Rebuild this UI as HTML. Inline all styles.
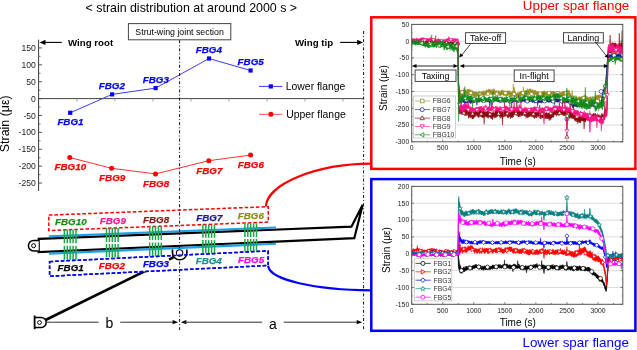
<!DOCTYPE html>
<html><head><meta charset="utf-8"><style>
html,body{margin:0;padding:0;background:#fff;width:637px;height:350px;overflow:hidden}
svg{display:block;will-change:transform}
text{font-family:"Liberation Sans", sans-serif}
</style></head><body>
<svg width="637" height="350" viewBox="0 0 637 350">
<defs>
<clipPath id="clipU"><rect x="411.7" y="24.4" width="211.1" height="117.4"/></clipPath>
<clipPath id="clipL"><rect x="411.7" y="186.4" width="211.1" height="117.9"/></clipPath>
</defs>
<rect width="637" height="350" fill="#fff"/>
<text x="191.3" y="12.4" font-size="12.4" text-anchor="middle" font-weight="normal" font-style="normal" fill="#000" >&lt; strain distribution at around 2000 s &gt;</text>
<line x1="38.6" y1="39.6" x2="38.6" y2="191" stroke="#3a3a3a" stroke-width="1" />
<line x1="38.6" y1="183.05" x2="42.1" y2="183.05" stroke="#444" stroke-width="0.9" />
<text x="35.8" y="186.15" font-size="8.6" text-anchor="end" font-weight="normal" font-style="normal" fill="#222" >-250</text>
<line x1="38.6" y1="174.6" x2="40.6" y2="174.6" stroke="#555" stroke-width="0.8" />
<line x1="38.6" y1="166.16" x2="42.1" y2="166.16" stroke="#444" stroke-width="0.9" />
<text x="35.8" y="169.26" font-size="8.6" text-anchor="end" font-weight="normal" font-style="normal" fill="#222" >-200</text>
<line x1="38.6" y1="157.71" x2="40.6" y2="157.71" stroke="#555" stroke-width="0.8" />
<line x1="38.6" y1="149.27" x2="42.1" y2="149.27" stroke="#444" stroke-width="0.9" />
<text x="35.8" y="152.37" font-size="8.6" text-anchor="end" font-weight="normal" font-style="normal" fill="#222" >-150</text>
<line x1="38.6" y1="140.82" x2="40.6" y2="140.82" stroke="#555" stroke-width="0.8" />
<line x1="38.6" y1="132.38" x2="42.1" y2="132.38" stroke="#444" stroke-width="0.9" />
<text x="35.8" y="135.48" font-size="8.6" text-anchor="end" font-weight="normal" font-style="normal" fill="#222" >-100</text>
<line x1="38.6" y1="123.94" x2="40.6" y2="123.94" stroke="#555" stroke-width="0.8" />
<line x1="38.6" y1="115.49" x2="42.1" y2="115.49" stroke="#444" stroke-width="0.9" />
<text x="35.8" y="118.59" font-size="8.6" text-anchor="end" font-weight="normal" font-style="normal" fill="#222" >-50</text>
<line x1="38.6" y1="107.04" x2="40.6" y2="107.04" stroke="#555" stroke-width="0.8" />
<line x1="38.6" y1="98.6" x2="42.1" y2="98.6" stroke="#444" stroke-width="0.9" />
<text x="35.8" y="101.7" font-size="8.6" text-anchor="end" font-weight="normal" font-style="normal" fill="#222" >0</text>
<line x1="38.6" y1="90.16" x2="40.6" y2="90.16" stroke="#555" stroke-width="0.8" />
<line x1="38.6" y1="81.71" x2="42.1" y2="81.71" stroke="#444" stroke-width="0.9" />
<text x="35.8" y="84.81" font-size="8.6" text-anchor="end" font-weight="normal" font-style="normal" fill="#222" >50</text>
<line x1="38.6" y1="73.26" x2="40.6" y2="73.26" stroke="#555" stroke-width="0.8" />
<line x1="38.6" y1="64.82" x2="42.1" y2="64.82" stroke="#444" stroke-width="0.9" />
<text x="35.8" y="67.92" font-size="8.6" text-anchor="end" font-weight="normal" font-style="normal" fill="#222" >100</text>
<line x1="38.6" y1="56.37" x2="40.6" y2="56.37" stroke="#555" stroke-width="0.8" />
<line x1="38.6" y1="47.93" x2="42.1" y2="47.93" stroke="#444" stroke-width="0.9" />
<text x="35.8" y="51.03" font-size="8.6" text-anchor="end" font-weight="normal" font-style="normal" fill="#222" >150</text>
<line x1="38.6" y1="98.6" x2="363.6" y2="98.6" stroke="#444" stroke-width="1" />
<line x1="76.9" y1="98.6" x2="76.9" y2="101.6" stroke="#999" stroke-width="0.9" />
<line x1="114.9" y1="98.6" x2="114.9" y2="101.6" stroke="#999" stroke-width="0.9" />
<line x1="152.9" y1="98.6" x2="152.9" y2="101.6" stroke="#999" stroke-width="0.9" />
<line x1="190.9" y1="98.6" x2="190.9" y2="101.6" stroke="#999" stroke-width="0.9" />
<line x1="228.9" y1="98.6" x2="228.9" y2="101.6" stroke="#999" stroke-width="0.9" />
<line x1="266.9" y1="98.6" x2="266.9" y2="101.6" stroke="#999" stroke-width="0.9" />
<line x1="304.9" y1="98.6" x2="304.9" y2="101.6" stroke="#999" stroke-width="0.9" />
<line x1="342.9" y1="98.6" x2="342.9" y2="101.6" stroke="#999" stroke-width="0.9" />
<text transform="translate(8.9,123.8) rotate(-90)" font-size="12.4" text-anchor="middle" fill="#000">Strain (&#956;&#949;)</text>
<line x1="42" y1="42.4" x2="61.8" y2="42.4" stroke="#000" stroke-width="1.1" />
<polygon points="39.6,42.4 45.5,39.8 45.5,45" fill="#000"/>
<text x="68" y="46.3" font-size="9.7" text-anchor="start" font-weight="bold" font-style="normal" fill="#000" >Wing root</text>
<text x="295" y="46.3" font-size="9.7" text-anchor="start" font-weight="bold" font-style="normal" fill="#000" >Wing tip</text>
<line x1="340.2" y1="42.4" x2="360" y2="42.4" stroke="#000" stroke-width="1.1" />
<polygon points="363,42.4 357.2,39.8 357.2,45" fill="#000"/>
<rect x="128.4" y="23.6" width="102.4" height="16.2" fill="#fff" stroke="#444" stroke-width="1"/>
<text x="179.6" y="35.2" font-size="8.8" text-anchor="middle" font-weight="normal" font-style="normal" fill="#000" >Strut-wing joint section</text>
<polyline points="70.2,112.8 112.1,94.4 155.6,88.1 209,58.5 250.6,70.5" fill="none" stroke="#3a3aff" stroke-width="1"/>
<rect x="68.1" y="110.7" width="4.2" height="4.2" fill="#0000ff"/>
<rect x="110" y="92.3" width="4.2" height="4.2" fill="#0000ff"/>
<rect x="153.5" y="86" width="4.2" height="4.2" fill="#0000ff"/>
<rect x="206.9" y="56.4" width="4.2" height="4.2" fill="#0000ff"/>
<rect x="248.5" y="68.4" width="4.2" height="4.2" fill="#0000ff"/>
<polyline points="69.8,157.5 111.6,168.3 155.5,173.9 208.8,160.7 250.6,155.1" fill="none" stroke="#ff3030" stroke-width="1"/>
<circle cx="69.8" cy="157.5" r="2.5" fill="#ff0000"/>
<circle cx="111.6" cy="168.3" r="2.5" fill="#ff0000"/>
<circle cx="155.5" cy="173.9" r="2.5" fill="#ff0000"/>
<circle cx="208.8" cy="160.7" r="2.5" fill="#ff0000"/>
<circle cx="250.6" cy="155.1" r="2.5" fill="#ff0000"/>
<text x="57.4" y="125" font-size="9.8" text-anchor="start" font-weight="normal" font-style="normal" fill="#0000ff" style="font-weight:bold;font-style:italic" stroke="#0000ff" stroke-width="0.25">FBG1</text>
<text x="98.8" y="88.8" font-size="9.8" text-anchor="start" font-weight="normal" font-style="normal" fill="#0000ff" style="font-weight:bold;font-style:italic" stroke="#0000ff" stroke-width="0.25">FBG2</text>
<text x="142.8" y="82.5" font-size="9.8" text-anchor="start" font-weight="normal" font-style="normal" fill="#0000ff" style="font-weight:bold;font-style:italic" stroke="#0000ff" stroke-width="0.25">FBG3</text>
<text x="195.8" y="53.3" font-size="9.8" text-anchor="start" font-weight="normal" font-style="normal" fill="#0000ff" style="font-weight:bold;font-style:italic" stroke="#0000ff" stroke-width="0.25">FBG4</text>
<text x="237.6" y="65.2" font-size="9.8" text-anchor="start" font-weight="normal" font-style="normal" fill="#0000ff" style="font-weight:bold;font-style:italic" stroke="#0000ff" stroke-width="0.25">FBG5</text>
<text x="54.5" y="170.2" font-size="9.8" text-anchor="start" font-weight="normal" font-style="normal" fill="#ff0000" style="font-weight:bold;font-style:italic" stroke="#ff0000" stroke-width="0.25">FBG10</text>
<text x="99.1" y="180.6" font-size="9.8" text-anchor="start" font-weight="normal" font-style="normal" fill="#ff0000" style="font-weight:bold;font-style:italic" stroke="#ff0000" stroke-width="0.25">FBG9</text>
<text x="143" y="186.8" font-size="9.8" text-anchor="start" font-weight="normal" font-style="normal" fill="#ff0000" style="font-weight:bold;font-style:italic" stroke="#ff0000" stroke-width="0.25">FBG8</text>
<text x="196.3" y="174" font-size="9.8" text-anchor="start" font-weight="normal" font-style="normal" fill="#ff0000" style="font-weight:bold;font-style:italic" stroke="#ff0000" stroke-width="0.25">FBG7</text>
<text x="237.8" y="168" font-size="9.8" text-anchor="start" font-weight="normal" font-style="normal" fill="#ff0000" style="font-weight:bold;font-style:italic" stroke="#ff0000" stroke-width="0.25">FBG6</text>
<line x1="259" y1="86.4" x2="282.4" y2="86.4" stroke="#3a3aff" stroke-width="1" />
<rect x="268.7" y="84.3" width="4.2" height="4.2" fill="#0000ff"/>
<text x="285.8" y="89.9" font-size="10.4" text-anchor="start" font-weight="normal" font-style="normal" fill="#000" >Lower flange</text>
<line x1="259" y1="114.3" x2="282.4" y2="114.3" stroke="#ff5050" stroke-width="1" />
<circle cx="270.9" cy="114.3" r="2.5" fill="#ff0000"/>
<text x="286.2" y="117.8" font-size="10.4" text-anchor="start" font-weight="normal" font-style="normal" fill="#000" >Upper flange</text>
<polygon points="38.7,238.9 351.4,226.7 362.7,204.7 354.3,238.2 38.7,252" fill="#fff" stroke="#000" stroke-width="2.2" stroke-linejoin="miter"/>
<line x1="49" y1="236.4" x2="276" y2="227.54" stroke="#1ea0e6" stroke-width="2.1" />
<line x1="49" y1="253.65" x2="276" y2="243.72" stroke="#1ea0e6" stroke-width="2.1" />
<path d="M38.7,240.5 L33.6,240.5 A5.2,5.2 0 0 0 33.6,250.9 L38.7,250.9" fill="#fff" stroke="#000" stroke-width="1.5"/>
<circle cx="33.6" cy="245.7" r="2" fill="none" stroke="#000" stroke-width="1"/>
<line x1="45.5" y1="320" x2="173" y2="257.3" stroke="#000" stroke-width="2.6" />
<polygon points="48.8,215.1 268.3,206.69 268.3,222.09 48.8,230.5" fill="#fff" stroke="#ff0000" stroke-width="1.5" stroke-dasharray="3.6,2"/>
<polygon points="49.6,261.6 268.1,250.89 268.1,265.49 49.6,276.2" fill="#fff" stroke="#0000ff" stroke-width="1.5" stroke-dasharray="3.6,2"/>
<line x1="64.4" y1="229.7" x2="64.4" y2="243.3" stroke="#18a84a" stroke-width="1.5" />
<line x1="67.3" y1="229.7" x2="67.3" y2="243.3" stroke="#18a84a" stroke-width="1.5" />
<line x1="70.2" y1="229.7" x2="70.2" y2="243.3" stroke="#18a84a" stroke-width="1.5" />
<line x1="73.1" y1="229.7" x2="73.1" y2="243.3" stroke="#18a84a" stroke-width="1.5" />
<line x1="76" y1="229.7" x2="76" y2="243.3" stroke="#18a84a" stroke-width="1.5" />
<line x1="64.4" y1="245.7" x2="64.4" y2="259.8" stroke="#18a84a" stroke-width="1.5" />
<line x1="67.3" y1="245.7" x2="67.3" y2="259.8" stroke="#18a84a" stroke-width="1.5" />
<line x1="70.2" y1="245.7" x2="70.2" y2="259.8" stroke="#18a84a" stroke-width="1.5" />
<line x1="73.1" y1="245.7" x2="73.1" y2="259.8" stroke="#18a84a" stroke-width="1.5" />
<line x1="76" y1="245.7" x2="76" y2="259.8" stroke="#18a84a" stroke-width="1.5" />
<line x1="106.5" y1="227.9" x2="106.5" y2="242" stroke="#18a84a" stroke-width="1.5" />
<line x1="109.4" y1="227.9" x2="109.4" y2="242" stroke="#18a84a" stroke-width="1.5" />
<line x1="112.3" y1="227.9" x2="112.3" y2="242" stroke="#18a84a" stroke-width="1.5" />
<line x1="115.2" y1="227.9" x2="115.2" y2="242" stroke="#18a84a" stroke-width="1.5" />
<line x1="118.1" y1="227.9" x2="118.1" y2="242" stroke="#18a84a" stroke-width="1.5" />
<line x1="106.5" y1="243.9" x2="106.5" y2="257.4" stroke="#18a84a" stroke-width="1.5" />
<line x1="109.4" y1="243.9" x2="109.4" y2="257.4" stroke="#18a84a" stroke-width="1.5" />
<line x1="112.3" y1="243.9" x2="112.3" y2="257.4" stroke="#18a84a" stroke-width="1.5" />
<line x1="115.2" y1="243.9" x2="115.2" y2="257.4" stroke="#18a84a" stroke-width="1.5" />
<line x1="118.1" y1="243.9" x2="118.1" y2="257.4" stroke="#18a84a" stroke-width="1.5" />
<line x1="149.7" y1="226.2" x2="149.7" y2="239.9" stroke="#18a84a" stroke-width="1.5" />
<line x1="152.6" y1="226.2" x2="152.6" y2="239.9" stroke="#18a84a" stroke-width="1.5" />
<line x1="155.5" y1="226.2" x2="155.5" y2="239.9" stroke="#18a84a" stroke-width="1.5" />
<line x1="158.4" y1="226.2" x2="158.4" y2="239.9" stroke="#18a84a" stroke-width="1.5" />
<line x1="161.3" y1="226.2" x2="161.3" y2="239.9" stroke="#18a84a" stroke-width="1.5" />
<line x1="149.7" y1="242.5" x2="149.7" y2="256.5" stroke="#18a84a" stroke-width="1.5" />
<line x1="152.6" y1="242.5" x2="152.6" y2="256.5" stroke="#18a84a" stroke-width="1.5" />
<line x1="155.5" y1="242.5" x2="155.5" y2="256.5" stroke="#18a84a" stroke-width="1.5" />
<line x1="158.4" y1="242.5" x2="158.4" y2="256.5" stroke="#18a84a" stroke-width="1.5" />
<line x1="161.3" y1="242.5" x2="161.3" y2="256.5" stroke="#18a84a" stroke-width="1.5" />
<line x1="202.9" y1="224.6" x2="202.9" y2="237.8" stroke="#18a84a" stroke-width="1.5" />
<line x1="205.8" y1="224.6" x2="205.8" y2="237.8" stroke="#18a84a" stroke-width="1.5" />
<line x1="208.7" y1="224.6" x2="208.7" y2="237.8" stroke="#18a84a" stroke-width="1.5" />
<line x1="211.6" y1="224.6" x2="211.6" y2="237.8" stroke="#18a84a" stroke-width="1.5" />
<line x1="214.5" y1="224.6" x2="214.5" y2="237.8" stroke="#18a84a" stroke-width="1.5" />
<line x1="202.9" y1="240.1" x2="202.9" y2="253.3" stroke="#18a84a" stroke-width="1.5" />
<line x1="205.8" y1="240.1" x2="205.8" y2="253.3" stroke="#18a84a" stroke-width="1.5" />
<line x1="208.7" y1="240.1" x2="208.7" y2="253.3" stroke="#18a84a" stroke-width="1.5" />
<line x1="211.6" y1="240.1" x2="211.6" y2="253.3" stroke="#18a84a" stroke-width="1.5" />
<line x1="214.5" y1="240.1" x2="214.5" y2="253.3" stroke="#18a84a" stroke-width="1.5" />
<line x1="244.9" y1="223.4" x2="244.9" y2="237" stroke="#18a84a" stroke-width="1.5" />
<line x1="247.8" y1="223.4" x2="247.8" y2="237" stroke="#18a84a" stroke-width="1.5" />
<line x1="250.7" y1="223.4" x2="250.7" y2="237" stroke="#18a84a" stroke-width="1.5" />
<line x1="253.6" y1="223.4" x2="253.6" y2="237" stroke="#18a84a" stroke-width="1.5" />
<line x1="256.5" y1="223.4" x2="256.5" y2="237" stroke="#18a84a" stroke-width="1.5" />
<line x1="244.9" y1="238.9" x2="244.9" y2="251.5" stroke="#18a84a" stroke-width="1.5" />
<line x1="247.8" y1="238.9" x2="247.8" y2="251.5" stroke="#18a84a" stroke-width="1.5" />
<line x1="250.7" y1="238.9" x2="250.7" y2="251.5" stroke="#18a84a" stroke-width="1.5" />
<line x1="253.6" y1="238.9" x2="253.6" y2="251.5" stroke="#18a84a" stroke-width="1.5" />
<line x1="256.5" y1="238.9" x2="256.5" y2="251.5" stroke="#18a84a" stroke-width="1.5" />
<text x="55" y="225.2" font-size="9.8" text-anchor="start" font-weight="normal" font-style="normal" fill="#1a8a1a" style="font-weight:bold;font-style:italic" stroke="#1a8a1a" stroke-width="0.25">FBG10</text>
<text x="99.8" y="223.9" font-size="9.8" text-anchor="start" font-weight="normal" font-style="normal" fill="#ff1493" style="font-weight:bold;font-style:italic" stroke="#ff1493" stroke-width="0.25">FBG9</text>
<text x="143" y="222.5" font-size="9.8" text-anchor="start" font-weight="normal" font-style="normal" fill="#8b1a1a" style="font-weight:bold;font-style:italic" stroke="#8b1a1a" stroke-width="0.25">FBG8</text>
<text x="196.3" y="220.6" font-size="9.8" text-anchor="start" font-weight="normal" font-style="normal" fill="#1a1a8c" style="font-weight:bold;font-style:italic" stroke="#1a1a8c" stroke-width="0.25">FBG7</text>
<text x="237.8" y="219.4" font-size="9.8" text-anchor="start" font-weight="normal" font-style="normal" fill="#8c8c1a" style="font-weight:bold;font-style:italic" stroke="#8c8c1a" stroke-width="0.25">FBG6</text>
<text x="57.6" y="270.8" font-size="9.8" text-anchor="start" font-weight="normal" font-style="normal" fill="#000" style="font-weight:bold;font-style:italic" stroke="#000" stroke-width="0.25">FBG1</text>
<text x="98.8" y="268.7" font-size="9.8" text-anchor="start" font-weight="normal" font-style="normal" fill="#ff0000" style="font-weight:bold;font-style:italic" stroke="#ff0000" stroke-width="0.25">FBG2</text>
<text x="142.9" y="266.7" font-size="9.8" text-anchor="start" font-weight="normal" font-style="normal" fill="#0000ff" style="font-weight:bold;font-style:italic" stroke="#0000ff" stroke-width="0.25">FBG3</text>
<text x="195.7" y="263.7" font-size="9.8" text-anchor="start" font-weight="normal" font-style="normal" fill="#1a8c8c" style="font-weight:bold;font-style:italic" stroke="#1a8c8c" stroke-width="0.25">FBG4</text>
<text x="238" y="262.8" font-size="9.8" text-anchor="start" font-weight="normal" font-style="normal" fill="#ff00ff" style="font-weight:bold;font-style:italic" stroke="#ff00ff" stroke-width="0.25">FBG5</text>
<path d="M34.6,317.6 L41.3,317.6 A4.9,4.9 0 0 1 41.3,327.4 L34.6,327.4" fill="#fff" stroke="#000" stroke-width="1.5"/>
<line x1="34.6" y1="315.5" x2="34.6" y2="329.2" stroke="#000" stroke-width="1.8" />
<circle cx="39.5" cy="322.5" r="1.9" fill="none" stroke="#000" stroke-width="1"/>
<line x1="46.5" y1="322.2" x2="98.6" y2="322.2" stroke="#333" stroke-width="1" />
<line x1="120.2" y1="322.2" x2="175" y2="322.2" stroke="#333" stroke-width="1" />
<polygon points="178.1,322.2 172.6,320.1 172.6,324.3" fill="#000"/>
<polygon points="180.9,322.2 186.4,320.1 186.4,324.3" fill="#000"/>
<line x1="184" y1="322.2" x2="262.2" y2="322.2" stroke="#333" stroke-width="1" />
<line x1="283.7" y1="322.2" x2="359" y2="322.2" stroke="#333" stroke-width="1" />
<polygon points="362.2,322.2 356.7,320.1 356.7,324.3" fill="#000"/>
<text x="109.3" y="328.4" font-size="14" text-anchor="middle" font-weight="normal" font-style="normal" fill="#000" >b</text>
<text x="273" y="328.6" font-size="14" text-anchor="middle" font-weight="normal" font-style="normal" fill="#000" >a</text>
<line x1="179.6" y1="40.2" x2="179.6" y2="330" stroke="#111" stroke-width="1" stroke-dasharray="3,2.1,1,2.1"/>
<line x1="363.6" y1="31" x2="363.6" y2="330" stroke="#111" stroke-width="1" stroke-dasharray="3,2.1,1,2.1"/>
<path d="M172.5,249.5 L172.5,252.6 A7.2,7.2 0 0 0 186.9,252.6 L186.9,249.5" fill="#fff" stroke="#000" stroke-width="1.6"/>
<circle cx="179.6" cy="252.9" r="3.2" fill="none" stroke="#000" stroke-width="1.1"/>
<line x1="169" y1="259.6" x2="173.5" y2="257.2" stroke="#000" stroke-width="2.6" />
<polygon points="49.6,261.6 268.1,250.89 268.1,265.49 49.6,276.2" fill="none" stroke="#0000ff" stroke-width="1.5" stroke-dasharray="3.6,2"/>
<path d="M265.9,206.5 C267,184 316,163.8 371,163.6" fill="none" stroke="#ff0000" stroke-width="2.2"/>
<path d="M268.1,266 C270,280 315,289.8 371,290.3" fill="none" stroke="#0000ff" stroke-width="2.2"/>
<rect x="371.3" y="17.3" width="264.1" height="151.6" fill="none" stroke="#ff0000" stroke-width="2.5"/>
<rect x="371.3" y="179.1" width="264.1" height="151.7" fill="none" stroke="#0000ff" stroke-width="2.5"/>
<text x="629.3" y="9.9" font-size="13.4" text-anchor="end" font-weight="normal" font-style="normal" fill="#ff0000" >Upper spar flange</text>
<text x="628.9" y="346.9" font-size="13.4" text-anchor="end" font-weight="normal" font-style="normal" fill="#0000ff" >Lower spar flange</text>
<line x1="411.7" y1="125.03" x2="622.8" y2="125.03" stroke="#d4d4d4" stroke-width="0.8" />
<line x1="411.7" y1="108.26" x2="622.8" y2="108.26" stroke="#d4d4d4" stroke-width="0.8" />
<line x1="411.7" y1="91.49" x2="622.8" y2="91.49" stroke="#d4d4d4" stroke-width="0.8" />
<line x1="411.7" y1="74.71" x2="622.8" y2="74.71" stroke="#d4d4d4" stroke-width="0.8" />
<line x1="411.7" y1="57.94" x2="622.8" y2="57.94" stroke="#d4d4d4" stroke-width="0.8" />
<line x1="411.7" y1="41.17" x2="622.8" y2="41.17" stroke="#d4d4d4" stroke-width="0.8" />
<line x1="411.7" y1="287.46" x2="622.8" y2="287.46" stroke="#d4d4d4" stroke-width="0.8" />
<line x1="411.7" y1="270.61" x2="622.8" y2="270.61" stroke="#d4d4d4" stroke-width="0.8" />
<line x1="411.7" y1="253.77" x2="622.8" y2="253.77" stroke="#d4d4d4" stroke-width="0.8" />
<line x1="411.7" y1="236.93" x2="622.8" y2="236.93" stroke="#d4d4d4" stroke-width="0.8" />
<line x1="411.7" y1="220.09" x2="622.8" y2="220.09" stroke="#d4d4d4" stroke-width="0.8" />
<line x1="411.7" y1="203.24" x2="622.8" y2="203.24" stroke="#d4d4d4" stroke-width="0.8" />
<g clip-path="url(#clipU)">
<path d="M411.70,41.3 412.10,41.2 412.50,41.4 412.90,41.7 413.30,41.7 413.70,41.5 414.10,41.1 414.50,41.3 414.90,41.3 415.30,41.6 415.70,41.6 416.10,41.7 416.50,41.6 416.90,41.5 417.30,41.8 417.70,41.6 418.10,42.1 418.50,41.9 418.90,42.3 419.30,41.9 419.70,42.4 420.10,42.0 420.50,41.9 420.90,42.2 421.30,42.4 421.70,42.1 422.10,42.3 422.50,42.2 422.90,42.5 423.30,42.4 423.70,41.9 424.10,42.3 424.50,42.2 424.90,42.2 425.30,41.9 425.70,41.8 426.10,41.6 426.50,41.9 426.90,41.9 427.30,41.5 427.70,41.7 428.10,41.8 428.50,41.8 428.90,42.1 429.30,42.2 429.70,41.9 430.10,41.5 430.50,42.0 430.90,41.5 431.30,41.6 431.70,41.5 432.10,41.7 432.50,41.7 432.90,41.9 433.30,41.7 433.70,41.8 434.10,41.8 434.50,41.9 434.90,41.5 435.30,42.1 435.70,41.7 436.10,41.9 436.50,42.0 436.90,42.0 437.30,41.9 437.70,42.3 438.10,42.5 438.50,41.9 438.90,42.0 439.30,42.0 439.70,42.0 440.10,42.0 440.50,41.9 440.90,41.8 441.30,42.1 441.70,42.3 442.10,42.4 442.50,41.9 442.90,42.1 443.30,41.8 443.70,42.2 444.10,41.7 444.50,42.1 444.90,42.2 445.30,42.4 445.70,42.1 446.10,42.1 446.50,42.4 446.90,42.5 447.30,42.3 447.70,42.3 448.10,42.6 448.50,42.5 448.90,42.6 449.30,42.6 449.70,43.0 450.10,43.2 450.50,42.9 450.90,43.0 451.30,42.7 451.70,42.8 452.10,42.8 452.50,42.9 452.90,42.8 453.30,42.6 453.70,42.4 454.10,42.7 454.50,42.5 454.90,42.4 455.30,42.3 455.70,42.6 456.10,42.5 456.50,42.8 456.90,42.9 457.30,42.7 457.70,43.1 458.10,43.0 458.50,79.1 458.90,85.1 459.30,85.5 459.70,92.8 460.10,90.2 460.50,92.6 460.90,90.4 461.30,91.7 461.70,91.6 462.10,90.3 462.50,91.3 462.90,89.9 463.30,89.5 463.70,91.4 464.10,89.0 464.50,89.7 464.90,90.0 465.30,90.1 465.70,90.3 466.10,90.9 466.50,91.3 466.90,89.3 467.30,89.4 467.70,89.2 468.10,89.5 468.50,89.4 468.90,90.6 469.30,88.8 469.70,90.2 470.10,90.5 470.50,90.0 470.90,90.3 471.30,90.9 471.70,91.1 472.10,90.3 472.50,91.3 472.90,91.7 473.30,92.3 473.70,91.0 474.10,92.2 474.50,92.1 474.90,91.9 475.30,92.1 475.70,92.4 476.10,91.5 476.50,92.0 476.90,92.1 477.30,92.3 477.70,93.3 478.10,93.7 478.50,93.5 478.90,92.2 479.30,91.5 479.70,92.6 480.10,91.6 480.50,92.3 480.90,92.2 481.30,92.0 481.70,92.6 482.10,92.6 482.50,92.0 482.90,90.6 483.30,91.5 483.70,90.9 484.10,92.4 484.50,91.8 484.90,91.2 485.30,90.7 485.70,91.5 486.10,90.9 486.50,89.8 486.90,90.0 487.30,89.9 487.70,90.7 488.10,90.5 488.50,88.9 488.90,89.8 489.30,90.6 489.70,89.8 490.10,89.9 490.50,90.3 490.90,90.1 491.30,90.2 491.70,89.8 492.10,90.2 492.50,91.2 492.90,90.8 493.30,89.9 493.70,91.1 494.10,89.9 494.50,90.2 494.90,90.2 495.30,90.8 495.70,91.8 496.10,90.7 496.50,91.5 496.90,90.6 497.30,90.7 497.70,92.1 498.10,91.4 498.50,90.7 498.90,90.4 499.30,90.9 499.70,91.9 500.10,92.4 500.50,92.4 500.90,91.2 501.30,91.0 501.70,90.1 502.10,91.0 502.50,90.4 502.90,90.6 503.30,91.8 503.70,92.1 504.10,92.3 504.50,91.6 504.90,90.4 505.30,92.5 505.70,91.6 506.10,91.1 506.50,92.0 506.90,91.9 507.30,91.3 507.70,92.5 508.10,90.9 508.50,91.0 508.90,90.7 509.30,90.3 509.70,91.4 510.10,92.8 510.50,91.7 510.90,91.4 511.30,91.6 511.70,92.7 512.10,92.0 512.50,92.0 512.90,91.1 513.30,84.1 513.70,91.3 514.10,92.4 514.50,87.3 514.90,91.6 515.30,92.9 515.70,93.1 516.10,93.2 516.50,93.4 516.90,93.8 517.30,92.8 517.70,92.7 518.10,92.6 518.50,93.4 518.90,92.6 519.30,92.2 519.70,91.8 520.10,92.3 520.50,91.3 520.90,90.9 521.30,91.0 521.70,91.5 522.10,91.3 522.50,92.3 522.90,91.7 523.30,87.0 523.70,91.2 524.10,91.5 524.50,90.6 524.90,91.7 525.30,91.3 525.70,90.5 526.10,90.8 526.50,91.4 526.90,90.0 527.30,90.0 527.70,89.4 528.10,90.2 528.50,90.6 528.90,90.1 529.30,90.7 529.70,88.9 530.10,88.7 530.50,89.3 530.90,90.4 531.30,89.2 531.70,91.3 532.10,91.1 532.50,89.8 532.90,89.5 533.30,91.1 533.70,90.8 534.10,90.2 534.50,90.3 534.90,90.9 535.30,90.2 535.70,91.2 536.10,92.2 536.50,91.3 536.90,91.2 537.30,91.3 537.70,91.6 538.10,91.7 538.50,92.0 538.90,93.3 539.30,92.3 539.70,93.0 540.10,93.2 540.50,93.7 540.90,92.3 541.30,92.6 541.70,92.1 542.10,90.9 542.50,92.3 542.90,92.3 543.30,92.1 543.70,90.7 544.10,92.2 544.50,90.7 544.90,92.5 545.30,91.8 545.70,92.6 546.10,91.9 546.50,92.7 546.90,91.8 547.30,92.4 547.70,91.7 548.10,92.6 548.50,92.3 548.90,92.5 549.30,91.8 549.70,92.2 550.10,91.5 550.50,92.4 550.90,92.5 551.30,92.3 551.70,91.3 552.10,91.7 552.50,91.2 552.90,91.4 553.30,91.9 553.70,91.8 554.10,91.3 554.50,91.1 554.90,91.9 555.30,93.3 555.70,93.4 556.10,92.5 556.50,92.8 556.90,93.6 557.30,93.5 557.70,92.4 558.10,92.5 558.50,92.2 558.90,93.1 559.30,93.6 559.70,91.5 560.10,92.0 560.50,92.8 560.90,92.5 561.30,92.6 561.70,92.3 562.10,91.5 562.50,91.7 562.90,91.7 563.30,90.7 563.70,92.1 564.10,91.3 564.50,92.0 564.90,92.7 565.30,91.1 565.70,92.1 566.10,92.6 566.50,90.2 566.90,90.1 567.30,90.6 567.70,91.8 568.10,90.7 568.50,90.1 568.90,92.5 569.30,90.6 569.70,92.7 570.10,93.5 570.50,93.5 570.90,95.5 571.30,95.2 571.70,95.8 572.10,90.3 572.50,96.3 572.90,97.3 573.30,98.2 573.70,97.3 574.10,98.3 574.50,98.6 574.90,96.9 575.30,97.9 575.70,97.4 576.10,96.8 576.50,98.0 576.90,97.4 577.30,98.4 577.70,98.1 578.10,98.4 578.50,98.1 578.90,96.5 579.30,96.5 579.70,97.1 580.10,97.1 580.50,97.1 580.90,96.9 581.30,96.3 581.70,97.6 582.10,97.4 582.50,97.4 582.90,96.0 583.30,97.3 583.70,95.4 584.10,96.5 584.50,94.9 584.90,95.7 585.30,95.7 585.70,96.3 586.10,96.1 586.50,96.6 586.90,97.9 587.30,97.6 587.70,96.4 588.10,98.0 588.50,98.4 588.90,97.1 589.30,97.6 589.70,98.0 590.10,96.3 590.50,97.4 590.90,97.1 591.30,97.8 591.70,97.2 592.10,97.6 592.50,96.8 592.90,98.6 593.30,97.7 593.70,98.9 594.10,98.7 594.50,97.5 594.90,96.1 595.30,95.8 595.70,97.0 596.10,96.1 596.50,96.6 596.90,95.8 597.30,95.1 597.70,96.4 598.10,94.9 598.50,96.2 598.90,95.3 599.30,95.2 599.70,94.8 600.10,95.4 600.50,95.0 600.90,96.1 601.30,97.1 601.70,97.4 602.10,97.8 602.50,96.7 602.90,96.9 603.30,96.5 603.70,95.9 604.10,95.3 604.50,92.4 604.90,91.5 605.30,89.9 605.70,86.3 606.10,80.4 606.50,74.2 606.90,67.9 607.30,60.7 607.70,55.8 608.10,53.3 608.50,52.8 608.90,52.5 609.30,52.1 609.70,52.0 610.10,52.4 610.50,53.2 610.90,52.4 611.30,52.5 611.70,52.5 612.10,53.2 612.50,52.9 612.90,53.1 613.30,52.2 613.70,52.8 614.10,52.1 614.50,52.5 614.90,51.9 615.30,52.6 615.70,51.9 616.10,51.6 616.50,51.3 616.90,52.3 617.30,52.1 617.70,51.6 618.10,52.4 618.50,51.9 618.90,52.3 619.30,52.1 619.70,52.3 620.10,52.0 620.50,52.1 620.90,48.8 621.30,52.3 621.70,51.3 622.10,51.7 622.50,51.7 622.90,50.8 622.90,53.2 622.50,53.5 622.10,53.9 621.70,57.2 621.30,54.4 620.90,54.2 620.50,53.6 620.10,53.8 619.70,54.2 619.30,54.5 618.90,54.2 618.50,54.3 618.10,53.7 617.70,54.6 617.30,53.9 616.90,57.8 616.50,53.9 616.10,54.8 615.70,54.4 615.30,54.3 614.90,54.2 614.50,54.2 614.10,54.6 613.70,54.1 613.30,54.9 612.90,59.0 612.50,54.7 612.10,55.7 611.70,54.7 611.30,54.8 610.90,54.2 610.50,55.6 610.10,55.3 609.70,54.4 609.30,55.4 608.90,54.4 608.50,55.1 608.10,55.3 607.70,58.3 607.30,63.6 606.90,70.3 606.50,77.2 606.10,82.0 605.70,89.6 605.30,93.4 604.90,95.5 604.50,95.7 604.10,98.6 603.70,99.7 603.30,99.3 602.90,101.7 602.50,100.8 602.10,100.6 601.70,101.0 601.30,100.3 600.90,98.7 600.50,100.0 600.10,99.8 599.70,99.4 599.30,99.1 598.90,98.8 598.50,99.2 598.10,100.4 597.70,98.2 597.30,100.1 596.90,99.5 596.50,99.2 596.10,100.1 595.70,100.4 595.30,99.7 594.90,99.8 594.50,102.1 594.10,102.2 593.70,102.2 593.30,101.1 592.90,100.8 592.50,102.0 592.10,101.1 591.70,100.6 591.30,101.8 590.90,101.3 590.50,100.4 590.10,100.9 589.70,101.7 589.30,100.5 588.90,101.9 588.50,101.9 588.10,99.9 587.70,101.1 587.30,100.4 586.90,101.0 586.50,100.8 586.10,99.8 585.70,100.0 585.30,100.7 584.90,99.9 584.50,99.7 584.10,100.5 583.70,98.9 583.30,101.0 582.90,101.0 582.50,99.6 582.10,100.3 581.70,100.6 581.30,99.9 580.90,99.6 580.50,101.4 580.10,101.6 579.70,100.3 579.30,100.1 578.90,100.2 578.50,100.6 578.10,101.2 577.70,101.1 577.30,101.0 576.90,101.6 576.50,100.8 576.10,101.5 575.70,101.6 575.30,100.6 574.90,101.9 574.50,102.9 574.10,101.7 573.70,101.4 573.30,100.2 572.90,100.1 572.50,100.6 572.10,100.7 571.70,100.7 571.30,98.7 570.90,98.9 570.50,97.4 570.10,97.2 569.70,96.0 569.30,95.4 568.90,95.9 568.50,95.5 568.10,95.6 567.70,95.4 567.30,94.3 566.90,94.2 566.50,93.9 566.10,95.6 565.70,94.6 565.30,94.7 564.90,94.7 564.50,96.0 564.10,95.5 563.70,96.3 563.30,95.4 562.90,95.7 562.50,96.1 562.10,96.9 561.70,96.6 561.30,96.7 560.90,95.8 560.50,97.0 560.10,95.6 559.70,95.5 559.30,95.7 558.90,95.8 558.50,96.3 558.10,95.6 557.70,95.2 557.30,102.5 556.90,96.3 556.50,97.2 556.10,101.7 555.70,95.6 555.30,97.2 554.90,95.9 554.50,95.9 554.10,94.5 553.70,95.5 553.30,94.6 552.90,95.1 552.50,93.8 552.10,94.8 551.70,93.8 551.30,95.2 550.90,95.6 550.50,96.3 550.10,96.4 549.70,96.6 549.30,96.7 548.90,96.8 548.50,95.7 548.10,96.2 547.70,95.8 547.30,95.9 546.90,95.3 546.50,101.7 546.10,96.2 545.70,94.9 545.30,95.5 544.90,94.5 544.50,94.7 544.10,95.5 543.70,95.3 543.30,95.5 542.90,96.6 542.50,95.1 542.10,94.7 541.70,95.5 541.30,96.4 540.90,97.0 540.50,95.9 540.10,97.4 539.70,95.5 539.30,95.3 538.90,96.2 538.50,95.9 538.10,95.4 537.70,95.5 537.30,95.5 536.90,95.6 536.50,95.9 536.10,94.4 535.70,93.9 535.30,94.5 534.90,94.4 534.50,95.3 534.10,93.6 533.70,93.3 533.30,94.7 532.90,94.1 532.50,94.4 532.10,93.8 531.70,95.0 531.30,93.2 530.90,94.3 530.50,93.8 530.10,93.8 529.70,94.2 529.30,94.5 528.90,94.0 528.50,93.8 528.10,93.6 527.70,93.9 527.30,95.1 526.90,94.6 526.50,93.7 526.10,93.5 525.70,93.8 525.30,94.3 524.90,95.2 524.50,95.1 524.10,94.8 523.70,94.5 523.30,94.1 522.90,93.6 522.50,94.7 522.10,96.0 521.70,93.8 521.30,94.6 520.90,95.0 520.50,96.3 520.10,96.5 519.70,95.4 519.30,96.0 518.90,96.7 518.50,97.3 518.10,97.0 517.70,96.0 517.30,96.6 516.90,98.2 516.50,96.9 516.10,96.8 515.70,96.7 515.30,96.9 514.90,96.0 514.50,96.7 514.10,96.2 513.70,94.7 513.30,94.7 512.90,95.4 512.50,95.1 512.10,96.8 511.70,96.5 511.30,96.8 510.90,96.8 510.50,95.4 510.10,96.7 509.70,95.3 509.30,94.9 508.90,94.5 508.50,94.3 508.10,95.1 507.70,96.0 507.30,95.4 506.90,96.5 506.50,96.6 506.10,94.9 505.70,96.3 505.30,94.8 504.90,95.8 504.50,94.7 504.10,95.5 503.70,95.8 503.30,94.3 502.90,95.0 502.50,93.8 502.10,93.3 501.70,95.0 501.30,94.5 500.90,95.2 500.50,96.5 500.10,95.4 499.70,95.9 499.30,93.9 498.90,94.3 498.50,94.3 498.10,94.5 497.70,95.3 497.30,94.5 496.90,94.7 496.50,94.4 496.10,95.6 495.70,95.4 495.30,94.6 494.90,94.3 494.50,93.8 494.10,95.0 493.70,94.5 493.30,94.3 492.90,93.4 492.50,93.5 492.10,94.9 491.70,94.5 491.30,94.5 490.90,94.2 490.50,94.2 490.10,92.8 489.70,93.2 489.30,94.3 488.90,93.3 488.50,93.8 488.10,93.5 487.70,93.9 487.30,93.7 486.90,93.6 486.50,94.4 486.10,94.2 485.70,95.4 485.30,94.0 484.90,95.1 484.50,95.3 484.10,94.9 483.70,95.6 483.30,95.4 482.90,95.2 482.50,95.6 482.10,94.7 481.70,94.5 481.30,94.7 480.90,95.7 480.50,94.1 480.10,95.7 479.70,95.1 479.30,96.1 478.90,96.3 478.50,96.4 478.10,96.5 477.70,95.7 477.30,96.1 476.90,97.0 476.50,95.9 476.10,97.0 475.70,96.7 475.30,95.7 474.90,96.8 474.50,96.0 474.10,96.5 473.70,95.8 473.30,94.7 472.90,96.4 472.50,95.3 472.10,95.0 471.70,99.9 471.30,94.4 470.90,95.4 470.50,95.3 470.10,94.7 469.70,95.0 469.30,93.9 468.90,94.7 468.50,92.7 468.10,94.7 467.70,94.5 467.30,95.2 466.90,94.7 466.50,95.3 466.10,93.8 465.70,93.6 465.30,92.8 464.90,95.0 464.50,95.4 464.10,95.2 463.70,95.9 463.30,94.5 462.90,94.3 462.50,95.5 462.10,95.8 461.70,95.6 461.30,95.6 460.90,97.8 460.50,97.2 460.10,100.0 459.70,99.3 459.30,94.4 458.90,96.5 458.50,92.1 458.10,43.9 457.70,43.8 457.30,43.8 456.90,43.6 456.50,43.3 456.10,43.5 455.70,43.7 455.30,43.6 454.90,43.8 454.50,43.7 454.10,43.6 453.70,44.0 453.30,44.0 452.90,43.6 452.50,44.1 452.10,44.1 451.70,43.8 451.30,44.1 450.90,44.3 450.50,44.0 450.10,44.2 449.70,43.7 449.30,43.9 448.90,45.8 448.50,43.8 448.10,43.7 447.70,43.9 447.30,43.7 446.90,43.9 446.50,43.4 446.10,43.7 445.70,43.7 445.30,43.3 444.90,43.2 444.50,43.1 444.10,43.2 443.70,43.3 443.30,43.0 442.90,43.2 442.50,43.3 442.10,43.1 441.70,43.3 441.30,43.0 440.90,43.1 440.50,43.1 440.10,43.0 439.70,43.4 439.30,43.0 438.90,43.4 438.50,43.4 438.10,43.1 437.70,43.2 437.30,43.3 436.90,45.0 436.50,42.8 436.10,42.8 435.70,42.9 435.30,43.2 434.90,43.0 434.50,43.1 434.10,42.7 433.70,43.0 433.30,43.1 432.90,42.8 432.50,42.9 432.10,42.7 431.70,42.8 431.30,42.7 430.90,42.9 430.50,43.2 430.10,42.8 429.70,42.7 429.30,43.3 428.90,43.3 428.50,42.8 428.10,43.3 427.70,42.7 427.30,43.1 426.90,42.8 426.50,42.9 426.10,42.8 425.70,43.1 425.30,43.3 424.90,42.9 424.50,43.2 424.10,43.1 423.70,43.6 423.30,43.5 422.90,43.7 422.50,43.2 422.10,43.4 421.70,43.5 421.30,43.0 420.90,42.9 420.50,45.0 420.10,43.2 419.70,42.9 419.30,43.4 418.90,43.0 418.50,43.0 418.10,43.2 417.70,43.1 417.30,42.9 416.90,42.9 416.50,42.5 416.10,42.8 415.70,42.6 415.30,42.7 414.90,42.9 414.50,42.9 414.10,42.7 413.70,44.4 413.30,42.4 412.90,42.2 412.50,42.6 412.10,42.2 411.70,42.5Z" fill="#9a8f24" stroke="#9a8f24" stroke-width="0.5" stroke-linejoin="round"/>
<path d="M411.70,42.1 412.10,42.1 412.50,41.7 412.90,41.3 413.30,42.0 413.70,42.2 414.10,42.6 414.50,41.7 414.90,42.0 415.30,42.5 415.70,41.7 416.10,43.4 416.50,41.5 416.90,42.5 417.30,42.3 417.70,41.6 418.10,42.7 418.50,42.6 418.90,42.9 419.30,42.6 419.70,42.7 420.10,43.7 420.50,42.9 420.90,42.0 421.30,42.9 421.70,43.1 422.10,42.8 422.50,42.5 422.90,42.7 423.30,42.9 423.70,42.5 424.10,42.6 424.50,42.4 424.90,42.1 425.30,42.2 425.70,42.2 426.10,42.0 426.50,42.2 426.90,43.3 427.30,42.1 427.70,43.1 428.10,42.8 428.50,42.4 428.90,43.1 429.30,42.0 429.70,42.9 430.10,42.3 430.50,41.2 430.90,41.9 431.30,43.1 431.70,41.7 432.10,41.2 432.50,43.2 432.90,43.3 433.30,42.7 433.70,42.2 434.10,41.9 434.50,43.1 434.90,42.4 435.30,42.6 435.70,41.9 436.10,42.8 436.50,43.3 436.90,42.7 437.30,42.9 437.70,42.1 438.10,42.3 438.50,42.6 438.90,41.8 439.30,43.3 439.70,42.8 440.10,41.7 440.50,42.0 440.90,41.4 441.30,42.5 441.70,43.3 442.10,43.4 442.50,43.2 442.90,41.8 443.30,41.7 443.70,42.7 444.10,42.4 444.50,43.2 444.90,42.5 445.30,43.8 445.70,42.3 446.10,43.5 446.50,43.7 446.90,42.3 447.30,42.7 447.70,42.3 448.10,43.3 448.50,43.9 448.90,43.3 449.30,44.1 449.70,43.0 450.10,42.9 450.50,43.9 450.90,42.8 451.30,43.8 451.70,42.9 452.10,43.8 452.50,43.4 452.90,43.4 453.30,44.2 453.70,43.2 454.10,43.2 454.50,42.9 454.90,42.9 455.30,43.2 455.70,43.4 456.10,43.8 456.50,43.2 456.90,43.7 457.30,42.6 457.70,42.9 458.10,43.9 458.50,82.3 458.90,88.0 459.30,92.9 459.70,99.0 460.10,98.5 460.50,94.0 460.90,93.1 461.30,89.7 461.70,90.7 462.10,92.0 462.50,96.0 462.90,94.2 463.30,93.9 463.70,90.6 464.10,88.2 464.50,89.7 464.90,91.6 465.30,90.3 465.70,92.8 466.10,91.4 466.50,93.3 466.90,91.3 467.30,91.8 467.70,90.5 468.10,92.1 468.50,90.2 468.90,96.2 469.30,91.3 469.70,90.7 470.10,90.2 470.50,90.9 470.90,89.5 471.30,91.8 471.70,93.9 472.10,91.7 472.50,92.4 472.90,94.4 473.30,91.5 473.70,94.6 474.10,93.4 474.50,96.4 474.90,95.4 475.30,92.5 475.70,95.2 476.10,95.1 476.50,96.4 476.90,93.3 477.30,94.9 477.70,93.8 478.10,95.0 478.50,95.6 478.90,97.0 479.30,92.8 479.70,95.3 480.10,95.9 480.50,93.6 480.90,92.1 481.30,93.4 481.70,94.2 482.10,92.1 482.50,94.3 482.90,91.2 483.30,92.6 483.70,95.2 484.10,93.7 484.50,95.8 484.90,90.8 485.30,92.6 485.70,92.1 486.10,93.7 486.50,93.6 486.90,90.2 487.30,90.5 487.70,95.6 488.10,93.2 488.50,91.1 488.90,92.0 489.30,89.0 489.70,91.1 490.10,89.5 490.50,92.2 490.90,92.2 491.30,89.9 491.70,93.7 492.10,92.3 492.50,90.4 492.90,89.0 493.30,90.1 493.70,88.3 494.10,91.7 494.50,89.1 494.90,92.2 495.30,92.1 495.70,94.4 496.10,92.7 496.50,94.1 496.90,94.2 497.30,95.5 497.70,96.5 498.10,92.0 498.50,93.4 498.90,91.6 499.30,94.4 499.70,93.7 500.10,94.2 500.50,94.4 500.90,90.5 501.30,94.3 501.70,91.9 502.10,95.2 502.50,92.5 502.90,89.4 503.30,93.4 503.70,91.4 504.10,95.5 504.50,94.0 504.90,93.7 505.30,92.9 505.70,92.5 506.10,91.7 506.50,94.3 506.90,93.4 507.30,90.5 507.70,94.6 508.10,92.6 508.50,95.6 508.90,95.7 509.30,96.5 509.70,91.7 510.10,96.7 510.50,96.1 510.90,94.4 511.30,96.0 511.70,94.5 512.10,92.6 512.50,96.2 512.90,91.0 513.30,94.6 513.70,94.8 514.10,96.6 514.50,94.4 514.90,94.1 515.30,91.5 515.70,93.9 516.10,92.9 516.50,95.8 516.90,96.9 517.30,94.6 517.70,93.0 518.10,94.3 518.50,95.4 518.90,94.4 519.30,95.4 519.70,93.8 520.10,95.9 520.50,94.9 520.90,95.3 521.30,93.0 521.70,95.4 522.10,92.6 522.50,93.5 522.90,93.6 523.30,93.8 523.70,95.5 524.10,93.8 524.50,95.2 524.90,92.6 525.30,92.6 525.70,92.9 526.10,93.4 526.50,94.3 526.90,92.9 527.30,90.4 527.70,88.5 528.10,92.9 528.50,89.4 528.90,95.1 529.30,93.0 529.70,89.3 530.10,93.3 530.50,88.6 530.90,94.4 531.30,91.5 531.70,93.5 532.10,92.1 532.50,90.6 532.90,92.2 533.30,95.1 533.70,92.5 534.10,92.7 534.50,95.3 534.90,95.8 535.30,90.0 535.70,94.1 536.10,94.6 536.50,93.5 536.90,94.6 537.30,94.7 537.70,92.4 538.10,93.1 538.50,91.3 538.90,93.0 539.30,92.1 539.70,94.0 540.10,92.7 540.50,94.9 540.90,93.7 541.30,94.1 541.70,94.9 542.10,96.8 542.50,91.8 542.90,95.0 543.30,95.3 543.70,92.3 544.10,93.6 544.50,92.2 544.90,91.9 545.30,91.1 545.70,91.3 546.10,96.9 546.50,95.5 546.90,94.1 547.30,93.8 547.70,93.5 548.10,94.7 548.50,91.5 548.90,95.3 549.30,96.2 549.70,96.3 550.10,96.9 550.50,95.1 550.90,90.7 551.30,92.7 551.70,92.1 552.10,95.9 552.50,94.6 552.90,93.2 553.30,92.5 553.70,91.0 554.10,93.5 554.50,95.6 554.90,94.5 555.30,95.8 555.70,94.2 556.10,91.9 556.50,92.2 556.90,93.7 557.30,96.6 557.70,94.8 558.10,93.7 558.50,93.0 558.90,92.9 559.30,94.6 559.70,94.5 560.10,95.4 560.50,93.0 560.90,94.9 561.30,92.8 561.70,94.1 562.10,93.9 562.50,96.6 562.90,91.6 563.30,91.8 563.70,92.4 564.10,92.1 564.50,94.5 564.90,94.3 565.30,93.5 565.70,94.2 566.10,94.5 566.50,93.5 566.90,91.5 567.30,91.7 567.70,91.1 568.10,93.8 568.50,90.9 568.90,92.1 569.30,93.4 569.70,95.9 570.10,94.5 570.50,98.6 570.90,96.5 571.30,95.5 571.70,97.1 572.10,96.7 572.50,101.2 572.90,96.6 573.30,101.9 573.70,96.3 574.10,97.1 574.50,99.4 574.90,102.0 575.30,100.5 575.70,102.0 576.10,101.2 576.50,102.6 576.90,99.8 577.30,97.6 577.70,103.6 578.10,101.3 578.50,97.1 578.90,100.5 579.30,102.7 579.70,102.0 580.10,98.8 580.50,101.9 580.90,97.2 581.30,99.6 581.70,102.3 582.10,99.6 582.50,100.5 582.90,100.0 583.30,96.9 583.70,98.7 584.10,96.3 584.50,97.8 584.90,98.4 585.30,96.4 585.70,95.8 586.10,99.2 586.50,97.5 586.90,99.4 587.30,97.1 587.70,98.1 588.10,101.7 588.50,98.5 588.90,101.5 589.30,101.2 589.70,98.6 590.10,98.3 590.50,98.8 590.90,98.7 591.30,98.9 591.70,99.6 592.10,101.2 592.50,102.6 592.90,101.5 593.30,102.1 593.70,100.1 594.10,100.6 594.50,101.0 594.90,96.5 595.30,96.2 595.70,95.7 596.10,99.4 596.50,97.4 596.90,94.6 597.30,97.3 597.70,97.3 598.10,99.2 598.50,97.7 598.90,94.8 599.30,96.0 599.70,97.6 600.10,96.9 600.50,96.2 600.90,94.7 601.30,97.1 601.70,98.1 602.10,95.3 602.50,97.9 602.90,99.6 603.30,100.9 603.70,95.9 604.10,99.7 604.50,91.8 604.90,94.3 605.30,90.9 605.70,85.1 606.10,81.5 606.50,73.0 606.90,68.0 607.30,63.1 607.70,56.5 608.10,53.9 608.50,56.0 608.90,53.5 609.30,54.1 609.70,54.4 610.10,55.2 610.50,54.8 610.90,53.8 611.30,54.0 611.70,51.7 612.10,54.3 612.50,54.1 612.90,54.8 613.30,53.0 613.70,52.3 614.10,51.1 614.50,54.3 614.90,54.6 615.30,52.2 615.70,54.6 616.10,54.1 616.50,53.4 616.90,53.4 617.30,54.6 617.70,52.1 618.10,52.2 618.50,52.4 618.90,54.4 619.30,53.1 619.70,53.1 620.10,53.7 620.50,54.4 620.90,54.4 621.30,52.1 621.70,54.1 622.10,52.7 622.50,51.4 622.90,53.5" fill="none" stroke="#9a8f24" stroke-width="0.45" stroke-linejoin="bevel"/>
<rect x="417.03" y="40.66" width="3" height="3" fill="#fff" stroke="#9a8f24" stroke-width="0.7"/>
<rect x="425.72" y="41.08" width="3" height="3" fill="#fff" stroke="#9a8f24" stroke-width="0.7"/>
<rect x="434.41" y="41.02" width="3" height="3" fill="#fff" stroke="#9a8f24" stroke-width="0.7"/>
<rect x="443.11" y="41.24" width="3" height="3" fill="#fff" stroke="#9a8f24" stroke-width="0.7"/>
<rect x="451.8" y="41.88" width="3" height="3" fill="#fff" stroke="#9a8f24" stroke-width="0.7"/>
<rect x="460.49" y="90.91" width="3" height="3" fill="#fff" stroke="#9a8f24" stroke-width="0.7"/>
<rect x="469.18" y="91.43" width="3" height="3" fill="#fff" stroke="#9a8f24" stroke-width="0.7"/>
<rect x="477.88" y="92.2" width="3" height="3" fill="#fff" stroke="#9a8f24" stroke-width="0.7"/>
<rect x="486.57" y="92.15" width="3" height="3" fill="#fff" stroke="#9a8f24" stroke-width="0.7"/>
<rect x="495.26" y="92.17" width="3" height="3" fill="#fff" stroke="#9a8f24" stroke-width="0.7"/>
<rect x="503.95" y="91.56" width="3" height="3" fill="#fff" stroke="#9a8f24" stroke-width="0.7"/>
<rect x="512.65" y="92.4" width="3" height="3" fill="#fff" stroke="#9a8f24" stroke-width="0.7"/>
<rect x="521.34" y="91.39" width="3" height="3" fill="#fff" stroke="#9a8f24" stroke-width="0.7"/>
<rect x="530.03" y="92.39" width="3" height="3" fill="#fff" stroke="#9a8f24" stroke-width="0.7"/>
<rect x="538.72" y="92.12" width="3" height="3" fill="#fff" stroke="#9a8f24" stroke-width="0.7"/>
<rect x="547.41" y="91.37" width="3" height="3" fill="#fff" stroke="#9a8f24" stroke-width="0.7"/>
<rect x="556.11" y="91.49" width="3" height="3" fill="#fff" stroke="#9a8f24" stroke-width="0.7"/>
<rect x="564.8" y="91.53" width="3" height="3" fill="#fff" stroke="#9a8f24" stroke-width="0.7"/>
<rect x="573.49" y="96.02" width="3" height="3" fill="#fff" stroke="#9a8f24" stroke-width="0.7"/>
<rect x="582.18" y="96.41" width="3" height="3" fill="#fff" stroke="#9a8f24" stroke-width="0.7"/>
<rect x="590.88" y="97.16" width="3" height="3" fill="#fff" stroke="#9a8f24" stroke-width="0.7"/>
<rect x="599.57" y="97.48" width="3" height="3" fill="#fff" stroke="#9a8f24" stroke-width="0.7"/>
<rect x="608.26" y="52.83" width="3" height="3" fill="#fff" stroke="#9a8f24" stroke-width="0.7"/>
<rect x="616.95" y="51.99" width="3" height="3" fill="#fff" stroke="#9a8f24" stroke-width="0.7"/>
<path d="M411.70,42.0 412.10,41.9 412.50,41.8 412.90,42.0 413.30,42.0 413.70,42.1 414.10,41.6 414.50,41.6 414.90,42.1 415.30,41.8 415.70,42.2 416.10,42.3 416.50,42.2 416.90,42.0 417.30,42.1 417.70,42.1 418.10,42.3 418.50,41.9 418.90,41.7 419.30,42.2 419.70,42.3 420.10,42.1 420.50,42.2 420.90,42.5 421.30,42.1 421.70,42.5 422.10,42.3 422.50,42.5 422.90,42.9 423.30,42.7 423.70,42.8 424.10,42.5 424.50,42.9 424.90,42.4 425.30,40.8 425.70,40.7 426.10,42.2 426.50,42.3 426.90,42.0 427.30,42.3 427.70,42.5 428.10,42.5 428.50,42.4 428.90,42.9 429.30,42.7 429.70,42.5 430.10,42.5 430.50,42.4 430.90,42.7 431.30,42.4 431.70,42.8 432.10,42.8 432.50,42.6 432.90,42.9 433.30,42.4 433.70,42.8 434.10,42.6 434.50,42.3 434.90,42.7 435.30,42.5 435.70,42.5 436.10,42.4 436.50,42.4 436.90,42.4 437.30,42.2 437.70,42.3 438.10,42.7 438.50,42.4 438.90,42.0 439.30,42.4 439.70,42.0 440.10,42.1 440.50,42.1 440.90,42.5 441.30,42.5 441.70,42.8 442.10,42.5 442.50,42.6 442.90,42.8 443.30,42.7 443.70,42.3 444.10,42.3 444.50,42.4 444.90,42.4 445.30,42.6 445.70,42.3 446.10,42.8 446.50,42.9 446.90,42.6 447.30,42.3 447.70,42.7 448.10,42.5 448.50,42.2 448.90,42.8 449.30,42.6 449.70,42.4 450.10,42.7 450.50,42.4 450.90,42.4 451.30,42.7 451.70,43.0 452.10,42.7 452.50,42.7 452.90,42.9 453.30,42.7 453.70,43.2 454.10,43.3 454.50,43.1 454.90,43.4 455.30,43.3 455.70,43.1 456.10,43.4 456.50,43.3 456.90,43.2 457.30,43.5 457.70,43.2 458.10,43.1 458.50,84.5 458.90,86.1 459.30,91.9 459.70,94.0 460.10,97.4 460.50,99.4 460.90,98.4 461.30,97.9 461.70,98.3 462.10,99.8 462.50,98.8 462.90,99.1 463.30,99.9 463.70,100.3 464.10,99.8 464.50,99.6 464.90,100.2 465.30,100.3 465.70,100.6 466.10,99.5 466.50,100.3 466.90,100.1 467.30,100.4 467.70,100.0 468.10,99.7 468.50,99.7 468.90,99.4 469.30,99.5 469.70,100.3 470.10,99.8 470.50,99.8 470.90,101.2 471.30,100.0 471.70,99.9 472.10,100.1 472.50,99.6 472.90,99.4 473.30,100.4 473.70,99.8 474.10,99.5 474.50,100.4 474.90,99.7 475.30,99.5 475.70,99.7 476.10,99.9 476.50,100.1 476.90,99.1 477.30,99.0 477.70,99.8 478.10,99.8 478.50,99.6 478.90,99.2 479.30,99.3 479.70,99.4 480.10,98.1 480.50,98.4 480.90,98.1 481.30,98.5 481.70,98.9 482.10,99.2 482.50,99.5 482.90,99.2 483.30,98.5 483.70,99.8 484.10,98.7 484.50,98.5 484.90,98.9 485.30,99.8 485.70,99.8 486.10,99.3 486.50,99.9 486.90,99.4 487.30,99.8 487.70,99.1 488.10,98.9 488.50,100.0 488.90,100.3 489.30,99.8 489.70,100.0 490.10,100.3 490.50,99.3 490.90,98.9 491.30,98.9 491.70,99.8 492.10,99.3 492.50,98.9 492.90,99.5 493.30,98.5 493.70,99.0 494.10,99.2 494.50,98.7 494.90,99.3 495.30,98.2 495.70,98.4 496.10,98.4 496.50,99.1 496.90,99.0 497.30,98.5 497.70,99.4 498.10,98.9 498.50,99.2 498.90,99.3 499.30,99.1 499.70,98.9 500.10,99.3 500.50,99.4 500.90,99.5 501.30,99.2 501.70,98.8 502.10,98.6 502.50,98.8 502.90,98.1 503.30,98.5 503.70,99.1 504.10,98.8 504.50,99.9 504.90,99.7 505.30,99.3 505.70,99.9 506.10,99.4 506.50,99.9 506.90,99.2 507.30,99.5 507.70,99.3 508.10,99.4 508.50,99.9 508.90,99.5 509.30,99.0 509.70,99.2 510.10,99.8 510.50,98.9 510.90,98.9 511.30,99.3 511.70,100.0 512.10,100.0 512.50,100.5 512.90,100.1 513.30,99.9 513.70,99.3 514.10,96.4 514.50,99.3 514.90,99.4 515.30,98.8 515.70,99.4 516.10,98.9 516.50,99.1 516.90,99.4 517.30,98.5 517.70,98.5 518.10,99.4 518.50,95.4 518.90,99.2 519.30,98.8 519.70,99.1 520.10,99.4 520.50,99.5 520.90,99.7 521.30,99.7 521.70,99.5 522.10,99.6 522.50,99.7 522.90,99.3 523.30,99.4 523.70,99.4 524.10,98.9 524.50,95.5 524.90,98.8 525.30,99.1 525.70,99.2 526.10,99.1 526.50,99.5 526.90,100.1 527.30,99.4 527.70,100.6 528.10,100.4 528.50,100.3 528.90,99.2 529.30,98.9 529.70,99.3 530.10,99.2 530.50,98.9 530.90,99.7 531.30,99.6 531.70,99.9 532.10,100.1 532.50,99.5 532.90,99.8 533.30,100.0 533.70,99.3 534.10,100.3 534.50,100.4 534.90,100.3 535.30,100.4 535.70,101.1 536.10,100.1 536.50,100.5 536.90,100.2 537.30,99.8 537.70,100.3 538.10,99.7 538.50,100.2 538.90,100.7 539.30,100.3 539.70,100.6 540.10,100.1 540.50,100.8 540.90,100.9 541.30,100.7 541.70,100.3 542.10,99.8 542.50,99.9 542.90,99.5 543.30,98.9 543.70,99.7 544.10,98.7 544.50,99.6 544.90,98.7 545.30,98.7 545.70,99.1 546.10,99.8 546.50,98.8 546.90,99.1 547.30,100.0 547.70,99.5 548.10,99.4 548.50,99.6 548.90,99.6 549.30,98.9 549.70,99.8 550.10,99.3 550.50,99.4 550.90,98.7 551.30,99.4 551.70,100.2 552.10,99.3 552.50,100.3 552.90,99.7 553.30,99.6 553.70,99.9 554.10,99.7 554.50,99.9 554.90,98.9 555.30,99.1 555.70,98.8 556.10,99.3 556.50,98.9 556.90,99.0 557.30,99.2 557.70,98.9 558.10,99.4 558.50,99.8 558.90,99.1 559.30,98.8 559.70,99.2 560.10,99.0 560.50,99.1 560.90,99.8 561.30,100.0 561.70,100.9 562.10,100.1 562.50,100.3 562.90,99.4 563.30,99.8 563.70,100.3 564.10,99.8 564.50,100.4 564.90,99.6 565.30,100.0 565.70,100.5 566.10,100.9 566.50,100.4 566.90,99.6 567.30,100.1 567.70,97.4 568.10,100.2 568.50,100.6 568.90,100.0 569.30,100.9 569.70,100.4 570.10,100.6 570.50,101.7 570.90,102.3 571.30,103.1 571.70,102.9 572.10,103.3 572.50,104.5 572.90,104.3 573.30,104.9 573.70,104.3 574.10,104.1 574.50,103.3 574.90,103.2 575.30,104.1 575.70,103.5 576.10,103.9 576.50,103.3 576.90,104.1 577.30,103.6 577.70,104.3 578.10,103.8 578.50,103.8 578.90,103.4 579.30,103.6 579.70,103.2 580.10,104.0 580.50,104.1 580.90,103.8 581.30,103.9 581.70,104.6 582.10,104.0 582.50,103.4 582.90,104.5 583.30,104.5 583.70,103.5 584.10,103.1 584.50,103.9 584.90,103.5 585.30,103.9 585.70,102.9 586.10,102.8 586.50,103.5 586.90,104.3 587.30,103.3 587.70,102.8 588.10,103.5 588.50,103.5 588.90,104.0 589.30,103.4 589.70,104.0 590.10,102.9 590.50,103.3 590.90,103.8 591.30,103.5 591.70,104.6 592.10,103.8 592.50,103.0 592.90,104.4 593.30,103.9 593.70,104.2 594.10,104.7 594.50,104.4 594.90,104.2 595.30,103.7 595.70,103.6 596.10,103.5 596.50,104.2 596.90,103.2 597.30,104.0 597.70,103.3 598.10,103.1 598.50,103.7 598.90,103.8 599.30,103.6 599.70,104.0 600.10,104.7 600.50,104.3 600.90,104.5 601.30,103.2 601.70,98.8 602.10,96.3 602.50,92.1 602.90,90.3 603.30,90.4 603.70,89.4 604.10,88.2 604.50,86.9 604.90,87.4 605.30,85.2 605.70,82.2 606.10,77.8 606.50,72.6 606.90,67.6 607.30,63.2 607.70,58.2 608.10,55.1 608.50,55.8 608.90,55.3 609.30,54.8 609.70,54.7 610.10,54.3 610.50,54.8 610.90,55.2 611.30,55.0 611.70,54.6 612.10,54.6 612.50,54.7 612.90,54.6 613.30,54.2 613.70,54.1 614.10,55.1 614.50,55.2 614.90,55.0 615.30,54.7 615.70,55.0 616.10,54.7 616.50,55.3 616.90,54.8 617.30,54.6 617.70,53.8 618.10,54.8 618.50,54.7 618.90,53.7 619.30,53.7 619.70,54.3 620.10,54.1 620.50,54.7 620.90,54.9 621.30,54.7 621.70,54.1 622.10,54.2 622.50,54.8 622.90,54.4 622.90,56.1 622.50,56.5 622.10,56.3 621.70,57.3 621.30,57.0 620.90,56.5 620.50,57.3 620.10,57.1 619.70,56.0 619.30,56.2 618.90,56.8 618.50,60.1 618.10,57.4 617.70,56.8 617.30,56.5 616.90,57.1 616.50,56.5 616.10,57.3 615.70,57.0 615.30,56.6 614.90,56.9 614.50,57.4 614.10,57.2 613.70,56.3 613.30,56.7 612.90,61.7 612.50,57.4 612.10,57.3 611.70,56.4 611.30,56.4 610.90,56.9 610.50,57.0 610.10,56.3 609.70,57.1 609.30,57.9 608.90,57.6 608.50,57.4 608.10,57.2 607.70,60.3 607.30,65.1 606.90,70.0 606.50,74.9 606.10,79.9 605.70,84.9 605.30,88.0 604.90,88.8 604.50,89.7 604.10,91.1 603.70,92.4 603.30,92.6 602.90,93.9 602.50,95.6 602.10,98.5 601.70,101.4 601.30,105.7 600.90,106.6 600.50,106.5 600.10,106.9 599.70,106.3 599.30,106.6 598.90,105.9 598.50,105.9 598.10,105.4 597.70,105.5 597.30,105.6 596.90,106.4 596.50,105.9 596.10,106.8 595.70,105.8 595.30,106.1 594.90,106.3 594.50,105.8 594.10,106.9 593.70,107.1 593.30,106.0 592.90,106.8 592.50,105.6 592.10,105.9 591.70,106.3 591.30,106.7 590.90,106.6 590.50,107.0 590.10,106.0 589.70,105.9 589.30,106.5 588.90,105.6 588.50,106.2 588.10,105.2 587.70,105.9 587.30,106.4 586.90,106.3 586.50,105.9 586.10,106.1 585.70,105.6 585.30,106.2 584.90,105.3 584.50,106.5 584.10,105.9 583.70,105.7 583.30,106.1 582.90,106.2 582.50,105.8 582.10,106.5 581.70,107.0 581.30,106.2 580.90,106.8 580.50,106.8 580.10,105.8 579.70,105.8 579.30,106.1 578.90,105.8 578.50,106.1 578.10,106.3 577.70,107.0 577.30,107.1 576.90,106.2 576.50,107.1 576.10,107.0 575.70,106.4 575.30,106.4 574.90,105.6 574.50,106.4 574.10,106.5 573.70,106.6 573.30,107.7 572.90,106.7 572.50,107.0 572.10,106.2 571.70,105.5 571.30,105.1 570.90,105.3 570.50,104.6 570.10,103.9 569.70,102.9 569.30,103.2 568.90,103.2 568.50,102.9 568.10,102.3 567.70,103.0 567.30,102.5 566.90,102.2 566.50,102.4 566.10,103.2 565.70,103.0 565.30,102.3 564.90,102.7 564.50,102.6 564.10,103.2 563.70,103.2 563.30,102.2 562.90,101.6 562.50,102.7 562.10,102.0 561.70,102.7 561.30,101.7 560.90,102.1 560.50,101.1 560.10,101.5 559.70,100.8 559.30,100.5 558.90,101.7 558.50,101.7 558.10,101.9 557.70,101.8 557.30,102.3 556.90,102.0 556.50,101.2 556.10,101.7 555.70,102.0 555.30,100.9 554.90,101.8 554.50,105.1 554.10,101.1 553.70,101.7 553.30,102.0 552.90,103.0 552.50,101.9 552.10,102.2 551.70,102.6 551.30,102.5 550.90,101.1 550.50,102.2 550.10,102.1 549.70,102.2 549.30,101.2 548.90,102.1 548.50,102.2 548.10,102.1 547.70,101.4 547.30,102.3 546.90,101.5 546.50,101.8 546.10,101.3 545.70,101.0 545.30,101.8 544.90,100.9 544.50,102.0 544.10,101.4 543.70,101.5 543.30,101.6 542.90,102.2 542.50,102.4 542.10,102.8 541.70,102.6 541.30,103.3 540.90,102.6 540.50,102.8 540.10,102.3 539.70,102.4 539.30,102.4 538.90,102.2 538.50,103.0 538.10,102.7 537.70,105.9 537.30,102.9 536.90,102.1 536.50,102.0 536.10,102.8 535.70,102.7 535.30,102.6 534.90,102.6 534.50,103.0 534.10,102.7 533.70,102.1 533.30,101.6 532.90,102.7 532.50,101.6 532.10,102.2 531.70,101.1 531.30,101.5 530.90,101.5 530.50,101.3 530.10,101.6 529.70,101.7 529.30,101.4 528.90,101.8 528.50,101.5 528.10,102.5 527.70,102.3 527.30,101.8 526.90,102.6 526.50,102.1 526.10,102.1 525.70,101.7 525.30,101.7 524.90,102.3 524.50,101.5 524.10,101.0 523.70,101.0 523.30,101.3 522.90,101.7 522.50,100.9 522.10,101.1 521.70,102.1 521.30,102.4 520.90,102.4 520.50,101.3 520.10,102.1 519.70,101.8 519.30,101.5 518.90,101.7 518.50,101.6 518.10,101.1 517.70,100.8 517.30,101.2 516.90,101.1 516.50,102.4 516.10,101.6 515.70,102.1 515.30,101.8 514.90,101.2 514.50,102.0 514.10,101.6 513.70,101.8 513.30,101.4 512.90,102.5 512.50,103.1 512.10,102.5 511.70,102.0 511.30,101.6 510.90,102.1 510.50,101.4 510.10,101.8 509.70,102.1 509.30,101.9 508.90,102.3 508.50,101.9 508.10,102.0 507.70,101.6 507.30,101.4 506.90,101.8 506.50,101.8 506.10,102.0 505.70,101.5 505.30,101.6 504.90,101.1 504.50,101.6 504.10,102.0 503.70,101.1 503.30,101.5 502.90,101.2 502.50,101.0 502.10,101.0 501.70,100.9 501.30,101.4 500.90,101.6 500.50,101.2 500.10,100.9 499.70,101.4 499.30,101.0 498.90,102.3 498.50,101.4 498.10,101.8 497.70,100.6 497.30,101.7 496.90,101.0 496.50,100.8 496.10,100.8 495.70,100.6 495.30,101.2 494.90,101.0 494.50,101.0 494.10,100.9 493.70,100.5 493.30,101.1 492.90,101.6 492.50,100.6 492.10,105.5 491.70,101.8 491.30,105.3 490.90,101.9 490.50,101.8 490.10,102.4 489.70,106.1 489.30,101.9 488.90,102.0 488.50,102.1 488.10,101.3 487.70,101.3 487.30,101.5 486.90,101.9 486.50,101.5 486.10,101.4 485.70,101.7 485.30,101.9 484.90,101.5 484.50,101.9 484.10,101.8 483.70,100.9 483.30,101.2 482.90,100.9 482.50,100.8 482.10,101.4 481.70,100.9 481.30,101.2 480.90,100.4 480.50,100.8 480.10,101.1 479.70,101.6 479.30,102.3 478.90,101.1 478.50,101.7 478.10,101.1 477.70,101.5 477.30,102.1 476.90,105.4 476.50,101.6 476.10,101.9 475.70,101.1 475.30,100.8 474.90,102.0 474.50,102.5 474.10,101.7 473.70,102.6 473.30,101.9 472.90,102.2 472.50,102.6 472.10,102.6 471.70,102.8 471.30,103.1 470.90,102.8 470.50,102.7 470.10,102.5 469.70,102.3 469.30,102.7 468.90,102.2 468.50,102.6 468.10,102.8 467.70,102.7 467.30,103.6 466.90,102.7 466.50,102.9 466.10,103.3 465.70,103.2 465.30,102.5 464.90,107.4 464.50,102.2 464.10,101.9 463.70,102.4 463.30,101.8 462.90,102.3 462.50,101.6 462.10,101.4 461.70,101.1 461.30,106.2 460.90,102.2 460.50,102.8 460.10,102.3 459.70,100.9 459.30,96.2 458.90,93.7 458.50,90.6 458.10,44.5 457.70,44.6 457.30,44.5 456.90,44.7 456.50,44.1 456.10,44.3 455.70,44.1 455.30,44.4 454.90,44.5 454.50,44.5 454.10,44.3 453.70,44.0 453.30,44.0 452.90,44.0 452.50,43.8 452.10,43.9 451.70,44.1 451.30,43.6 450.90,43.3 450.50,43.8 450.10,43.5 449.70,43.6 449.30,43.9 448.90,43.7 448.50,43.4 448.10,43.4 447.70,43.4 447.30,43.8 446.90,43.5 446.50,44.0 446.10,43.6 445.70,43.8 445.30,43.4 444.90,43.6 444.50,43.6 444.10,43.6 443.70,43.6 443.30,43.8 442.90,43.7 442.50,43.6 442.10,43.5 441.70,43.6 441.30,43.9 440.90,43.8 440.50,43.8 440.10,43.7 439.70,43.4 439.30,43.2 438.90,43.2 438.50,43.3 438.10,43.8 437.70,43.4 437.30,43.4 436.90,43.5 436.50,43.6 436.10,43.5 435.70,43.5 435.30,43.7 434.90,43.8 434.50,43.6 434.10,45.5 433.70,43.9 433.30,43.9 432.90,44.0 432.50,43.9 432.10,43.8 431.70,43.9 431.30,43.5 430.90,43.7 430.50,43.6 430.10,43.8 429.70,43.7 429.30,43.5 428.90,43.7 428.50,43.8 428.10,43.3 427.70,43.9 427.30,43.6 426.90,43.6 426.50,43.5 426.10,43.4 425.70,43.6 425.30,43.5 424.90,43.9 424.50,43.6 424.10,43.8 423.70,43.9 423.30,43.5 422.90,43.5 422.50,43.8 422.10,44.0 421.70,43.1 421.30,43.3 420.90,43.5 420.50,43.3 420.10,43.6 419.70,43.1 419.30,43.4 418.90,42.9 418.50,42.9 418.10,43.5 417.70,43.2 417.30,43.1 416.90,43.5 416.50,43.5 416.10,43.6 415.70,43.1 415.30,43.4 414.90,43.5 414.50,43.3 414.10,43.1 413.70,43.0 413.30,43.2 412.90,42.7 412.50,43.3 412.10,43.0 411.70,42.6Z" fill="#1e1e9a" stroke="#1e1e9a" stroke-width="0.5" stroke-linejoin="round"/>
<path d="M411.70,41.5 412.10,42.1 412.50,41.8 412.90,43.1 413.30,43.6 413.70,41.6 414.10,41.6 414.50,42.6 414.90,42.2 415.30,42.6 415.70,42.8 416.10,42.4 416.50,43.5 416.90,43.0 417.30,42.9 417.70,42.4 418.10,43.6 418.50,42.6 418.90,42.7 419.30,43.5 419.70,43.3 420.10,42.0 420.50,43.4 420.90,43.0 421.30,43.3 421.70,43.7 422.10,43.5 422.50,42.5 422.90,43.8 423.30,43.9 423.70,43.1 424.10,43.1 424.50,43.1 424.90,42.9 425.30,42.4 425.70,42.4 426.10,43.0 426.50,43.9 426.90,43.3 427.30,43.3 427.70,42.1 428.10,43.2 428.50,43.7 428.90,44.3 429.30,43.2 429.70,43.5 430.10,42.9 430.50,42.1 430.90,43.0 431.30,42.1 431.70,42.7 432.10,43.1 432.50,42.5 432.90,42.7 433.30,43.2 433.70,43.5 434.10,43.1 434.50,43.0 434.90,43.2 435.30,42.2 435.70,43.6 436.10,43.2 436.50,43.0 436.90,42.3 437.30,42.4 437.70,43.3 438.10,43.3 438.50,43.2 438.90,42.3 439.30,42.7 439.70,42.5 440.10,42.6 440.50,42.0 440.90,43.4 441.30,42.9 441.70,42.7 442.10,42.8 442.50,42.9 442.90,43.7 443.30,43.5 443.70,43.2 444.10,42.6 444.50,42.8 444.90,41.8 445.30,43.0 445.70,43.1 446.10,44.0 446.50,43.6 446.90,43.7 447.30,42.8 447.70,43.9 448.10,42.3 448.50,43.1 448.90,43.5 449.30,43.7 449.70,42.7 450.10,42.8 450.50,43.7 450.90,43.9 451.30,42.1 451.70,43.4 452.10,43.2 452.50,43.2 452.90,42.9 453.30,43.7 453.70,44.0 454.10,43.6 454.50,43.7 454.90,44.3 455.30,44.0 455.70,44.0 456.10,43.0 456.50,42.5 456.90,43.5 457.30,44.1 457.70,43.9 458.10,43.7 458.50,87.0 458.90,87.1 459.30,98.1 459.70,99.1 460.10,103.0 460.50,98.7 460.90,98.3 461.30,99.5 461.70,99.8 462.10,99.0 462.50,100.6 462.90,101.3 463.30,102.7 463.70,101.2 464.10,101.1 464.50,98.6 464.90,102.6 465.30,101.6 465.70,99.2 466.10,100.9 466.50,100.6 466.90,99.4 467.30,100.6 467.70,98.8 468.10,101.0 468.50,101.4 468.90,99.7 469.30,101.1 469.70,100.7 470.10,102.3 470.50,104.0 470.90,100.8 471.30,102.3 471.70,101.0 472.10,101.1 472.50,101.7 472.90,101.8 473.30,99.5 473.70,102.7 474.10,102.0 474.50,101.2 474.90,99.6 475.30,101.2 475.70,100.3 476.10,101.5 476.50,100.2 476.90,100.3 477.30,98.8 477.70,100.3 478.10,101.5 478.50,100.6 478.90,102.5 479.30,99.5 479.70,98.8 480.10,100.1 480.50,98.4 480.90,99.4 481.30,100.7 481.70,98.5 482.10,99.7 482.50,102.3 482.90,102.1 483.30,98.5 483.70,101.7 484.10,100.2 484.50,100.5 484.90,101.3 485.30,100.3 485.70,99.9 486.10,99.6 486.50,101.6 486.90,100.5 487.30,99.6 487.70,101.6 488.10,99.9 488.50,99.6 488.90,99.6 489.30,102.2 489.70,100.9 490.10,101.2 490.50,98.8 490.90,100.0 491.30,101.3 491.70,102.1 492.10,100.8 492.50,101.3 492.90,100.7 493.30,99.8 493.70,99.7 494.10,100.3 494.50,98.2 494.90,99.2 495.30,98.9 495.70,100.4 496.10,101.3 496.50,101.3 496.90,100.3 497.30,100.1 497.70,100.8 498.10,100.1 498.50,100.2 498.90,100.7 499.30,102.7 499.70,98.1 500.10,99.8 500.50,98.4 500.90,99.7 501.30,100.3 501.70,98.9 502.10,99.9 502.50,101.5 502.90,99.6 503.30,100.1 503.70,101.2 504.10,100.3 504.50,99.5 504.90,101.9 505.30,99.3 505.70,100.0 506.10,102.1 506.50,102.3 506.90,99.6 507.30,101.2 507.70,101.4 508.10,100.1 508.50,100.9 508.90,100.3 509.30,99.6 509.70,100.4 510.10,100.1 510.50,99.8 510.90,101.2 511.30,100.5 511.70,99.6 512.10,101.6 512.50,101.8 512.90,101.0 513.30,98.8 513.70,101.0 514.10,101.1 514.50,99.1 514.90,101.5 515.30,100.9 515.70,100.3 516.10,100.3 516.50,101.6 516.90,98.9 517.30,100.2 517.70,100.1 518.10,100.3 518.50,99.7 518.90,102.0 519.30,100.8 519.70,98.9 520.10,99.4 520.50,100.1 520.90,102.8 521.30,100.5 521.70,100.6 522.10,100.0 522.50,102.0 522.90,99.2 523.30,99.9 523.70,99.6 524.10,100.8 524.50,101.8 524.90,99.8 525.30,101.9 525.70,100.7 526.10,100.1 526.50,99.9 526.90,100.0 527.30,102.9 527.70,101.9 528.10,102.5 528.50,102.8 528.90,102.2 529.30,100.3 529.70,101.5 530.10,100.7 530.50,100.1 530.90,100.1 531.30,100.9 531.70,99.9 532.10,100.4 532.50,102.4 532.90,101.3 533.30,101.1 533.70,100.9 534.10,102.2 534.50,103.2 534.90,100.9 535.30,102.4 535.70,100.9 536.10,100.3 536.50,100.3 536.90,99.8 537.30,100.4 537.70,101.2 538.10,100.9 538.50,101.1 538.90,100.1 539.30,100.9 539.70,102.9 540.10,100.7 540.50,101.6 540.90,101.6 541.30,102.0 541.70,101.1 542.10,100.7 542.50,99.6 542.90,99.3 543.30,98.5 543.70,99.8 544.10,101.6 544.50,99.4 544.90,97.9 545.30,98.5 545.70,101.2 546.10,99.7 546.50,99.2 546.90,99.7 547.30,101.7 547.70,101.3 548.10,100.8 548.50,99.3 548.90,102.3 549.30,100.6 549.70,102.1 550.10,101.7 550.50,99.4 550.90,100.8 551.30,101.1 551.70,100.6 552.10,101.3 552.50,101.5 552.90,100.3 553.30,101.8 553.70,100.9 554.10,99.8 554.50,99.9 554.90,98.1 555.30,101.0 555.70,98.5 556.10,100.2 556.50,102.0 556.90,100.0 557.30,100.3 557.70,99.8 558.10,101.8 558.50,101.2 558.90,99.3 559.30,100.2 559.70,98.5 560.10,99.4 560.50,102.0 560.90,101.6 561.30,101.8 561.70,102.5 562.10,101.0 562.50,99.9 562.90,103.0 563.30,100.5 563.70,101.6 564.10,100.6 564.50,102.8 564.90,103.1 565.30,100.2 565.70,101.4 566.10,102.2 566.50,101.2 566.90,101.3 567.30,101.5 567.70,101.0 568.10,102.5 568.50,102.4 568.90,101.2 569.30,102.2 569.70,102.7 570.10,101.7 570.50,103.8 570.90,105.5 571.30,105.1 571.70,105.4 572.10,105.2 572.50,107.8 572.90,103.8 573.30,105.9 573.70,105.8 574.10,105.0 574.50,104.2 574.90,103.2 575.30,105.3 575.70,104.6 576.10,106.8 576.50,106.2 576.90,105.0 577.30,105.5 577.70,104.9 578.10,104.9 578.50,104.4 578.90,103.7 579.30,104.2 579.70,104.2 580.10,104.7 580.50,104.4 580.90,104.2 581.30,104.0 581.70,107.1 582.10,103.1 582.50,104.4 582.90,106.1 583.30,105.8 583.70,106.9 584.10,102.9 584.50,105.3 584.90,104.6 585.30,103.8 585.70,105.6 586.10,106.0 586.50,103.5 586.90,104.2 587.30,104.1 587.70,104.0 588.10,102.6 588.50,104.5 588.90,104.2 589.30,105.0 589.70,105.7 590.10,106.7 590.50,106.1 590.90,104.5 591.30,106.1 591.70,105.5 592.10,105.4 592.50,106.1 592.90,104.7 593.30,103.3 593.70,105.6 594.10,105.2 594.50,107.2 594.90,105.1 595.30,105.0 595.70,106.5 596.10,104.2 596.50,105.1 596.90,105.7 597.30,105.8 597.70,105.4 598.10,107.2 598.50,105.6 598.90,103.6 599.30,107.7 599.70,106.4 600.10,105.5 600.50,104.0 600.90,104.8 601.30,103.7 601.70,100.4 602.10,97.5 602.50,91.2 602.90,91.6 603.30,91.4 603.70,88.8 604.10,90.8 604.50,90.6 604.90,87.7 605.30,89.0 605.70,83.4 606.10,78.7 606.50,75.0 606.90,69.6 607.30,62.0 607.70,60.5 608.10,56.1 608.50,56.3 608.90,58.3 609.30,56.3 609.70,57.1 610.10,55.2 610.50,57.8 610.90,55.8 611.30,58.1 611.70,56.6 612.10,57.3 612.50,56.4 612.90,57.0 613.30,56.0 613.70,55.0 614.10,54.5 614.50,56.1 614.90,54.3 615.30,53.9 615.70,56.3 616.10,55.5 616.50,54.3 616.90,56.8 617.30,56.2 617.70,55.8 618.10,53.3 618.50,54.4 618.90,55.6 619.30,57.1 619.70,54.8 620.10,56.2 620.50,55.7 620.90,54.9 621.30,55.8 621.70,55.5 622.10,56.1 622.50,54.8 622.90,57.0" fill="none" stroke="#1e1e9a" stroke-width="0.45" stroke-linejoin="bevel"/>
<circle cx="422.88" cy="43.2" r="2" fill="#fff" stroke="#1e1e9a" stroke-width="0.7"/>
<circle cx="431.57" cy="42.87" r="2" fill="#fff" stroke="#1e1e9a" stroke-width="0.7"/>
<circle cx="440.26" cy="42.67" r="2" fill="#fff" stroke="#1e1e9a" stroke-width="0.7"/>
<circle cx="448.95" cy="42.87" r="2" fill="#fff" stroke="#1e1e9a" stroke-width="0.7"/>
<circle cx="457.65" cy="43.86" r="2" fill="#fff" stroke="#1e1e9a" stroke-width="0.7"/>
<circle cx="466.34" cy="99.89" r="2" fill="#fff" stroke="#1e1e9a" stroke-width="0.7"/>
<circle cx="475.03" cy="100.22" r="2" fill="#fff" stroke="#1e1e9a" stroke-width="0.7"/>
<circle cx="483.72" cy="100.48" r="2" fill="#fff" stroke="#1e1e9a" stroke-width="0.7"/>
<circle cx="492.41" cy="100.73" r="2" fill="#fff" stroke="#1e1e9a" stroke-width="0.7"/>
<circle cx="501.11" cy="100.49" r="2" fill="#fff" stroke="#1e1e9a" stroke-width="0.7"/>
<circle cx="509.8" cy="101.26" r="2" fill="#fff" stroke="#1e1e9a" stroke-width="0.7"/>
<circle cx="518.49" cy="100.52" r="2" fill="#fff" stroke="#1e1e9a" stroke-width="0.7"/>
<circle cx="527.18" cy="101.09" r="2" fill="#fff" stroke="#1e1e9a" stroke-width="0.7"/>
<circle cx="535.88" cy="100.64" r="2" fill="#fff" stroke="#1e1e9a" stroke-width="0.7"/>
<circle cx="544.57" cy="100.92" r="2" fill="#fff" stroke="#1e1e9a" stroke-width="0.7"/>
<circle cx="553.26" cy="101.18" r="2" fill="#fff" stroke="#1e1e9a" stroke-width="0.7"/>
<circle cx="561.95" cy="101.25" r="2" fill="#fff" stroke="#1e1e9a" stroke-width="0.7"/>
<circle cx="570.65" cy="102.58" r="2" fill="#fff" stroke="#1e1e9a" stroke-width="0.7"/>
<circle cx="579.34" cy="103.74" r="2" fill="#fff" stroke="#1e1e9a" stroke-width="0.7"/>
<circle cx="588.03" cy="105.08" r="2" fill="#fff" stroke="#1e1e9a" stroke-width="0.7"/>
<circle cx="596.72" cy="104.56" r="2" fill="#fff" stroke="#1e1e9a" stroke-width="0.7"/>
<circle cx="605.42" cy="86.16" r="2" fill="#fff" stroke="#1e1e9a" stroke-width="0.7"/>
<circle cx="614.11" cy="55.48" r="2" fill="#fff" stroke="#1e1e9a" stroke-width="0.7"/>
<circle cx="622.8" cy="54.85" r="2" fill="#fff" stroke="#1e1e9a" stroke-width="0.7"/>
<circle cx="566.92" cy="118.99" r="2" fill="#fff" stroke="#1e1e9a" stroke-width="0.7"/>
<circle cx="601.07" cy="91.49" r="2" fill="#fff" stroke="#1e1e9a" stroke-width="0.7"/>
<path d="M411.70,38.8 412.10,41.0 412.50,40.8 412.90,41.2 413.30,40.7 413.70,40.8 414.10,40.6 414.50,40.9 414.90,40.8 415.30,41.0 415.70,41.3 416.10,41.1 416.50,41.2 416.90,41.0 417.30,41.5 417.70,41.1 418.10,41.3 418.50,41.4 418.90,39.2 419.30,41.5 419.70,41.6 420.10,41.5 420.50,41.7 420.90,41.3 421.30,41.2 421.70,41.3 422.10,41.3 422.50,41.0 422.90,41.4 423.30,41.4 423.70,40.8 424.10,41.2 424.50,41.3 424.90,41.3 425.30,41.2 425.70,41.0 426.10,41.1 426.50,40.7 426.90,40.8 427.30,40.9 427.70,40.7 428.10,41.1 428.50,41.2 428.90,41.1 429.30,40.9 429.70,41.0 430.10,41.0 430.50,40.8 430.90,41.0 431.30,41.3 431.70,41.1 432.10,41.1 432.50,41.1 432.90,41.1 433.30,41.5 433.70,41.4 434.10,41.1 434.50,41.2 434.90,40.9 435.30,41.2 435.70,41.3 436.10,41.6 436.50,41.5 436.90,41.3 437.30,41.3 437.70,41.7 438.10,41.7 438.50,41.3 438.90,41.8 439.30,41.5 439.70,41.3 440.10,41.4 440.50,41.2 440.90,41.2 441.30,41.5 441.70,41.7 442.10,41.3 442.50,41.6 442.90,41.3 443.30,41.5 443.70,41.5 444.10,41.3 444.50,41.7 444.90,41.6 445.30,42.1 445.70,41.7 446.10,42.0 446.50,42.2 446.90,42.6 447.30,42.4 447.70,42.5 448.10,42.1 448.50,42.0 448.90,42.1 449.30,42.5 449.70,42.2 450.10,42.4 450.50,42.3 450.90,42.3 451.30,42.5 451.70,42.3 452.10,42.3 452.50,42.2 452.90,42.4 453.30,42.0 453.70,41.8 454.10,42.4 454.50,42.1 454.90,41.8 455.30,42.0 455.70,41.8 456.10,42.3 456.50,42.0 456.90,42.6 457.30,42.2 457.70,41.9 458.10,41.9 458.50,75.3 458.90,98.6 459.30,101.6 459.70,101.8 460.10,101.6 460.50,105.8 460.90,107.1 461.30,109.1 461.70,107.1 462.10,108.8 462.50,106.4 462.90,105.6 463.30,106.4 463.70,108.0 464.10,109.0 464.50,108.9 464.90,107.0 465.30,108.9 465.70,108.7 466.10,109.9 466.50,110.0 466.90,110.1 467.30,109.3 467.70,111.3 468.10,108.9 468.50,110.8 468.90,109.9 469.30,111.0 469.70,110.0 470.10,109.9 470.50,110.8 470.90,112.3 471.30,112.0 471.70,111.5 472.10,113.4 472.50,113.3 472.90,113.4 473.30,112.8 473.70,112.8 474.10,112.4 474.50,111.9 474.90,109.5 475.30,109.5 475.70,112.5 476.10,111.3 476.50,111.1 476.90,110.5 477.30,110.7 477.70,112.7 478.10,113.2 478.50,112.0 478.90,112.0 479.30,110.8 479.70,112.0 480.10,109.7 480.50,109.9 480.90,111.5 481.30,112.6 481.70,110.4 482.10,111.3 482.50,111.7 482.90,111.3 483.30,110.4 483.70,111.0 484.10,111.0 484.50,111.3 484.90,111.9 485.30,112.0 485.70,111.5 486.10,113.2 486.50,111.4 486.90,110.7 487.30,111.0 487.70,110.9 488.10,113.3 488.50,111.4 488.90,112.5 489.30,113.6 489.70,113.4 490.10,111.9 490.50,112.5 490.90,112.3 491.30,113.8 491.70,112.7 492.10,113.0 492.50,113.3 492.90,113.0 493.30,111.5 493.70,112.5 494.10,113.5 494.50,112.8 494.90,112.7 495.30,110.6 495.70,110.6 496.10,111.9 496.50,110.0 496.90,110.4 497.30,112.1 497.70,109.6 498.10,110.4 498.50,110.5 498.90,110.8 499.30,111.9 499.70,111.1 500.10,111.1 500.50,111.4 500.90,113.0 501.30,110.9 501.70,112.3 502.10,112.6 502.50,112.2 502.90,111.9 503.30,112.8 503.70,111.4 504.10,111.8 504.50,101.4 504.90,110.2 505.30,112.3 505.70,109.8 506.10,110.6 506.50,112.8 506.90,111.9 507.30,111.6 507.70,111.4 508.10,113.8 508.50,112.7 508.90,112.6 509.30,113.1 509.70,112.1 510.10,113.9 510.50,113.8 510.90,111.3 511.30,110.7 511.70,102.3 512.10,112.1 512.50,110.6 512.90,112.1 513.30,110.5 513.70,111.5 514.10,111.2 514.50,109.9 514.90,110.6 515.30,110.7 515.70,110.7 516.10,109.9 516.50,110.6 516.90,100.6 517.30,110.5 517.70,109.5 518.10,110.5 518.50,112.6 518.90,109.9 519.30,104.5 519.70,109.3 520.10,109.6 520.50,109.8 520.90,109.8 521.30,111.2 521.70,109.6 522.10,109.1 522.50,110.3 522.90,110.5 523.30,110.1 523.70,109.2 524.10,111.3 524.50,111.1 524.90,109.9 525.30,109.8 525.70,110.6 526.10,111.0 526.50,112.2 526.90,110.7 527.30,112.1 527.70,113.2 528.10,111.4 528.50,112.3 528.90,110.1 529.30,110.2 529.70,110.9 530.10,110.2 530.50,111.2 530.90,111.6 531.30,111.7 531.70,112.6 532.10,112.4 532.50,110.8 532.90,111.2 533.30,111.6 533.70,111.1 534.10,111.7 534.50,113.2 534.90,113.7 535.30,111.6 535.70,112.8 536.10,112.8 536.50,112.3 536.90,111.7 537.30,112.5 537.70,112.1 538.10,111.3 538.50,110.6 538.90,111.7 539.30,110.9 539.70,105.1 540.10,111.5 540.50,112.7 540.90,114.0 541.30,111.6 541.70,110.9 542.10,113.4 542.50,111.0 542.90,113.0 543.30,111.6 543.70,111.1 544.10,113.4 544.50,112.8 544.90,113.0 545.30,113.0 545.70,113.4 546.10,112.9 546.50,112.2 546.90,112.6 547.30,113.2 547.70,113.7 548.10,112.7 548.50,112.9 548.90,113.5 549.30,112.8 549.70,114.3 550.10,114.7 550.50,113.3 550.90,115.0 551.30,112.7 551.70,112.9 552.10,113.9 552.50,113.5 552.90,110.9 553.30,112.1 553.70,111.8 554.10,111.6 554.50,110.1 554.90,110.7 555.30,110.0 555.70,110.0 556.10,108.7 556.50,110.3 556.90,110.3 557.30,108.7 557.70,109.1 558.10,110.3 558.50,109.8 558.90,108.2 559.30,101.5 559.70,108.4 560.10,108.9 560.50,108.7 560.90,109.3 561.30,109.8 561.70,107.7 562.10,109.8 562.50,100.4 562.90,109.6 563.30,109.7 563.70,109.0 564.10,110.2 564.50,110.4 564.90,109.4 565.30,111.7 565.70,109.6 566.10,111.3 566.50,110.4 566.90,111.8 567.30,110.0 567.70,111.7 568.10,110.4 568.50,110.2 568.90,111.5 569.30,111.8 569.70,112.6 570.10,103.2 570.50,112.3 570.90,112.5 571.30,113.5 571.70,112.1 572.10,114.1 572.50,111.7 572.90,113.1 573.30,104.9 573.70,114.4 574.10,115.8 574.50,114.8 574.90,114.8 575.30,115.8 575.70,115.9 576.10,116.5 576.50,116.3 576.90,116.5 577.30,115.8 577.70,116.9 578.10,118.3 578.50,117.0 578.90,117.8 579.30,117.4 579.70,115.9 580.10,117.7 580.50,116.7 580.90,117.3 581.30,116.2 581.70,115.9 582.10,115.9 582.50,117.3 582.90,114.9 583.30,116.7 583.70,117.7 584.10,117.4 584.50,115.1 584.90,115.9 585.30,116.0 585.70,117.2 586.10,116.0 586.50,116.2 586.90,115.3 587.30,115.7 587.70,117.1 588.10,115.4 588.50,115.2 588.90,116.1 589.30,115.2 589.70,114.1 590.10,115.5 590.50,113.9 590.90,113.9 591.30,115.4 591.70,114.9 592.10,114.5 592.50,114.6 592.90,114.1 593.30,113.5 593.70,113.7 594.10,114.1 594.50,115.9 594.90,116.0 595.30,113.4 595.70,114.9 596.10,115.1 596.50,114.6 596.90,116.7 597.30,115.8 597.70,114.9 598.10,115.1 598.50,115.1 598.90,115.8 599.30,115.5 599.70,115.9 600.10,116.4 600.50,116.8 600.90,115.5 601.30,115.4 601.70,113.4 602.10,115.2 602.50,115.8 602.90,114.3 603.30,116.2 603.70,115.4 604.10,112.5 604.50,113.1 604.90,101.0 605.30,110.7 605.70,109.4 606.10,111.7 606.50,109.2 606.90,110.3 607.30,89.1 607.70,65.3 608.10,47.3 608.50,48.6 608.90,48.6 609.30,47.5 609.70,45.9 610.10,35.1 610.50,47.3 610.90,44.4 611.30,43.7 611.70,44.3 612.10,43.0 612.50,44.2 612.90,43.4 613.30,44.1 613.70,42.7 614.10,43.9 614.50,43.4 614.90,42.7 615.30,43.9 615.70,42.8 616.10,44.1 616.50,44.9 616.90,45.2 617.30,44.8 617.70,46.4 618.10,45.5 618.50,45.0 618.90,45.2 619.30,33.1 619.70,45.0 620.10,44.2 620.50,44.9 620.90,43.2 621.30,43.2 621.70,42.7 622.10,30.5 622.50,44.2 622.90,43.8 622.90,50.9 622.50,50.0 622.10,48.4 621.70,47.5 621.30,47.4 620.90,48.9 620.50,51.2 620.10,51.3 619.70,49.7 619.30,50.2 618.90,51.1 618.50,50.6 618.10,50.3 617.70,51.3 617.30,52.0 616.90,51.4 616.50,50.0 616.10,49.8 615.70,47.4 615.30,49.7 614.90,49.4 614.50,48.5 614.10,50.4 613.70,51.3 613.30,48.9 612.90,50.2 612.50,51.3 612.10,49.7 611.70,50.6 611.30,52.7 610.90,50.8 610.50,51.5 610.10,53.2 609.70,52.9 609.30,51.1 608.90,52.4 608.50,51.7 608.10,52.4 607.70,70.1 607.30,95.9 606.90,116.1 606.50,115.1 606.10,114.9 605.70,115.7 605.30,115.4 604.90,117.4 604.50,118.6 604.10,119.0 603.70,118.6 603.30,119.2 602.90,118.8 602.50,119.7 602.10,119.2 601.70,119.5 601.30,118.3 600.90,121.2 600.50,119.9 600.10,120.3 599.70,121.1 599.30,120.6 598.90,121.3 598.50,120.0 598.10,121.3 597.70,119.8 597.30,120.5 596.90,120.2 596.50,119.6 596.10,118.3 595.70,119.0 595.30,118.3 594.90,118.9 594.50,120.0 594.10,118.1 593.70,119.4 593.30,119.7 592.90,117.7 592.50,119.1 592.10,119.0 591.70,119.9 591.30,119.8 590.90,118.9 590.50,118.4 590.10,118.6 589.70,119.1 589.30,120.6 588.90,118.5 588.50,118.5 588.10,118.8 587.70,119.7 587.30,120.6 586.90,119.8 586.50,119.4 586.10,120.3 585.70,121.9 585.30,121.1 584.90,120.8 584.50,120.3 584.10,129.0 583.70,120.5 583.30,120.7 582.90,120.5 582.50,121.2 582.10,120.6 581.70,120.9 581.30,120.4 580.90,120.9 580.50,122.9 580.10,122.5 579.70,121.3 579.30,122.3 578.90,121.4 578.50,121.9 578.10,121.4 577.70,121.8 577.30,121.0 576.90,122.2 576.50,120.1 576.10,120.0 575.70,121.5 575.30,119.4 574.90,119.5 574.50,120.5 574.10,118.7 573.70,117.8 573.30,117.5 572.90,118.5 572.50,118.1 572.10,118.2 571.70,117.0 571.30,118.6 570.90,117.3 570.50,116.9 570.10,118.1 569.70,117.7 569.30,116.8 568.90,116.8 568.50,116.4 568.10,116.6 567.70,115.9 567.30,125.2 566.90,136.0 566.50,123.2 566.10,115.0 565.70,114.9 565.30,115.5 564.90,115.5 564.50,115.3 564.10,115.9 563.70,114.6 563.30,113.2 562.90,114.7 562.50,114.3 562.10,113.5 561.70,114.9 561.30,113.0 560.90,114.0 560.50,112.9 560.10,112.9 559.70,113.0 559.30,115.1 558.90,113.0 558.50,113.8 558.10,115.7 557.70,114.0 557.30,114.2 556.90,114.8 556.50,116.3 556.10,113.5 555.70,114.7 555.30,115.0 554.90,113.9 554.50,113.8 554.10,115.7 553.70,116.6 553.30,117.5 552.90,116.5 552.50,117.2 552.10,117.6 551.70,118.1 551.30,117.7 550.90,119.6 550.50,118.0 550.10,119.6 549.70,117.9 549.30,119.5 548.90,117.8 548.50,118.6 548.10,117.6 547.70,117.4 547.30,118.9 546.90,118.8 546.50,118.0 546.10,118.6 545.70,118.4 545.30,118.5 544.90,117.6 544.50,118.1 544.10,116.8 543.70,117.2 543.30,114.9 542.90,117.9 542.50,117.5 542.10,118.3 541.70,116.3 541.30,117.0 540.90,119.1 540.50,116.2 540.10,118.2 539.70,115.6 539.30,115.5 538.90,117.2 538.50,116.2 538.10,116.2 537.70,116.8 537.30,115.3 536.90,117.6 536.50,118.2 536.10,116.3 535.70,117.5 535.30,116.0 534.90,118.6 534.50,118.5 534.10,116.3 533.70,117.5 533.30,117.5 532.90,115.7 532.50,115.8 532.10,117.2 531.70,116.6 531.30,115.6 530.90,116.4 530.50,116.2 530.10,114.8 529.70,116.4 529.30,116.7 528.90,116.3 528.50,116.8 528.10,117.8 527.70,118.0 527.30,117.2 526.90,115.5 526.50,117.0 526.10,115.5 525.70,116.4 525.30,114.9 524.90,116.0 524.50,116.3 524.10,114.8 523.70,113.8 523.30,115.0 522.90,115.6 522.50,114.2 522.10,115.6 521.70,114.4 521.30,116.2 520.90,114.1 520.50,114.0 520.10,115.7 519.70,114.5 519.30,116.6 518.90,115.9 518.50,117.1 518.10,117.2 517.70,114.5 517.30,115.8 516.90,114.4 516.50,115.5 516.10,114.2 515.70,114.0 515.30,114.8 514.90,114.8 514.50,115.2 514.10,114.7 513.70,114.7 513.30,117.1 512.90,116.3 512.50,115.9 512.10,117.9 511.70,116.1 511.30,117.5 510.90,116.2 510.50,118.8 510.10,117.7 509.70,116.5 509.30,116.6 508.90,116.1 508.50,116.9 508.10,118.2 507.70,117.4 507.30,116.4 506.90,116.4 506.50,115.3 506.10,114.7 505.70,115.1 505.30,116.6 504.90,115.0 504.50,116.0 504.10,115.5 503.70,116.8 503.30,116.9 502.90,117.6 502.50,125.2 502.10,116.5 501.70,117.4 501.30,116.0 500.90,116.0 500.50,117.4 500.10,117.3 499.70,116.4 499.30,115.1 498.90,114.2 498.50,115.0 498.10,115.6 497.70,116.1 497.30,116.6 496.90,116.4 496.50,116.8 496.10,117.4 495.70,115.6 495.30,117.5 494.90,116.8 494.50,116.6 494.10,117.5 493.70,116.9 493.30,116.4 492.90,117.5 492.50,119.2 492.10,118.8 491.70,117.7 491.30,118.8 490.90,117.3 490.50,117.7 490.10,117.5 489.70,116.5 489.30,116.9 488.90,117.0 488.50,117.0 488.10,116.8 487.70,117.3 487.30,115.9 486.90,117.2 486.50,115.4 486.10,117.3 485.70,116.7 485.30,114.4 484.90,116.9 484.50,116.0 484.10,124.3 483.70,116.8 483.30,117.2 482.90,117.3 482.50,116.5 482.10,117.5 481.70,116.7 481.30,116.4 480.90,117.0 480.50,116.0 480.10,114.4 479.70,115.2 479.30,117.1 478.90,116.5 478.50,117.6 478.10,117.7 477.70,116.2 477.30,115.6 476.90,115.3 476.50,116.2 476.10,115.1 475.70,115.5 475.30,115.1 474.90,115.6 474.50,116.2 474.10,117.7 473.70,117.2 473.30,118.4 472.90,117.4 472.50,119.0 472.10,119.0 471.70,116.8 471.30,117.3 470.90,116.8 470.50,117.9 470.10,115.5 469.70,116.9 469.30,116.2 468.90,117.6 468.50,115.7 468.10,114.6 467.70,115.3 467.30,113.8 466.90,113.4 466.50,115.6 466.10,114.6 465.70,115.6 465.30,114.9 464.90,115.9 464.50,113.2 464.10,114.2 463.70,114.5 463.30,113.1 462.90,113.1 462.50,114.5 462.10,113.0 461.70,112.7 461.30,114.3 460.90,113.8 460.50,112.7 460.10,114.3 459.70,113.9 459.30,110.1 458.90,114.2 458.50,107.9 458.10,42.9 457.70,43.1 457.30,43.6 456.90,43.4 456.50,43.2 456.10,43.5 455.70,43.1 455.30,43.0 454.90,43.0 454.50,43.4 454.10,43.3 453.70,43.3 453.30,43.4 452.90,43.5 452.50,43.3 452.10,43.1 451.70,43.3 451.30,43.1 450.90,43.2 450.50,43.5 450.10,43.6 449.70,43.3 449.30,43.2 448.90,43.7 448.50,43.5 448.10,43.4 447.70,43.3 447.30,43.5 446.90,43.5 446.50,43.1 446.10,43.1 445.70,43.3 445.30,42.9 444.90,42.9 444.50,42.5 444.10,42.5 443.70,42.5 443.30,42.8 442.90,42.6 442.50,42.9 442.10,42.5 441.70,42.8 441.30,42.5 440.90,42.4 440.50,42.7 440.10,42.4 439.70,42.7 439.30,42.5 438.90,42.9 438.50,42.5 438.10,42.5 437.70,42.5 437.30,42.6 436.90,42.5 436.50,42.7 436.10,42.4 435.70,42.4 435.30,42.0 434.90,42.3 434.50,42.4 434.10,42.1 433.70,42.4 433.30,42.6 432.90,42.2 432.50,42.5 432.10,42.5 431.70,42.3 431.30,42.2 430.90,42.4 430.50,42.0 430.10,42.4 429.70,42.2 429.30,41.9 428.90,42.0 428.50,42.1 428.10,42.0 427.70,42.3 427.30,43.7 426.90,42.3 426.50,41.8 426.10,42.4 425.70,42.1 425.30,42.2 424.90,42.4 424.50,42.0 424.10,42.4 423.70,42.5 423.30,42.4 422.90,42.2 422.50,42.2 422.10,42.1 421.70,42.6 421.30,42.3 420.90,42.4 420.50,42.6 420.10,42.7 419.70,42.2 419.30,42.5 418.90,42.1 418.50,42.5 418.10,42.6 417.70,42.3 417.30,42.4 416.90,42.4 416.50,42.1 416.10,42.4 415.70,42.0 415.30,42.6 414.90,42.4 414.50,41.9 414.10,42.0 413.70,42.1 413.30,42.2 412.90,42.2 412.50,42.2 412.10,42.2 411.70,42.1Z" fill="#8c0a10" stroke="#8c0a10" stroke-width="0.5" stroke-linejoin="round"/>
<path d="M411.70,41.9 412.10,41.0 412.50,41.1 412.90,41.6 413.30,40.6 413.70,40.5 414.10,41.6 414.50,41.2 414.90,41.8 415.30,41.4 415.70,40.7 416.10,42.6 416.50,41.8 416.90,41.4 417.30,42.2 417.70,40.8 418.10,41.8 418.50,42.0 418.90,41.8 419.30,41.6 419.70,41.0 420.10,42.4 420.50,42.4 420.90,42.0 421.30,42.4 421.70,42.4 422.10,42.1 422.50,41.7 422.90,41.7 423.30,41.5 423.70,41.1 424.10,41.0 424.50,41.8 424.90,40.8 425.30,42.2 425.70,40.9 426.10,42.2 426.50,40.5 426.90,42.3 427.30,41.2 427.70,42.0 428.10,41.2 428.50,41.4 428.90,41.0 429.30,41.2 429.70,41.9 430.10,41.2 430.50,42.1 430.90,41.3 431.30,42.0 431.70,42.1 432.10,40.9 432.50,42.1 432.90,42.1 433.30,41.7 433.70,42.5 434.10,41.2 434.50,41.1 434.90,41.5 435.30,41.7 435.70,41.4 436.10,42.7 436.50,41.8 436.90,41.1 437.30,41.2 437.70,41.6 438.10,42.2 438.50,41.9 438.90,42.6 439.30,42.5 439.70,42.6 440.10,41.0 440.50,42.0 440.90,41.1 441.30,41.6 441.70,42.3 442.10,42.1 442.50,42.5 442.90,41.9 443.30,42.6 443.70,41.6 444.10,42.9 444.50,41.9 444.90,42.9 445.30,42.7 445.70,42.5 446.10,42.2 446.50,42.3 446.90,43.5 447.30,41.8 447.70,43.7 448.10,42.2 448.50,42.7 448.90,42.7 449.30,43.3 449.70,42.9 450.10,42.7 450.50,43.9 450.90,43.6 451.30,43.8 451.70,43.1 452.10,42.6 452.50,43.9 452.90,42.3 453.30,43.5 453.70,43.9 454.10,42.5 454.50,41.5 454.90,42.5 455.30,41.7 455.70,42.2 456.10,43.0 456.50,43.2 456.90,42.3 457.30,42.4 457.70,43.3 458.10,42.9 458.50,99.1 458.90,98.9 459.30,107.3 459.70,111.5 460.10,103.9 460.50,105.7 460.90,108.1 461.30,109.7 461.70,108.1 462.10,106.4 462.50,107.9 462.90,108.8 463.30,110.0 463.70,112.5 464.10,108.5 464.50,112.1 464.90,109.8 465.30,110.5 465.70,110.8 466.10,113.6 466.50,109.1 466.90,113.4 467.30,115.0 467.70,110.8 468.10,113.2 468.50,118.6 468.90,112.9 469.30,117.3 469.70,115.5 470.10,114.8 470.50,111.2 470.90,111.3 471.30,112.7 471.70,113.9 472.10,113.8 472.50,119.0 472.90,111.6 473.30,118.3 473.70,118.6 474.10,112.2 474.50,116.6 474.90,115.8 475.30,117.1 475.70,108.8 476.10,110.7 476.50,111.2 476.90,111.1 477.30,109.6 477.70,114.4 478.10,110.1 478.50,116.4 478.90,115.7 479.30,109.2 479.70,112.5 480.10,110.3 480.50,113.2 480.90,114.6 481.30,112.4 481.70,115.6 482.10,115.6 482.50,118.0 482.90,112.3 483.30,113.0 483.70,116.2 484.10,117.0 484.50,112.2 484.90,114.5 485.30,113.8 485.70,114.7 486.10,114.7 486.50,115.6 486.90,115.8 487.30,113.6 487.70,118.2 488.10,114.7 488.50,118.1 488.90,111.2 489.30,115.4 489.70,114.7 490.10,115.2 490.50,114.6 490.90,113.8 491.30,113.7 491.70,114.0 492.10,115.4 492.50,119.7 492.90,111.4 493.30,116.2 493.70,115.5 494.10,114.7 494.50,115.1 494.90,118.4 495.30,114.6 495.70,111.9 496.10,115.1 496.50,110.2 496.90,115.0 497.30,114.9 497.70,112.0 498.10,116.0 498.50,111.9 498.90,111.3 499.30,109.7 499.70,114.9 500.10,118.5 500.50,114.4 500.90,114.9 501.30,113.5 501.70,117.0 502.10,117.5 502.50,118.4 502.90,112.8 503.30,115.8 503.70,116.4 504.10,112.7 504.50,116.6 504.90,113.8 505.30,113.5 505.70,114.4 506.10,112.4 506.50,110.7 506.90,116.1 507.30,116.1 507.70,117.5 508.10,116.3 508.50,112.7 508.90,112.3 509.30,115.9 509.70,113.8 510.10,113.6 510.50,112.6 510.90,111.8 511.30,116.3 511.70,112.8 512.10,117.6 512.50,112.9 512.90,114.0 513.30,114.6 513.70,108.4 514.10,112.5 514.50,112.2 514.90,111.4 515.30,112.7 515.70,112.4 516.10,110.7 516.50,112.9 516.90,113.7 517.30,112.0 517.70,112.6 518.10,113.6 518.50,113.0 518.90,113.5 519.30,113.6 519.70,110.4 520.10,117.0 520.50,110.9 520.90,109.8 521.30,113.7 521.70,111.9 522.10,112.6 522.50,115.5 522.90,111.9 523.30,110.8 523.70,112.9 524.10,114.6 524.50,112.6 524.90,114.6 525.30,113.4 525.70,113.8 526.10,118.6 526.50,114.6 526.90,113.0 527.30,111.7 527.70,110.3 528.10,116.4 528.50,112.2 528.90,116.7 529.30,110.3 529.70,112.3 530.10,112.9 530.50,109.2 530.90,108.7 531.30,114.6 531.70,111.6 532.10,114.1 532.50,114.3 532.90,112.7 533.30,113.9 533.70,112.3 534.10,115.8 534.50,113.5 534.90,112.4 535.30,114.5 535.70,114.6 536.10,114.7 536.50,115.2 536.90,115.3 537.30,113.6 537.70,112.9 538.10,115.0 538.50,112.8 538.90,115.6 539.30,114.0 539.70,115.4 540.10,112.7 540.50,118.5 540.90,113.7 541.30,115.6 541.70,115.6 542.10,114.7 542.50,112.0 542.90,116.3 543.30,117.4 543.70,111.0 544.10,116.6 544.50,118.6 544.90,112.8 545.30,116.1 545.70,113.0 546.10,116.1 546.50,114.3 546.90,115.8 547.30,116.1 547.70,115.6 548.10,118.8 548.50,115.6 548.90,118.8 549.30,120.9 549.70,117.1 550.10,112.7 550.50,114.5 550.90,116.6 551.30,114.2 551.70,111.8 552.10,116.9 552.50,115.2 552.90,112.7 553.30,113.0 553.70,114.4 554.10,112.3 554.50,108.3 554.90,109.8 555.30,114.1 555.70,114.5 556.10,110.3 556.50,108.7 556.90,111.6 557.30,111.7 557.70,114.8 558.10,114.3 558.50,111.8 558.90,110.2 559.30,115.5 559.70,113.3 560.10,108.9 560.50,113.7 560.90,110.3 561.30,109.7 561.70,111.2 562.10,111.8 562.50,110.3 562.90,115.6 563.30,112.7 563.70,115.7 564.10,109.2 564.50,115.1 564.90,112.3 565.30,114.7 565.70,115.7 566.10,112.7 566.50,108.1 566.90,109.4 567.30,111.9 567.70,113.7 568.10,112.5 568.50,116.5 568.90,114.0 569.30,115.9 569.70,118.7 570.10,114.6 570.50,114.3 570.90,111.9 571.30,114.6 571.70,113.6 572.10,115.5 572.50,111.9 572.90,110.8 573.30,118.7 573.70,118.9 574.10,117.0 574.50,118.0 574.90,120.1 575.30,118.3 575.70,117.6 576.10,119.6 576.50,115.7 576.90,119.1 577.30,116.2 577.70,123.9 578.10,119.9 578.50,118.4 578.90,116.3 579.30,122.9 579.70,115.4 580.10,115.2 580.50,119.2 580.90,120.6 581.30,117.8 581.70,116.7 582.10,116.0 582.50,115.9 582.90,121.2 583.30,115.7 583.70,120.5 584.10,121.3 584.50,117.3 584.90,114.7 585.30,122.2 585.70,118.9 586.10,117.7 586.50,117.4 586.90,119.4 587.30,112.8 587.70,118.3 588.10,113.1 588.50,119.8 588.90,113.5 589.30,118.5 589.70,120.2 590.10,118.3 590.50,113.3 590.90,114.8 591.30,116.3 591.70,118.1 592.10,114.1 592.50,117.3 592.90,118.3 593.30,114.8 593.70,118.6 594.10,113.3 594.50,117.6 594.90,114.9 595.30,113.1 595.70,117.4 596.10,115.8 596.50,115.4 596.90,115.8 597.30,115.1 597.70,113.5 598.10,114.4 598.50,119.3 598.90,118.8 599.30,121.4 599.70,114.6 600.10,118.9 600.50,118.8 600.90,117.9 601.30,114.6 601.70,119.0 602.10,117.6 602.50,118.9 602.90,113.8 603.30,120.1 603.70,118.7 604.10,115.7 604.50,116.0 604.90,117.1 605.30,109.9 605.70,114.9 606.10,111.1 606.50,116.5 606.90,110.5 607.30,94.2 607.70,65.2 608.10,49.5 608.50,49.5 608.90,50.4 609.30,49.5 609.70,49.8 610.10,52.6 610.50,46.0 610.90,45.4 611.30,53.3 611.70,48.5 612.10,41.9 612.50,47.6 612.90,46.3 613.30,46.0 613.70,51.1 614.10,46.7 614.50,50.3 614.90,48.1 615.30,44.6 615.70,46.0 616.10,46.6 616.50,48.7 616.90,44.6 617.30,47.8 617.70,47.7 618.10,43.2 618.50,49.1 618.90,51.9 619.30,47.6 619.70,50.6 620.10,47.8 620.50,44.5 620.90,42.3 621.30,44.8 621.70,43.6 622.10,50.5 622.50,47.4 622.90,51.0" fill="none" stroke="#8c0a10" stroke-width="0.45" stroke-linejoin="bevel"/>
<polygon points="420.39,39.57 422.39,42.97 418.39,42.97" fill="#fff" stroke="#8c0a10" stroke-width="0.7"/>
<polygon points="429.08,40.39 431.08,43.79 427.08,43.79" fill="#fff" stroke="#8c0a10" stroke-width="0.7"/>
<polygon points="437.78,40.71 439.78,44.11 435.78,44.11" fill="#fff" stroke="#8c0a10" stroke-width="0.7"/>
<polygon points="446.47,40.7 448.47,44.1 444.47,44.1" fill="#fff" stroke="#8c0a10" stroke-width="0.7"/>
<polygon points="455.16,40.72 457.16,44.12 453.16,44.12" fill="#fff" stroke="#8c0a10" stroke-width="0.7"/>
<polygon points="463.85,110.79 465.85,114.19 461.85,114.19" fill="#fff" stroke="#8c0a10" stroke-width="0.7"/>
<polygon points="472.55,111.64 474.55,115.04 470.55,115.04" fill="#fff" stroke="#8c0a10" stroke-width="0.7"/>
<polygon points="481.24,111.7 483.24,115.1 479.24,115.1" fill="#fff" stroke="#8c0a10" stroke-width="0.7"/>
<polygon points="489.93,112.04 491.93,115.44 487.93,115.44" fill="#fff" stroke="#8c0a10" stroke-width="0.7"/>
<polygon points="498.62,111.65 500.62,115.05 496.62,115.05" fill="#fff" stroke="#8c0a10" stroke-width="0.7"/>
<polygon points="507.32,111.45 509.32,114.85 505.32,114.85" fill="#fff" stroke="#8c0a10" stroke-width="0.7"/>
<polygon points="516.01,111.27 518.01,114.67 514.01,114.67" fill="#fff" stroke="#8c0a10" stroke-width="0.7"/>
<polygon points="524.7,111.01 526.7,114.41 522.7,114.41" fill="#fff" stroke="#8c0a10" stroke-width="0.7"/>
<polygon points="533.39,111.88 535.39,115.28 531.39,115.28" fill="#fff" stroke="#8c0a10" stroke-width="0.7"/>
<polygon points="542.09,111.65 544.09,115.05 540.09,115.05" fill="#fff" stroke="#8c0a10" stroke-width="0.7"/>
<polygon points="550.78,111.2 552.78,114.6 548.78,114.6" fill="#fff" stroke="#8c0a10" stroke-width="0.7"/>
<polygon points="559.47,110.96 561.47,114.36 557.47,114.36" fill="#fff" stroke="#8c0a10" stroke-width="0.7"/>
<polygon points="568.16,111.99 570.16,115.39 566.16,115.39" fill="#fff" stroke="#8c0a10" stroke-width="0.7"/>
<polygon points="576.85,114.54 578.85,117.94 574.85,117.94" fill="#fff" stroke="#8c0a10" stroke-width="0.7"/>
<polygon points="585.55,114.32 587.55,117.72 583.55,117.72" fill="#fff" stroke="#8c0a10" stroke-width="0.7"/>
<polygon points="594.24,114.97 596.24,118.37 592.24,118.37" fill="#fff" stroke="#8c0a10" stroke-width="0.7"/>
<polygon points="602.93,116.13 604.93,119.53 600.93,119.53" fill="#fff" stroke="#8c0a10" stroke-width="0.7"/>
<polygon points="611.62,48.19 613.62,51.59 609.62,51.59" fill="#fff" stroke="#8c0a10" stroke-width="0.7"/>
<polygon points="620.32,47.19 622.32,50.59 618.32,50.59" fill="#fff" stroke="#8c0a10" stroke-width="0.7"/>
<polygon points="566.92,134.77 568.92,138.17 564.92,138.17" fill="#fff" stroke="#8c0a10" stroke-width="0.7"/>
<path d="M411.70,39.1 412.10,38.6 412.50,39.1 412.90,39.1 413.30,38.7 413.70,39.2 414.10,38.3 414.50,38.9 414.90,38.8 415.30,38.9 415.70,39.0 416.10,38.9 416.50,39.0 416.90,38.0 417.30,38.7 417.70,39.0 418.10,38.8 418.50,39.2 418.90,38.9 419.30,38.7 419.70,38.7 420.10,38.7 420.50,38.2 420.90,38.4 421.30,38.1 421.70,38.1 422.10,37.9 422.50,38.4 422.90,37.9 423.30,38.5 423.70,37.7 424.10,38.6 424.50,38.3 424.90,38.6 425.30,38.4 425.70,38.6 426.10,38.6 426.50,39.0 426.90,38.9 427.30,38.0 427.70,38.7 428.10,38.4 428.50,38.9 428.90,38.4 429.30,39.0 429.70,38.9 430.10,37.0 430.50,38.6 430.90,39.0 431.30,39.1 431.70,39.4 432.10,39.2 432.50,38.9 432.90,39.0 433.30,39.6 433.70,39.4 434.10,39.3 434.50,39.0 434.90,39.7 435.30,38.9 435.70,39.2 436.10,39.9 436.50,39.4 436.90,39.9 437.30,39.6 437.70,39.2 438.10,38.6 438.50,39.0 438.90,39.2 439.30,39.4 439.70,39.0 440.10,39.7 440.50,39.8 440.90,39.5 441.30,39.5 441.70,40.2 442.10,40.0 442.50,39.6 442.90,40.0 443.30,40.4 443.70,40.5 444.10,39.6 444.50,40.2 444.90,40.2 445.30,40.1 445.70,39.1 446.10,39.5 446.50,38.7 446.90,38.7 447.30,38.6 447.70,38.6 448.10,38.4 448.50,38.6 448.90,36.5 449.30,39.0 449.70,39.7 450.10,39.1 450.50,39.3 450.90,39.2 451.30,38.8 451.70,39.2 452.10,38.8 452.50,39.1 452.90,39.4 453.30,38.9 453.70,39.1 454.10,39.3 454.50,39.1 454.90,39.3 455.30,38.4 455.70,39.3 456.10,38.8 456.50,39.1 456.90,39.3 457.30,39.1 457.70,38.8 458.10,38.8 458.50,89.6 458.90,93.2 459.30,95.2 459.70,98.3 460.10,104.0 460.50,104.5 460.90,103.7 461.30,103.7 461.70,105.8 462.10,105.5 462.50,107.3 462.90,105.3 463.30,104.6 463.70,104.0 464.10,105.7 464.50,104.8 464.90,104.2 465.30,105.9 465.70,104.8 466.10,104.0 466.50,105.1 466.90,104.9 467.30,106.6 467.70,104.7 468.10,105.8 468.50,98.7 468.90,106.6 469.30,105.8 469.70,107.9 470.10,107.8 470.50,106.9 470.90,106.7 471.30,107.8 471.70,107.7 472.10,107.3 472.50,107.0 472.90,108.4 473.30,108.7 473.70,108.0 474.10,108.5 474.50,108.6 474.90,108.3 475.30,107.4 475.70,107.6 476.10,107.7 476.50,107.1 476.90,107.4 477.30,108.0 477.70,107.2 478.10,106.9 478.50,108.1 478.90,106.8 479.30,107.1 479.70,106.4 480.10,107.2 480.50,106.7 480.90,106.2 481.30,107.7 481.70,106.4 482.10,106.4 482.50,108.0 482.90,108.1 483.30,107.4 483.70,106.8 484.10,106.5 484.50,106.3 484.90,106.5 485.30,106.2 485.70,106.4 486.10,105.5 486.50,107.2 486.90,107.0 487.30,107.1 487.70,107.5 488.10,107.3 488.50,107.2 488.90,106.4 489.30,107.6 489.70,106.5 490.10,107.2 490.50,108.0 490.90,107.4 491.30,106.2 491.70,99.9 492.10,106.5 492.50,105.9 492.90,106.6 493.30,107.0 493.70,106.9 494.10,107.3 494.50,107.8 494.90,107.6 495.30,107.4 495.70,106.4 496.10,107.4 496.50,108.1 496.90,106.2 497.30,108.0 497.70,106.9 498.10,107.7 498.50,107.9 498.90,108.0 499.30,108.6 499.70,107.6 500.10,106.5 500.50,107.2 500.90,106.7 501.30,107.9 501.70,108.0 502.10,107.9 502.50,107.3 502.90,107.5 503.30,108.1 503.70,107.4 504.10,106.9 504.50,107.2 504.90,106.6 505.30,106.0 505.70,106.8 506.10,106.4 506.50,106.0 506.90,105.8 507.30,106.7 507.70,107.1 508.10,108.4 508.50,108.0 508.90,107.5 509.30,107.6 509.70,107.3 510.10,107.6 510.50,107.7 510.90,106.9 511.30,107.8 511.70,107.8 512.10,107.3 512.50,108.5 512.90,107.5 513.30,107.0 513.70,107.1 514.10,100.8 514.50,106.7 514.90,107.1 515.30,108.1 515.70,107.4 516.10,108.2 516.50,107.5 516.90,108.4 517.30,107.5 517.70,106.3 518.10,106.8 518.50,107.9 518.90,107.7 519.30,107.0 519.70,108.5 520.10,107.0 520.50,106.6 520.90,100.9 521.30,106.9 521.70,108.1 522.10,108.6 522.50,107.9 522.90,108.9 523.30,108.4 523.70,109.1 524.10,109.1 524.50,108.5 524.90,108.1 525.30,107.9 525.70,107.5 526.10,108.0 526.50,109.6 526.90,107.6 527.30,108.7 527.70,108.1 528.10,108.9 528.50,108.1 528.90,108.4 529.30,108.2 529.70,109.1 530.10,108.4 530.50,107.8 530.90,107.4 531.30,108.1 531.70,108.0 532.10,107.7 532.50,108.6 532.90,108.0 533.30,107.1 533.70,107.3 534.10,107.3 534.50,106.2 534.90,106.9 535.30,106.9 535.70,107.3 536.10,108.0 536.50,106.9 536.90,106.5 537.30,107.2 537.70,107.5 538.10,108.2 538.50,107.8 538.90,108.0 539.30,108.3 539.70,108.4 540.10,108.5 540.50,107.7 540.90,108.3 541.30,108.1 541.70,109.1 542.10,107.6 542.50,107.6 542.90,107.8 543.30,108.0 543.70,108.0 544.10,108.5 544.50,107.3 544.90,106.9 545.30,106.8 545.70,106.2 546.10,106.5 546.50,107.3 546.90,106.1 547.30,106.9 547.70,107.7 548.10,108.5 548.50,106.8 548.90,108.2 549.30,107.7 549.70,108.5 550.10,107.4 550.50,108.3 550.90,107.6 551.30,108.0 551.70,108.0 552.10,108.0 552.50,107.6 552.90,106.8 553.30,107.0 553.70,106.5 554.10,106.3 554.50,106.1 554.90,105.6 555.30,106.3 555.70,105.5 556.10,107.2 556.50,106.7 556.90,107.1 557.30,106.0 557.70,106.2 558.10,106.2 558.50,107.5 558.90,106.7 559.30,106.7 559.70,105.2 560.10,107.3 560.50,106.8 560.90,106.5 561.30,106.8 561.70,107.1 562.10,106.6 562.50,108.2 562.90,108.2 563.30,107.0 563.70,108.1 564.10,108.0 564.50,107.1 564.90,101.1 565.30,106.8 565.70,107.5 566.10,106.5 566.50,107.0 566.90,107.1 567.30,106.7 567.70,108.2 568.10,108.1 568.50,107.5 568.90,108.4 569.30,108.9 569.70,108.0 570.10,109.1 570.50,108.3 570.90,108.1 571.30,109.4 571.70,109.8 572.10,110.9 572.50,109.8 572.90,110.6 573.30,110.9 573.70,110.5 574.10,109.4 574.50,109.5 574.90,109.8 575.30,111.2 575.70,110.0 576.10,110.7 576.50,111.4 576.90,110.1 577.30,110.9 577.70,110.1 578.10,110.9 578.50,111.0 578.90,112.0 579.30,112.1 579.70,113.2 580.10,113.1 580.50,111.0 580.90,112.0 581.30,112.1 581.70,112.0 582.10,112.3 582.50,112.6 582.90,112.7 583.30,113.2 583.70,111.7 584.10,112.2 584.50,113.2 584.90,113.6 585.30,112.6 585.70,112.3 586.10,114.7 586.50,113.2 586.90,115.6 587.30,116.0 587.70,115.9 588.10,114.4 588.50,116.3 588.90,116.7 589.30,117.5 589.70,110.7 590.10,115.8 590.50,116.6 590.90,116.7 591.30,116.9 591.70,117.4 592.10,116.6 592.50,116.2 592.90,117.3 593.30,117.8 593.70,116.2 594.10,117.1 594.50,115.6 594.90,114.7 595.30,116.3 595.70,115.2 596.10,115.0 596.50,116.2 596.90,116.1 597.30,117.8 597.70,116.0 598.10,116.0 598.50,116.6 598.90,117.9 599.30,116.8 599.70,118.7 600.10,118.2 600.50,117.8 600.90,119.7 601.30,118.5 601.70,118.7 602.10,119.6 602.50,119.4 602.90,119.8 603.30,117.2 603.70,116.3 604.10,116.0 604.50,115.5 604.90,113.4 605.30,111.4 605.70,111.8 606.10,111.4 606.50,108.5 606.90,107.0 607.30,90.3 607.70,65.9 608.10,47.4 608.50,44.2 608.90,45.1 609.30,46.3 609.70,45.5 610.10,46.1 610.50,46.7 610.90,45.0 611.30,44.1 611.70,44.8 612.10,45.8 612.50,44.4 612.90,46.8 613.30,45.9 613.70,44.5 614.10,47.4 614.50,47.1 614.90,47.7 615.30,48.1 615.70,46.9 616.10,46.3 616.50,46.9 616.90,45.4 617.30,45.2 617.70,46.9 618.10,47.6 618.50,44.6 618.90,47.2 619.30,45.8 619.70,47.3 620.10,46.6 620.50,46.5 620.90,47.9 621.30,47.2 621.70,48.0 622.10,49.1 622.50,46.3 622.90,46.7 622.90,52.4 622.50,53.8 622.10,52.8 621.70,53.4 621.30,52.7 620.90,54.3 620.50,52.0 620.10,54.2 619.70,53.9 619.30,52.7 618.90,52.4 618.50,51.7 618.10,51.6 617.70,52.0 617.30,51.6 616.90,52.8 616.50,51.3 616.10,50.9 615.70,53.5 615.30,54.3 614.90,51.7 614.50,51.8 614.10,52.2 613.70,51.7 613.30,52.4 612.90,52.3 612.50,52.6 612.10,52.4 611.70,50.6 611.30,52.0 610.90,51.8 610.50,50.0 610.10,50.8 609.70,52.3 609.30,52.2 608.90,50.8 608.50,49.7 608.10,51.4 607.70,69.5 607.30,94.2 606.90,112.9 606.50,114.8 606.10,116.5 605.70,117.5 605.30,116.9 604.90,117.5 604.50,119.0 604.10,119.7 603.70,120.4 603.30,122.7 602.90,124.4 602.50,123.9 602.10,123.6 601.70,122.9 601.30,131.2 600.90,124.0 600.50,123.7 600.10,121.5 599.70,123.2 599.30,121.5 598.90,122.0 598.50,120.2 598.10,121.2 597.70,120.1 597.30,120.1 596.90,128.0 596.50,119.7 596.10,121.2 595.70,119.3 595.30,120.3 594.90,121.0 594.50,119.9 594.10,120.9 593.70,121.4 593.30,121.3 592.90,119.9 592.50,121.3 592.10,121.6 591.70,121.7 591.30,122.1 590.90,121.3 590.50,121.9 590.10,132.0 589.70,132.1 589.30,122.5 588.90,120.8 588.50,120.9 588.10,119.7 587.70,119.6 587.30,120.2 586.90,117.9 586.50,118.9 586.10,117.6 585.70,118.4 585.30,116.9 584.90,116.7 584.50,117.6 584.10,116.6 583.70,117.6 583.30,117.0 582.90,117.1 582.50,116.7 582.10,117.3 581.70,115.0 581.30,115.3 580.90,115.5 580.50,115.9 580.10,116.3 579.70,115.4 579.30,117.0 578.90,115.7 578.50,115.0 578.10,114.6 577.70,114.0 577.30,115.0 576.90,114.0 576.50,114.6 576.10,114.9 575.70,114.0 575.30,115.5 574.90,115.1 574.50,113.6 574.10,114.8 573.70,114.0 573.30,114.1 572.90,114.5 572.50,113.2 572.10,113.1 571.70,113.5 571.30,113.3 570.90,112.4 570.50,111.8 570.10,112.2 569.70,111.0 569.30,111.1 568.90,111.6 568.50,110.7 568.10,111.3 567.70,111.0 567.30,119.4 566.90,129.4 566.50,117.9 566.10,109.8 565.70,110.5 565.30,110.7 564.90,110.6 564.50,111.1 564.10,111.3 563.70,111.3 563.30,111.5 562.90,111.7 562.50,110.6 562.10,111.1 561.70,110.0 561.30,111.4 560.90,111.3 560.50,110.4 560.10,110.5 559.70,109.5 559.30,110.5 558.90,109.3 558.50,110.1 558.10,110.1 557.70,110.6 557.30,109.4 556.90,109.6 556.50,108.9 556.10,109.4 555.70,109.5 555.30,109.4 554.90,108.8 554.50,110.1 554.10,109.2 553.70,109.4 553.30,110.5 552.90,109.3 552.50,110.6 552.10,111.1 551.70,112.6 551.30,111.4 550.90,111.1 550.50,111.0 550.10,112.4 549.70,110.8 549.30,111.0 548.90,110.7 548.50,109.9 548.10,110.7 547.70,110.7 547.30,111.1 546.90,109.3 546.50,110.3 546.10,110.7 545.70,111.1 545.30,110.6 544.90,109.9 544.50,114.3 544.10,124.2 543.70,121.5 543.30,112.0 542.90,110.7 542.50,110.0 542.10,111.5 541.70,111.9 541.30,111.4 540.90,111.1 540.50,110.8 540.10,112.7 539.70,118.0 539.30,111.4 538.90,112.5 538.50,111.6 538.10,112.1 537.70,112.1 537.30,110.1 536.90,111.3 536.50,109.9 536.10,111.4 535.70,110.4 535.30,110.1 534.90,110.8 534.50,110.1 534.10,111.7 533.70,110.9 533.30,111.1 532.90,110.3 532.50,111.9 532.10,110.2 531.70,111.0 531.30,111.5 530.90,111.4 530.50,111.1 530.10,111.5 529.70,112.2 529.30,110.9 528.90,110.9 528.50,110.7 528.10,112.0 527.70,110.7 527.30,112.5 526.90,111.5 526.50,111.8 526.10,112.0 525.70,112.6 525.30,110.7 524.90,112.3 524.50,112.1 524.10,111.9 523.70,112.1 523.30,111.3 522.90,112.3 522.50,111.4 522.10,111.5 521.70,111.3 521.30,110.6 520.90,111.1 520.50,111.4 520.10,110.9 519.70,111.1 519.30,110.6 518.90,111.5 518.50,110.7 518.10,110.9 517.70,109.9 517.30,110.5 516.90,110.7 516.50,112.1 516.10,111.8 515.70,112.1 515.30,111.6 514.90,111.3 514.50,110.5 514.10,111.0 513.70,110.7 513.30,110.3 512.90,109.6 512.50,111.3 512.10,111.7 511.70,111.5 511.30,110.6 510.90,110.6 510.50,110.8 510.10,110.8 509.70,111.6 509.30,110.8 508.90,111.4 508.50,112.6 508.10,110.8 507.70,109.4 507.30,110.4 506.90,108.6 506.50,109.8 506.10,109.4 505.70,110.0 505.30,109.6 504.90,110.2 504.50,111.2 504.10,110.1 503.70,116.5 503.30,110.2 502.90,110.6 502.50,111.6 502.10,111.6 501.70,111.7 501.30,110.1 500.90,109.0 500.50,109.8 500.10,110.5 499.70,110.7 499.30,111.8 498.90,110.7 498.50,111.8 498.10,111.4 497.70,110.4 497.30,110.9 496.90,109.9 496.50,110.6 496.10,109.9 495.70,110.4 495.30,110.8 494.90,110.5 494.50,110.0 494.10,110.7 493.70,110.2 493.30,110.4 492.90,110.1 492.50,110.2 492.10,111.0 491.70,111.2 491.30,109.6 490.90,110.1 490.50,111.0 490.10,111.0 489.70,111.0 489.30,111.1 488.90,110.6 488.50,111.4 488.10,110.9 487.70,110.8 487.30,109.8 486.90,110.0 486.50,109.3 486.10,109.9 485.70,110.0 485.30,110.0 484.90,109.3 484.50,110.8 484.10,109.8 483.70,109.9 483.30,111.1 482.90,111.5 482.50,110.4 482.10,110.0 481.70,111.1 481.30,110.3 480.90,109.6 480.50,109.8 480.10,110.5 479.70,110.5 479.30,110.4 478.90,110.5 478.50,110.7 478.10,109.8 477.70,110.8 477.30,110.5 476.90,111.1 476.50,110.5 476.10,110.7 475.70,111.5 475.30,110.2 474.90,110.6 474.50,112.1 474.10,112.0 473.70,111.3 473.30,111.4 472.90,111.6 472.50,111.8 472.10,111.3 471.70,111.2 471.30,112.2 470.90,112.0 470.50,111.8 470.10,111.2 469.70,111.8 469.30,110.4 468.90,109.1 468.50,108.8 468.10,108.5 467.70,108.8 467.30,109.1 466.90,109.1 466.50,109.7 466.10,110.3 465.70,108.0 465.30,109.8 464.90,109.4 464.50,110.2 464.10,111.0 463.70,110.2 463.30,110.2 462.90,111.5 462.50,110.9 462.10,111.6 461.70,110.0 461.30,110.3 460.90,110.1 460.50,112.7 460.10,108.2 459.70,108.5 459.30,104.4 458.90,102.4 458.50,103.1 458.10,40.7 457.70,40.6 457.30,40.8 456.90,40.6 456.50,40.4 456.10,40.8 455.70,40.4 455.30,40.9 454.90,40.5 454.50,40.2 454.10,41.0 453.70,40.6 453.30,40.5 452.90,41.6 452.50,40.9 452.10,41.3 451.70,40.7 451.30,40.5 450.90,41.1 450.50,41.4 450.10,41.3 449.70,41.0 449.30,40.3 448.90,40.4 448.50,40.3 448.10,39.9 447.70,40.4 447.30,40.6 446.90,41.0 446.50,41.0 446.10,40.6 445.70,40.8 445.30,41.9 444.90,41.4 444.50,42.0 444.10,41.4 443.70,42.0 443.30,42.1 442.90,41.4 442.50,42.0 442.10,41.4 441.70,41.5 441.30,41.7 440.90,41.7 440.50,41.4 440.10,41.8 439.70,41.4 439.30,41.1 438.90,40.6 438.50,40.4 438.10,41.1 437.70,40.9 437.30,40.7 436.90,41.3 436.50,41.3 436.10,41.6 435.70,41.5 435.30,40.9 434.90,40.6 434.50,41.1 434.10,40.5 433.70,40.6 433.30,41.3 432.90,41.0 432.50,40.7 432.10,40.6 431.70,41.2 431.30,41.1 430.90,41.2 430.50,40.9 430.10,41.0 429.70,40.5 429.30,40.0 428.90,40.2 428.50,40.9 428.10,40.8 427.70,40.0 427.30,40.2 426.90,40.0 426.50,40.2 426.10,40.5 425.70,40.7 425.30,40.1 424.90,40.4 424.50,40.1 424.10,40.5 423.70,39.8 423.30,40.2 422.90,39.8 422.50,40.1 422.10,39.7 421.70,40.2 421.30,40.6 420.90,40.5 420.50,40.3 420.10,40.0 419.70,40.6 419.30,40.8 418.90,40.8 418.50,40.1 418.10,40.0 417.70,42.7 417.30,40.8 416.90,39.7 416.50,40.5 416.10,40.6 415.70,40.6 415.30,40.2 414.90,40.4 414.50,40.2 414.10,40.7 413.70,41.0 413.30,40.7 412.90,40.4 412.50,41.0 412.10,40.8 411.70,40.4Z" fill="#ff1487" stroke="#ff1487" stroke-width="0.5" stroke-linejoin="round"/>
<path d="M411.70,40.8 412.10,40.2 412.50,38.5 412.90,39.0 413.30,40.2 413.70,38.9 414.10,39.7 414.50,39.5 414.90,39.8 415.30,39.8 415.70,39.6 416.10,39.7 416.50,37.8 416.90,38.8 417.30,40.7 417.70,38.9 418.10,38.7 418.50,40.0 418.90,40.2 419.30,40.0 419.70,38.7 420.10,40.5 420.50,38.6 420.90,38.9 421.30,39.4 421.70,38.7 422.10,37.4 422.50,38.7 422.90,37.6 423.30,39.1 423.70,38.7 424.10,38.8 424.50,38.4 424.90,40.2 425.30,39.2 425.70,41.0 426.10,39.7 426.50,39.0 426.90,39.7 427.30,40.5 427.70,39.3 428.10,38.9 428.50,39.4 428.90,39.6 429.30,39.5 429.70,39.7 430.10,40.7 430.50,38.3 430.90,38.6 431.30,39.4 431.70,39.1 432.10,38.7 432.50,41.1 432.90,40.0 433.30,38.3 433.70,41.1 434.10,39.4 434.50,39.1 434.90,41.3 435.30,39.1 435.70,40.0 436.10,40.8 436.50,40.5 436.90,41.6 437.30,38.9 437.70,40.3 438.10,39.4 438.50,38.9 438.90,40.3 439.30,39.4 439.70,39.6 440.10,41.6 440.50,42.1 440.90,40.5 441.30,41.4 441.70,41.6 442.10,41.3 442.50,40.6 442.90,41.0 443.30,41.0 443.70,42.4 444.10,41.1 444.50,39.7 444.90,39.8 445.30,40.9 445.70,40.3 446.10,41.3 446.50,39.3 446.90,39.9 447.30,39.7 447.70,39.3 448.10,40.7 448.50,39.5 448.90,39.4 449.30,39.8 449.70,40.6 450.10,41.1 450.50,39.4 450.90,40.6 451.30,41.4 451.70,40.1 452.10,40.9 452.50,41.1 452.90,40.6 453.30,38.7 453.70,40.9 454.10,38.4 454.50,39.1 454.90,39.4 455.30,39.5 455.70,39.9 456.10,39.5 456.50,40.1 456.90,40.5 457.30,39.7 457.70,39.4 458.10,39.4 458.50,88.1 458.90,102.7 459.30,100.0 459.70,109.8 460.10,107.4 460.50,110.2 460.90,108.5 461.30,106.0 461.70,109.7 462.10,107.0 462.50,112.9 462.90,107.3 463.30,108.0 463.70,106.4 464.10,107.2 464.50,110.5 464.90,108.3 465.30,105.8 465.70,108.5 466.10,103.6 466.50,106.5 466.90,108.4 467.30,104.1 467.70,104.3 468.10,109.7 468.50,108.7 468.90,108.8 469.30,109.8 469.70,108.8 470.10,111.6 470.50,106.6 470.90,112.4 471.30,108.0 471.70,112.3 472.10,106.9 472.50,109.9 472.90,108.7 473.30,111.1 473.70,108.6 474.10,111.4 474.50,109.4 474.90,109.9 475.30,111.0 475.70,107.3 476.10,110.3 476.50,108.6 476.90,110.1 477.30,109.0 477.70,110.5 478.10,108.6 478.50,108.9 478.90,110.0 479.30,110.4 479.70,108.3 480.10,108.9 480.50,109.1 480.90,109.2 481.30,106.5 481.70,106.9 482.10,111.4 482.50,109.3 482.90,108.5 483.30,109.0 483.70,110.0 484.10,106.1 484.50,108.6 484.90,107.9 485.30,104.6 485.70,107.7 486.10,107.1 486.50,109.7 486.90,108.5 487.30,109.8 487.70,108.8 488.10,109.4 488.50,107.5 488.90,109.9 489.30,109.5 489.70,105.9 490.10,109.1 490.50,109.2 490.90,108.1 491.30,109.1 491.70,109.8 492.10,108.5 492.50,108.9 492.90,107.0 493.30,108.3 493.70,108.2 494.10,109.5 494.50,107.5 494.90,110.7 495.30,110.7 495.70,106.0 496.10,109.4 496.50,107.5 496.90,110.3 497.30,107.6 497.70,109.5 498.10,109.4 498.50,109.5 498.90,111.0 499.30,106.5 499.70,109.0 500.10,109.1 500.50,108.0 500.90,108.1 501.30,108.8 501.70,107.6 502.10,107.8 502.50,109.5 502.90,109.8 503.30,108.6 503.70,109.3 504.10,109.4 504.50,107.7 504.90,107.7 505.30,110.9 505.70,109.4 506.10,106.4 506.50,107.1 506.90,108.3 507.30,109.8 507.70,107.5 508.10,107.9 508.50,107.1 508.90,107.4 509.30,108.0 509.70,111.3 510.10,107.5 510.50,109.3 510.90,105.6 511.30,109.9 511.70,110.6 512.10,112.4 512.50,108.9 512.90,108.1 513.30,108.7 513.70,109.4 514.10,109.4 514.50,106.4 514.90,109.0 515.30,107.8 515.70,107.9 516.10,107.9 516.50,110.3 516.90,109.4 517.30,111.1 517.70,108.8 518.10,109.7 518.50,111.0 518.90,108.1 519.30,107.1 519.70,109.4 520.10,109.2 520.50,108.0 520.90,106.9 521.30,108.9 521.70,110.7 522.10,111.7 522.50,111.7 522.90,110.4 523.30,111.2 523.70,110.8 524.10,108.3 524.50,110.3 524.90,106.6 525.30,110.4 525.70,109.6 526.10,111.3 526.50,111.0 526.90,112.2 527.30,110.7 527.70,110.8 528.10,110.5 528.50,108.6 528.90,111.4 529.30,108.0 529.70,111.3 530.10,111.8 530.50,110.6 530.90,109.8 531.30,111.8 531.70,108.5 532.10,107.6 532.50,109.6 532.90,109.0 533.30,108.9 533.70,107.7 534.10,111.0 534.50,110.2 534.90,107.0 535.30,108.6 535.70,110.6 536.10,109.5 536.50,109.6 536.90,110.1 537.30,109.4 537.70,106.8 538.10,111.7 538.50,111.0 538.90,111.6 539.30,112.7 539.70,108.5 540.10,109.7 540.50,110.7 540.90,109.2 541.30,111.7 541.70,110.5 542.10,109.9 542.50,109.1 542.90,107.9 543.30,108.9 543.70,108.2 544.10,109.6 544.50,108.9 544.90,109.7 545.30,108.0 545.70,111.0 546.10,109.5 546.50,108.5 546.90,108.6 547.30,108.4 547.70,110.9 548.10,106.1 548.50,110.2 548.90,109.8 549.30,108.8 549.70,107.5 550.10,110.8 550.50,108.9 550.90,110.2 551.30,108.9 551.70,110.8 552.10,108.5 552.50,111.2 552.90,109.9 553.30,105.1 553.70,108.7 554.10,107.4 554.50,110.4 554.90,107.3 555.30,106.2 555.70,109.1 556.10,109.9 556.50,109.1 556.90,105.4 557.30,108.4 557.70,111.7 558.10,106.7 558.50,108.0 558.90,108.0 559.30,109.2 559.70,108.1 560.10,109.6 560.50,106.4 560.90,108.9 561.30,109.6 561.70,110.7 562.10,108.2 562.50,110.9 562.90,110.2 563.30,109.8 563.70,107.6 564.10,108.4 564.50,111.3 564.90,108.9 565.30,105.7 565.70,110.6 566.10,107.3 566.50,107.6 566.90,109.5 567.30,111.4 567.70,111.7 568.10,108.0 568.50,111.6 568.90,109.8 569.30,112.2 569.70,106.5 570.10,108.8 570.50,111.4 570.90,110.4 571.30,109.4 571.70,110.5 572.10,110.2 572.50,112.4 572.90,110.5 573.30,112.6 573.70,114.2 574.10,112.1 574.50,112.4 574.90,112.5 575.30,115.5 575.70,111.3 576.10,114.2 576.50,113.7 576.90,111.4 577.30,112.5 577.70,110.7 578.10,111.1 578.50,112.0 578.90,114.8 579.30,114.3 579.70,115.5 580.10,114.6 580.50,111.1 580.90,114.6 581.30,116.2 581.70,114.4 582.10,118.9 582.50,117.8 582.90,113.6 583.30,113.9 583.70,116.6 584.10,114.2 584.50,110.7 584.90,117.9 585.30,116.2 585.70,114.2 586.10,114.5 586.50,114.0 586.90,117.4 587.30,113.3 587.70,117.3 588.10,120.2 588.50,119.4 588.90,117.8 589.30,119.0 589.70,118.1 590.10,120.6 590.50,120.7 590.90,117.4 591.30,118.6 591.70,122.1 592.10,114.4 592.50,115.4 592.90,118.5 593.30,120.6 593.70,120.1 594.10,116.6 594.50,117.9 594.90,115.3 595.30,120.1 595.70,120.9 596.10,116.0 596.50,119.1 596.90,121.0 597.30,118.3 597.70,119.0 598.10,120.0 598.50,117.3 598.90,119.2 599.30,121.3 599.70,122.4 600.10,120.8 600.50,122.6 600.90,120.4 601.30,122.8 601.70,121.6 602.10,120.5 602.50,118.5 602.90,119.2 603.30,120.0 603.70,122.7 604.10,118.6 604.50,118.9 604.90,114.0 605.30,114.9 605.70,111.4 606.10,111.1 606.50,108.1 606.90,113.4 607.30,94.4 607.70,67.5 608.10,49.1 608.50,49.0 608.90,48.3 609.30,48.2 609.70,50.5 610.10,50.2 610.50,51.0 610.90,48.2 611.30,49.2 611.70,45.6 612.10,52.9 612.50,49.4 612.90,44.4 613.30,51.6 613.70,48.2 614.10,46.7 614.50,50.0 614.90,49.5 615.30,52.6 615.70,50.4 616.10,49.3 616.50,43.7 616.90,51.5 617.30,51.1 617.70,47.1 618.10,48.9 618.50,46.2 618.90,51.2 619.30,53.5 619.70,49.4 620.10,52.6 620.50,44.4 620.90,48.4 621.30,52.5 621.70,51.5 622.10,46.5 622.50,48.1 622.90,47.0" fill="none" stroke="#ff1487" stroke-width="0.45" stroke-linejoin="bevel"/>
<polygon points="424.74,42.3 426.74,38.9 422.74,38.9" fill="#fff" stroke="#ff1487" stroke-width="0.7"/>
<polygon points="433.43,41.96 435.43,38.56 431.43,38.56" fill="#fff" stroke="#ff1487" stroke-width="0.7"/>
<polygon points="442.12,42.77 444.12,39.37 440.12,39.37" fill="#fff" stroke="#ff1487" stroke-width="0.7"/>
<polygon points="450.82,41.81 452.82,38.41 448.82,38.41" fill="#fff" stroke="#ff1487" stroke-width="0.7"/>
<polygon points="459.51,106.47 461.51,103.07 457.51,103.07" fill="#fff" stroke="#ff1487" stroke-width="0.7"/>
<polygon points="468.2,111.86 470.2,108.46 466.2,108.46" fill="#fff" stroke="#ff1487" stroke-width="0.7"/>
<polygon points="476.89,111.94 478.89,108.54 474.89,108.54" fill="#fff" stroke="#ff1487" stroke-width="0.7"/>
<polygon points="485.58,110.66 487.58,107.26 483.58,107.26" fill="#fff" stroke="#ff1487" stroke-width="0.7"/>
<polygon points="494.28,111.6 496.28,108.2 492.28,108.2" fill="#fff" stroke="#ff1487" stroke-width="0.7"/>
<polygon points="502.97,111.29 504.97,107.89 500.97,107.89" fill="#fff" stroke="#ff1487" stroke-width="0.7"/>
<polygon points="511.66,111.44 513.66,108.04 509.66,108.04" fill="#fff" stroke="#ff1487" stroke-width="0.7"/>
<polygon points="520.35,111.71 522.35,108.31 518.35,108.31" fill="#fff" stroke="#ff1487" stroke-width="0.7"/>
<polygon points="529.05,111.83 531.05,108.43 527.05,108.43" fill="#fff" stroke="#ff1487" stroke-width="0.7"/>
<polygon points="537.74,111.25 539.74,107.85 535.74,107.85" fill="#fff" stroke="#ff1487" stroke-width="0.7"/>
<polygon points="546.43,111.27 548.43,107.87 544.43,107.87" fill="#fff" stroke="#ff1487" stroke-width="0.7"/>
<polygon points="555.12,111.29 557.12,107.89 553.12,107.89" fill="#fff" stroke="#ff1487" stroke-width="0.7"/>
<polygon points="563.82,111.89 565.82,108.49 561.82,108.49" fill="#fff" stroke="#ff1487" stroke-width="0.7"/>
<polygon points="572.51,113.36 574.51,109.96 570.51,109.96" fill="#fff" stroke="#ff1487" stroke-width="0.7"/>
<polygon points="581.2,116.35 583.2,112.95 579.2,112.95" fill="#fff" stroke="#ff1487" stroke-width="0.7"/>
<polygon points="589.89,118.22 591.89,114.82 587.89,114.82" fill="#fff" stroke="#ff1487" stroke-width="0.7"/>
<polygon points="598.59,120.56 600.59,117.16 596.59,117.16" fill="#fff" stroke="#ff1487" stroke-width="0.7"/>
<polygon points="607.28,96.79 609.28,93.39 605.28,93.39" fill="#fff" stroke="#ff1487" stroke-width="0.7"/>
<polygon points="615.97,51.9 617.97,48.5 613.97,48.5" fill="#fff" stroke="#ff1487" stroke-width="0.7"/>
<polygon points="566.92,133.07 568.92,129.67 564.92,129.67" fill="#fff" stroke="#ff1487" stroke-width="0.7"/>
<path d="M411.70,40.4 412.10,40.9 412.50,42.1 412.90,42.0 413.30,41.4 413.70,40.3 414.10,40.6 414.50,42.5 414.90,41.4 415.30,42.3 415.70,41.3 416.10,40.4 416.50,41.2 416.90,40.4 417.30,41.7 417.70,42.4 418.10,41.0 418.50,41.1 418.90,40.7 419.30,40.7 419.70,40.5 420.10,40.6 420.50,40.9 420.90,41.4 421.30,40.6 421.70,41.4 422.10,42.5 422.50,41.4 422.90,42.2 423.30,41.7 423.70,41.8 424.10,42.1 424.50,43.4 424.90,42.6 425.30,43.1 425.70,42.9 426.10,42.7 426.50,43.2 426.90,42.5 427.30,44.2 427.70,42.9 428.10,44.6 428.50,42.8 428.90,43.8 429.30,43.3 429.70,43.4 430.10,42.5 430.50,42.6 430.90,41.7 431.30,42.5 431.70,34.8 432.10,42.1 432.50,41.7 432.90,43.0 433.30,43.7 433.70,43.1 434.10,41.9 434.50,42.9 434.90,41.1 435.30,41.1 435.70,35.4 436.10,42.4 436.50,42.1 436.90,41.6 437.30,41.3 437.70,41.2 438.10,41.9 438.50,42.8 438.90,40.7 439.30,42.2 439.70,40.9 440.10,42.1 440.50,41.4 440.90,41.4 441.30,42.6 441.70,42.7 442.10,41.6 442.50,40.0 442.90,42.1 443.30,40.6 443.70,42.9 444.10,43.1 444.50,43.0 444.90,44.2 445.30,43.4 445.70,44.2 446.10,44.7 446.50,43.1 446.90,44.3 447.30,44.1 447.70,42.5 448.10,44.0 448.50,43.8 448.90,43.8 449.30,43.5 449.70,43.5 450.10,44.4 450.50,43.5 450.90,42.7 451.30,45.2 451.70,43.7 452.10,44.8 452.50,44.1 452.90,45.5 453.30,46.5 453.70,46.4 454.10,44.1 454.50,45.1 454.90,44.0 455.30,44.2 455.70,45.2 456.10,43.8 456.50,44.5 456.90,45.2 457.30,45.3 457.70,47.3 458.10,45.8 458.50,90.7 458.90,92.3 459.30,91.4 459.70,93.9 460.10,96.8 460.50,97.3 460.90,97.7 461.30,96.5 461.70,96.5 462.10,95.9 462.50,95.1 462.90,95.4 463.30,96.5 463.70,94.8 464.10,94.8 464.50,93.8 464.90,86.5 465.30,95.5 465.70,96.5 466.10,95.0 466.50,95.9 466.90,97.0 467.30,96.9 467.70,95.1 468.10,95.2 468.50,95.8 468.90,96.9 469.30,96.0 469.70,96.1 470.10,97.5 470.50,95.9 470.90,96.7 471.30,96.6 471.70,97.5 472.10,97.6 472.50,96.9 472.90,97.7 473.30,97.5 473.70,98.2 474.10,97.6 474.50,98.1 474.90,97.9 475.30,98.7 475.70,98.8 476.10,98.3 476.50,97.8 476.90,97.5 477.30,99.0 477.70,97.9 478.10,98.6 478.50,97.1 478.90,91.7 479.30,97.9 479.70,98.0 480.10,98.1 480.50,98.8 480.90,98.2 481.30,98.7 481.70,97.8 482.10,97.0 482.50,97.0 482.90,96.7 483.30,97.6 483.70,97.2 484.10,96.5 484.50,96.5 484.90,97.1 485.30,97.7 485.70,97.4 486.10,98.0 486.50,97.8 486.90,98.6 487.30,98.4 487.70,98.3 488.10,97.0 488.50,97.4 488.90,97.6 489.30,96.6 489.70,96.8 490.10,96.9 490.50,97.4 490.90,96.8 491.30,97.6 491.70,97.5 492.10,97.3 492.50,98.4 492.90,91.4 493.30,97.0 493.70,96.9 494.10,98.3 494.50,97.8 494.90,97.6 495.30,96.8 495.70,96.7 496.10,97.0 496.50,96.8 496.90,97.3 497.30,98.1 497.70,96.3 498.10,97.6 498.50,97.7 498.90,97.1 499.30,97.2 499.70,97.3 500.10,97.1 500.50,98.3 500.90,98.0 501.30,97.8 501.70,97.0 502.10,96.8 502.50,97.2 502.90,97.7 503.30,98.2 503.70,98.3 504.10,97.5 504.50,98.2 504.90,97.5 505.30,98.1 505.70,97.4 506.10,97.3 506.50,96.5 506.90,97.9 507.30,97.7 507.70,97.5 508.10,97.8 508.50,97.4 508.90,97.8 509.30,96.9 509.70,98.9 510.10,97.3 510.50,98.5 510.90,98.0 511.30,97.5 511.70,97.6 512.10,98.5 512.50,97.4 512.90,97.5 513.30,98.4 513.70,98.2 514.10,98.0 514.50,98.0 514.90,98.5 515.30,97.7 515.70,98.1 516.10,98.1 516.50,97.6 516.90,97.9 517.30,97.9 517.70,98.9 518.10,98.2 518.50,97.9 518.90,97.1 519.30,98.2 519.70,98.1 520.10,98.2 520.50,96.6 520.90,98.6 521.30,97.8 521.70,96.6 522.10,97.4 522.50,97.0 522.90,96.8 523.30,95.7 523.70,95.7 524.10,95.0 524.50,95.6 524.90,95.6 525.30,95.3 525.70,95.0 526.10,90.7 526.50,96.2 526.90,97.0 527.30,96.7 527.70,95.9 528.10,96.3 528.50,96.9 528.90,97.9 529.30,96.8 529.70,96.4 530.10,97.4 530.50,96.2 530.90,96.6 531.30,97.3 531.70,96.3 532.10,96.0 532.50,97.2 532.90,97.2 533.30,96.0 533.70,96.2 534.10,95.6 534.50,96.4 534.90,97.0 535.30,97.2 535.70,96.9 536.10,97.5 536.50,96.2 536.90,97.1 537.30,96.1 537.70,95.5 538.10,95.2 538.50,95.9 538.90,95.7 539.30,95.7 539.70,97.0 540.10,96.4 540.50,96.3 540.90,96.7 541.30,96.1 541.70,97.4 542.10,96.2 542.50,95.7 542.90,95.7 543.30,96.0 543.70,92.6 544.10,92.1 544.50,95.9 544.90,96.6 545.30,97.5 545.70,96.6 546.10,96.4 546.50,96.7 546.90,95.9 547.30,96.8 547.70,96.3 548.10,96.8 548.50,97.4 548.90,96.1 549.30,97.3 549.70,96.2 550.10,95.6 550.50,95.0 550.90,96.9 551.30,96.3 551.70,96.4 552.10,96.3 552.50,95.2 552.90,94.9 553.30,94.4 553.70,94.4 554.10,94.4 554.50,94.4 554.90,94.8 555.30,93.9 555.70,94.6 556.10,94.1 556.50,94.6 556.90,93.1 557.30,93.1 557.70,93.4 558.10,94.6 558.50,93.9 558.90,94.9 559.30,94.8 559.70,95.5 560.10,96.1 560.50,95.6 560.90,97.0 561.30,95.2 561.70,95.8 562.10,97.1 562.50,96.8 562.90,98.2 563.30,98.1 563.70,97.0 564.10,98.2 564.50,96.9 564.90,98.1 565.30,98.1 565.70,98.7 566.10,98.4 566.50,94.6 566.90,88.1 567.30,93.5 567.70,97.2 568.10,96.5 568.50,96.6 568.90,96.5 569.30,96.6 569.70,98.7 570.10,98.2 570.50,97.6 570.90,99.0 571.30,97.4 571.70,98.2 572.10,98.8 572.50,97.3 572.90,98.0 573.30,97.2 573.70,96.7 574.10,96.2 574.50,98.3 574.90,99.4 575.30,98.9 575.70,96.5 576.10,97.9 576.50,97.7 576.90,99.0 577.30,99.2 577.70,101.3 578.10,100.6 578.50,100.5 578.90,102.5 579.30,99.6 579.70,100.9 580.10,99.9 580.50,99.8 580.90,101.5 581.30,99.2 581.70,102.0 582.10,99.8 582.50,102.0 582.90,101.5 583.30,99.8 583.70,101.8 584.10,100.0 584.50,100.6 584.90,100.6 585.30,87.3 585.70,98.9 586.10,100.4 586.50,102.3 586.90,104.6 587.30,103.4 587.70,103.7 588.10,101.1 588.50,102.3 588.90,102.7 589.30,100.2 589.70,101.1 590.10,103.3 590.50,101.2 590.90,99.5 591.30,98.1 591.70,100.0 592.10,99.8 592.50,100.1 592.90,100.5 593.30,100.5 593.70,99.2 594.10,99.6 594.50,99.8 594.90,101.7 595.30,91.0 595.70,103.7 596.10,105.2 596.50,102.1 596.90,102.4 597.30,103.3 597.70,102.9 598.10,103.6 598.50,102.9 598.90,104.0 599.30,101.7 599.70,99.7 600.10,100.7 600.50,101.7 600.90,102.0 601.30,102.3 601.70,103.8 602.10,101.6 602.50,101.4 602.90,99.1 603.30,101.0 603.70,96.1 604.10,94.1 604.50,89.6 604.90,86.6 605.30,83.4 605.70,82.5 606.10,81.6 606.50,81.5 606.90,81.7 607.30,77.1 607.70,64.1 608.10,59.1 608.50,59.2 608.90,59.6 609.30,59.5 609.70,59.0 610.10,57.4 610.50,57.1 610.90,57.5 611.30,57.9 611.70,57.9 612.10,58.1 612.50,58.3 612.90,57.1 613.30,58.2 613.70,57.4 614.10,57.1 614.50,56.2 614.90,56.5 615.30,56.8 615.70,57.0 616.10,57.8 616.50,56.9 616.90,57.1 617.30,56.6 617.70,56.5 618.10,56.8 618.50,56.8 618.90,57.6 619.30,57.8 619.70,57.2 620.10,58.1 620.50,58.3 620.90,57.2 621.30,57.3 621.70,57.8 622.10,57.6 622.50,58.0 622.90,57.9 622.90,59.9 622.50,60.2 622.10,61.8 621.70,60.5 621.30,61.6 620.90,60.0 620.50,61.4 620.10,59.7 619.70,60.0 619.30,59.7 618.90,60.2 618.50,59.9 618.10,60.2 617.70,59.4 617.30,59.9 616.90,59.7 616.50,60.6 616.10,60.4 615.70,60.2 615.30,64.6 614.90,60.0 614.50,60.4 614.10,59.8 613.70,60.4 613.30,60.7 612.90,61.2 612.50,61.5 612.10,60.8 611.70,60.9 611.30,61.0 610.90,60.3 610.50,60.8 610.10,60.4 609.70,62.0 609.30,61.3 608.90,62.1 608.50,61.8 608.10,62.1 607.70,68.6 607.30,81.3 606.90,84.9 606.50,85.2 606.10,86.7 605.70,87.2 605.30,88.6 604.90,91.8 604.50,96.7 604.10,100.3 603.70,104.7 603.30,106.4 602.90,106.4 602.50,109.8 602.10,108.4 601.70,108.1 601.30,106.5 600.90,108.2 600.50,106.1 600.10,107.9 599.70,107.7 599.30,108.1 598.90,109.2 598.50,106.6 598.10,107.2 597.70,107.7 597.30,109.0 596.90,108.9 596.50,110.4 596.10,110.2 595.70,110.9 595.30,110.8 594.90,107.9 594.50,107.5 594.10,107.3 593.70,106.5 593.30,105.6 592.90,103.9 592.50,105.7 592.10,103.4 591.70,105.8 591.30,104.7 590.90,107.4 590.50,108.0 590.10,108.9 589.70,108.6 589.30,106.4 588.90,107.6 588.50,109.1 588.10,107.3 587.70,109.2 587.30,108.1 586.90,108.1 586.50,110.1 586.10,109.3 585.70,107.4 585.30,106.2 584.90,108.8 584.50,106.9 584.10,107.2 583.70,107.9 583.30,106.4 582.90,107.1 582.50,108.4 582.10,108.0 581.70,108.6 581.30,106.9 580.90,106.1 580.50,107.1 580.10,105.7 579.70,105.6 579.30,108.0 578.90,105.9 578.50,107.2 578.10,106.5 577.70,105.5 577.30,105.3 576.90,107.3 576.50,103.4 576.10,102.3 575.70,104.6 575.30,103.6 574.90,105.6 574.50,102.4 574.10,101.9 573.70,103.4 573.30,103.4 572.90,104.2 572.50,104.9 572.10,104.5 571.70,102.6 571.30,102.5 570.90,102.0 570.50,103.1 570.10,101.6 569.70,102.5 569.30,100.7 568.90,100.0 568.50,101.0 568.10,101.4 567.70,100.7 567.30,100.4 566.90,101.2 566.50,101.3 566.10,102.0 565.70,101.4 565.30,100.7 564.90,101.9 564.50,101.9 564.10,100.4 563.70,101.7 563.30,100.6 562.90,101.9 562.50,101.4 562.10,100.3 561.70,99.9 561.30,98.9 560.90,99.8 560.50,100.0 560.10,99.3 559.70,99.9 559.30,98.4 558.90,97.6 558.50,98.6 558.10,98.2 557.70,97.7 557.30,96.8 556.90,96.5 556.50,97.5 556.10,98.0 555.70,98.1 555.30,97.2 554.90,102.8 554.50,98.4 554.10,97.4 553.70,97.4 553.30,97.9 552.90,97.8 552.50,98.9 552.10,100.2 551.70,100.4 551.30,99.1 550.90,100.0 550.50,98.4 550.10,99.9 549.70,100.7 549.30,100.7 548.90,101.0 548.50,100.5 548.10,101.2 547.70,100.3 547.30,100.0 546.90,99.4 546.50,99.3 546.10,100.2 545.70,100.3 545.30,99.6 544.90,99.7 544.50,100.7 544.10,101.0 543.70,99.9 543.30,98.7 542.90,99.5 542.50,99.2 542.10,100.1 541.70,99.2 541.30,100.1 540.90,99.6 540.50,99.9 540.10,99.8 539.70,100.1 539.30,100.1 538.90,98.4 538.50,98.8 538.10,99.2 537.70,99.3 537.30,99.9 536.90,100.7 536.50,99.4 536.10,99.4 535.70,101.0 535.30,100.3 534.90,99.6 534.50,100.6 534.10,100.1 533.70,100.2 533.30,100.2 532.90,99.8 532.50,99.7 532.10,100.6 531.70,100.0 531.30,100.7 530.90,101.1 530.50,100.1 530.10,101.3 529.70,100.1 529.30,100.6 528.90,100.5 528.50,99.6 528.10,99.1 527.70,99.4 527.30,100.3 526.90,100.2 526.50,100.5 526.10,98.8 525.70,99.5 525.30,98.8 524.90,98.9 524.50,99.3 524.10,99.4 523.70,98.1 523.30,99.7 522.90,99.2 522.50,99.7 522.10,99.5 521.70,100.8 521.30,100.5 520.90,102.0 520.50,100.8 520.10,101.8 519.70,100.6 519.30,101.0 518.90,101.3 518.50,101.3 518.10,102.1 517.70,102.0 517.30,102.4 516.90,101.7 516.50,101.6 516.10,101.0 515.70,100.2 515.30,100.3 514.90,101.0 514.50,101.1 514.10,101.3 513.70,101.3 513.30,101.2 512.90,101.7 512.50,100.7 512.10,100.7 511.70,100.0 511.30,100.7 510.90,102.1 510.50,100.7 510.10,101.9 509.70,106.4 509.30,101.4 508.90,100.4 508.50,99.9 508.10,100.8 507.70,100.5 507.30,101.2 506.90,100.1 506.50,100.5 506.10,101.0 505.70,102.4 505.30,101.0 504.90,102.2 504.50,100.9 504.10,100.8 503.70,102.0 503.30,102.2 502.90,101.6 502.50,101.2 502.10,100.1 501.70,100.7 501.30,101.8 500.90,100.6 500.50,100.7 500.10,101.6 499.70,100.7 499.30,100.0 498.90,100.3 498.50,100.6 498.10,101.5 497.70,99.8 497.30,100.7 496.90,99.8 496.50,100.9 496.10,99.7 495.70,100.3 495.30,101.2 494.90,100.7 494.50,100.4 494.10,100.3 493.70,100.6 493.30,101.4 492.90,101.7 492.50,100.1 492.10,101.1 491.70,100.5 491.30,107.3 490.90,101.7 490.50,101.9 490.10,100.3 489.70,101.1 489.30,100.5 488.90,101.8 488.50,100.1 488.10,100.7 487.70,101.0 487.30,101.9 486.90,102.2 486.50,101.7 486.10,101.5 485.70,100.2 485.30,101.1 484.90,100.2 484.50,99.2 484.10,100.7 483.70,99.3 483.30,101.3 482.90,100.4 482.50,101.1 482.10,101.1 481.70,102.3 481.30,101.4 480.90,102.1 480.50,101.1 480.10,100.3 479.70,100.4 479.30,100.6 478.90,101.3 478.50,100.7 478.10,100.5 477.70,100.8 477.30,102.2 476.90,101.0 476.50,101.0 476.10,101.9 475.70,101.2 475.30,101.2 474.90,101.9 474.50,100.5 474.10,101.4 473.70,100.5 473.30,100.7 472.90,101.5 472.50,107.8 472.10,100.1 471.70,100.2 471.30,99.5 470.90,100.0 470.50,99.1 470.10,100.5 469.70,99.7 469.30,99.8 468.90,101.1 468.50,101.0 468.10,99.8 467.70,98.7 467.30,100.0 466.90,99.3 466.50,100.0 466.10,99.7 465.70,98.9 465.30,98.6 464.90,99.2 464.50,98.3 464.10,100.9 463.70,99.2 463.30,101.0 462.90,100.6 462.50,101.0 462.10,100.0 461.70,99.6 461.30,101.2 460.90,103.3 460.50,102.8 460.10,103.6 459.70,101.8 459.30,103.6 458.90,101.9 458.50,121.4 458.10,51.5 457.70,51.7 457.30,50.2 456.90,49.5 456.50,50.2 456.10,48.9 455.70,48.4 455.30,49.5 454.90,49.2 454.50,48.7 454.10,50.2 453.70,51.5 453.30,50.3 452.90,49.0 452.50,50.3 452.10,50.3 451.70,49.0 451.30,49.0 450.90,47.2 450.50,47.3 450.10,49.0 449.70,48.2 449.30,49.0 448.90,48.8 448.50,47.4 448.10,47.6 447.70,47.6 447.30,49.6 446.90,49.2 446.50,49.1 446.10,48.0 445.70,46.7 445.30,46.9 444.90,49.0 444.50,49.2 444.10,49.0 443.70,46.2 443.30,46.3 442.90,45.0 442.50,45.0 442.10,47.1 441.70,46.1 441.30,46.7 440.90,47.3 440.50,47.0 440.10,47.6 439.70,46.1 439.30,46.6 438.90,45.2 438.50,47.6 438.10,46.6 437.70,45.1 437.30,45.6 436.90,45.6 436.50,47.5 436.10,47.7 435.70,45.4 435.30,45.1 434.90,47.0 434.50,46.2 434.10,46.7 433.70,47.2 433.30,47.5 432.90,45.6 432.50,46.7 432.10,46.7 431.70,47.2 431.30,46.5 430.90,45.8 430.50,46.4 430.10,46.5 429.70,47.4 429.30,46.7 428.90,48.2 428.50,47.3 428.10,47.9 427.70,46.4 427.30,47.4 426.90,46.6 426.50,46.2 426.10,45.7 425.70,46.5 425.30,45.7 424.90,46.7 424.50,45.4 424.10,46.0 423.70,46.0 423.30,46.0 422.90,46.0 422.50,45.6 422.10,45.1 421.70,45.2 421.30,44.6 420.90,44.7 420.50,45.1 420.10,44.1 419.70,45.0 419.30,43.7 418.90,43.8 418.50,44.6 418.10,44.9 417.70,44.2 417.30,45.1 416.90,43.2 416.50,44.5 416.10,43.5 415.70,44.1 415.30,45.2 414.90,44.7 414.50,44.3 414.10,43.6 413.70,43.7 413.30,43.2 412.90,44.6 412.50,43.7 412.10,44.3 411.70,48.3Z" fill="#148c1e" stroke="#148c1e" stroke-width="0.5" stroke-linejoin="round"/>
<path d="M411.70,40.2 412.10,43.6 412.50,42.2 412.90,43.5 413.30,39.7 413.70,42.6 414.10,44.0 414.50,44.4 414.90,43.9 415.30,43.8 415.70,45.6 416.10,40.3 416.50,43.1 416.90,42.3 417.30,43.4 417.70,43.9 418.10,44.5 418.50,45.0 418.90,40.5 419.30,44.2 419.70,41.4 420.10,43.6 420.50,43.8 420.90,41.8 421.30,42.3 421.70,43.1 422.10,43.6 422.50,43.1 422.90,41.6 423.30,45.4 423.70,44.2 424.10,43.8 424.50,44.0 424.90,46.6 425.30,47.6 425.70,45.1 426.10,44.3 426.50,45.6 426.90,43.0 427.30,43.2 427.70,46.9 428.10,44.6 428.50,41.9 428.90,45.7 429.30,45.9 429.70,45.6 430.10,47.6 430.50,43.7 430.90,44.8 431.30,44.0 431.70,42.3 432.10,41.6 432.50,42.5 432.90,43.0 433.30,41.0 433.70,46.1 434.10,47.3 434.50,46.2 434.90,46.2 435.30,45.0 435.70,44.0 436.10,47.3 436.50,43.5 436.90,42.7 437.30,42.3 437.70,45.3 438.10,44.9 438.50,44.7 438.90,43.9 439.30,45.4 439.70,42.0 440.10,47.3 440.50,46.0 440.90,45.2 441.30,44.5 441.70,47.1 442.10,41.7 442.50,43.8 442.90,47.5 443.30,45.4 443.70,41.2 444.10,50.4 444.50,46.3 444.90,43.2 445.30,47.4 445.70,44.7 446.10,47.9 446.50,49.9 446.90,42.9 447.30,49.9 447.70,50.0 448.10,46.3 448.50,48.3 448.90,43.3 449.30,42.4 449.70,45.4 450.10,49.7 450.50,50.5 450.90,46.6 451.30,43.4 451.70,42.7 452.10,47.3 452.50,48.3 452.90,47.7 453.30,51.5 453.70,50.6 454.10,49.9 454.50,51.5 454.90,44.3 455.30,50.0 455.70,48.8 456.10,42.4 456.50,47.2 456.90,52.2 457.30,47.2 457.70,45.2 458.10,50.3 458.50,95.5 458.90,99.8 459.30,95.6 459.70,99.2 460.10,97.6 460.50,100.8 460.90,100.8 461.30,102.0 461.70,97.9 462.10,94.1 462.50,99.6 462.90,99.4 463.30,97.3 463.70,100.2 464.10,97.2 464.50,100.0 464.90,94.1 465.30,94.7 465.70,96.1 466.10,98.7 466.50,98.0 466.90,98.4 467.30,94.2 467.70,95.7 468.10,101.5 468.50,97.8 468.90,95.9 469.30,100.1 469.70,99.6 470.10,96.2 470.50,100.0 470.90,100.1 471.30,99.0 471.70,95.6 472.10,100.2 472.50,102.7 472.90,100.2 473.30,101.6 473.70,100.6 474.10,95.9 474.50,99.4 474.90,99.9 475.30,99.5 475.70,99.3 476.10,99.6 476.50,99.2 476.90,103.0 477.30,98.5 477.70,98.5 478.10,100.4 478.50,96.4 478.90,100.8 479.30,101.5 479.70,99.2 480.10,98.5 480.50,99.7 480.90,99.3 481.30,99.4 481.70,100.2 482.10,99.2 482.50,100.2 482.90,99.1 483.30,96.1 483.70,99.0 484.10,96.7 484.50,96.2 484.90,96.9 485.30,98.2 485.70,99.2 486.10,99.7 486.50,100.5 486.90,102.3 487.30,99.9 487.70,100.4 488.10,98.4 488.50,98.6 488.90,100.0 489.30,97.2 489.70,98.8 490.10,101.1 490.50,101.2 490.90,99.1 491.30,101.0 491.70,98.7 492.10,100.4 492.50,99.8 492.90,99.4 493.30,100.5 493.70,101.7 494.10,100.5 494.50,96.1 494.90,101.2 495.30,97.1 495.70,96.2 496.10,100.2 496.50,100.6 496.90,101.5 497.30,95.9 497.70,102.0 498.10,97.8 498.50,100.0 498.90,100.3 499.30,98.5 499.70,100.0 500.10,100.3 500.50,101.3 500.90,101.6 501.30,101.5 501.70,99.2 502.10,101.0 502.50,100.0 502.90,100.4 503.30,101.1 503.70,103.1 504.10,101.0 504.50,99.7 504.90,98.0 505.30,99.0 505.70,98.9 506.10,101.5 506.50,99.4 506.90,97.4 507.30,97.8 507.70,99.5 508.10,101.9 508.50,101.6 508.90,102.3 509.30,101.4 509.70,99.1 510.10,99.7 510.50,100.9 510.90,98.3 511.30,100.4 511.70,100.5 512.10,101.5 512.50,99.4 512.90,98.2 513.30,100.9 513.70,98.2 514.10,100.9 514.50,100.0 514.90,101.9 515.30,98.8 515.70,98.3 516.10,100.7 516.50,97.2 516.90,99.6 517.30,98.3 517.70,101.3 518.10,99.1 518.50,98.3 518.90,98.0 519.30,98.1 519.70,95.7 520.10,98.8 520.50,98.6 520.90,100.2 521.30,98.9 521.70,99.1 522.10,98.1 522.50,98.7 522.90,98.6 523.30,97.2 523.70,96.3 524.10,99.8 524.50,97.2 524.90,98.1 525.30,99.4 525.70,96.8 526.10,99.8 526.50,97.4 526.90,96.4 527.30,100.1 527.70,98.1 528.10,94.4 528.50,100.5 528.90,98.7 529.30,99.8 529.70,96.2 530.10,101.3 530.50,99.4 530.90,98.6 531.30,100.0 531.70,100.3 532.10,100.6 532.50,96.5 532.90,97.3 533.30,98.8 533.70,96.5 534.10,98.1 534.50,95.8 534.90,98.2 535.30,98.6 535.70,98.7 536.10,98.2 536.50,98.8 536.90,95.4 537.30,98.3 537.70,100.2 538.10,98.3 538.50,96.6 538.90,98.8 539.30,101.0 539.70,96.4 540.10,99.4 540.50,96.3 540.90,97.2 541.30,101.0 541.70,97.6 542.10,97.8 542.50,95.8 542.90,97.2 543.30,99.3 543.70,100.0 544.10,99.0 544.50,97.0 544.90,100.4 545.30,100.2 545.70,100.6 546.10,98.7 546.50,99.3 546.90,97.4 547.30,97.2 547.70,97.9 548.10,95.6 548.50,100.6 548.90,96.4 549.30,97.3 549.70,100.6 550.10,98.1 550.50,96.9 550.90,96.3 551.30,97.2 551.70,97.2 552.10,100.8 552.50,97.6 552.90,95.8 553.30,95.6 553.70,98.0 554.10,96.5 554.50,94.6 554.90,95.5 555.30,96.3 555.70,95.2 556.10,97.9 556.50,97.0 556.90,96.1 557.30,95.2 557.70,96.1 558.10,93.4 558.50,94.1 558.90,96.3 559.30,98.1 559.70,97.1 560.10,98.4 560.50,96.8 560.90,98.5 561.30,96.9 561.70,97.6 562.10,99.2 562.50,99.6 562.90,98.8 563.30,99.2 563.70,101.1 564.10,101.0 564.50,99.6 564.90,99.0 565.30,98.3 565.70,98.8 566.10,99.5 566.50,99.8 566.90,97.6 567.30,99.7 567.70,97.7 568.10,98.0 568.50,97.9 568.90,98.7 569.30,97.7 569.70,101.8 570.10,99.0 570.50,98.1 570.90,99.7 571.30,104.6 571.70,98.5 572.10,106.0 572.50,99.9 572.90,99.0 573.30,101.0 573.70,100.3 574.10,100.8 574.50,103.0 574.90,101.3 575.30,103.8 575.70,103.2 576.10,99.6 576.50,102.6 576.90,101.2 577.30,105.7 577.70,99.6 578.10,104.7 578.50,103.5 578.90,102.4 579.30,102.7 579.70,102.7 580.10,104.0 580.50,98.2 580.90,105.5 581.30,102.7 581.70,104.2 582.10,103.0 582.50,104.6 582.90,104.3 583.30,104.3 583.70,100.2 584.10,101.9 584.50,107.9 584.90,103.7 585.30,108.7 585.70,98.0 586.10,104.8 586.50,106.5 586.90,103.3 587.30,102.0 587.70,105.2 588.10,104.3 588.50,107.8 588.90,107.6 589.30,108.5 589.70,104.4 590.10,104.0 590.50,100.7 590.90,103.1 591.30,103.4 591.70,100.0 592.10,97.6 592.50,102.5 592.90,96.6 593.30,101.3 593.70,106.1 594.10,103.1 594.50,102.3 594.90,108.7 595.30,111.5 595.70,107.2 596.10,102.0 596.50,104.8 596.90,107.1 597.30,105.6 597.70,104.9 598.10,103.8 598.50,111.2 598.90,109.1 599.30,107.3 599.70,105.2 600.10,105.2 600.50,102.8 600.90,102.2 601.30,103.7 601.70,104.1 602.10,100.5 602.50,103.1 602.90,97.9 603.30,106.6 603.70,98.4 604.10,93.4 604.50,98.0 604.90,88.1 605.30,86.2 605.70,81.0 606.10,83.5 606.50,85.3 606.90,83.1 607.30,81.2 607.70,66.8 608.10,60.9 608.50,60.4 608.90,59.1 609.30,60.7 609.70,60.2 610.10,61.0 610.50,57.8 610.90,58.9 611.30,61.0 611.70,57.1 612.10,57.7 612.50,59.0 612.90,58.1 613.30,58.9 613.70,60.1 614.10,58.2 614.50,60.0 614.90,56.6 615.30,58.4 615.70,57.2 616.10,58.6 616.50,58.8 616.90,57.6 617.30,57.8 617.70,58.1 618.10,58.2 618.50,57.7 618.90,59.3 619.30,59.3 619.70,61.3 620.10,57.9 620.50,58.8 620.90,57.1 621.30,59.1 621.70,57.5 622.10,59.2 622.50,61.9 622.90,60.8" fill="none" stroke="#148c1e" stroke-width="0.45" stroke-linejoin="bevel"/>
<polygon points="419.63,43.2 423.03,41.2 423.03,45.2" fill="#fff" stroke="#148c1e" stroke-width="0.7"/>
<polygon points="428.33,44.29 431.73,42.29 431.73,46.29" fill="#fff" stroke="#148c1e" stroke-width="0.7"/>
<polygon points="437.02,45.75 440.42,43.75 440.42,47.75" fill="#fff" stroke="#148c1e" stroke-width="0.7"/>
<polygon points="445.71,46.83 449.11,44.83 449.11,48.83" fill="#fff" stroke="#148c1e" stroke-width="0.7"/>
<polygon points="454.4,46.13 457.8,44.13 457.8,48.13" fill="#fff" stroke="#148c1e" stroke-width="0.7"/>
<polygon points="463.1,98.34 466.5,96.34 466.5,100.34" fill="#fff" stroke="#148c1e" stroke-width="0.7"/>
<polygon points="471.79,98.94 475.19,96.94 475.19,100.94" fill="#fff" stroke="#148c1e" stroke-width="0.7"/>
<polygon points="480.48,97.91 483.88,95.91 483.88,99.91" fill="#fff" stroke="#148c1e" stroke-width="0.7"/>
<polygon points="489.17,98.77 492.57,96.77 492.57,100.77" fill="#fff" stroke="#148c1e" stroke-width="0.7"/>
<polygon points="497.87,98.94 501.27,96.94 501.27,100.94" fill="#fff" stroke="#148c1e" stroke-width="0.7"/>
<polygon points="506.56,98.23 509.96,96.23 509.96,100.23" fill="#fff" stroke="#148c1e" stroke-width="0.7"/>
<polygon points="515.25,99.17 518.65,97.17 518.65,101.17" fill="#fff" stroke="#148c1e" stroke-width="0.7"/>
<polygon points="523.94,97.94 527.34,95.94 527.34,99.94" fill="#fff" stroke="#148c1e" stroke-width="0.7"/>
<polygon points="532.63,98.83 536.03,96.83 536.03,100.83" fill="#fff" stroke="#148c1e" stroke-width="0.7"/>
<polygon points="541.33,98.35 544.73,96.35 544.73,100.35" fill="#fff" stroke="#148c1e" stroke-width="0.7"/>
<polygon points="550.02,98.57 553.42,96.57 553.42,100.57" fill="#fff" stroke="#148c1e" stroke-width="0.7"/>
<polygon points="558.71,98.24 562.11,96.24 562.11,100.24" fill="#fff" stroke="#148c1e" stroke-width="0.7"/>
<polygon points="567.4,98.39 570.8,96.39 570.8,100.39" fill="#fff" stroke="#148c1e" stroke-width="0.7"/>
<polygon points="576.1,101.13 579.5,99.13 579.5,103.13" fill="#fff" stroke="#148c1e" stroke-width="0.7"/>
<polygon points="584.79,102.45 588.19,100.45 588.19,104.45" fill="#fff" stroke="#148c1e" stroke-width="0.7"/>
<polygon points="593.48,104.79 596.88,102.79 596.88,106.79" fill="#fff" stroke="#148c1e" stroke-width="0.7"/>
<polygon points="602.17,95.79 605.57,93.79 605.57,97.79" fill="#fff" stroke="#148c1e" stroke-width="0.7"/>
<polygon points="610.87,60.16 614.27,58.16 614.27,62.16" fill="#fff" stroke="#148c1e" stroke-width="0.7"/>
<polygon points="619.56,59.12 622.96,57.12 622.96,61.12" fill="#fff" stroke="#148c1e" stroke-width="0.7"/>
<polygon points="564.92,115.97 568.32,113.97 568.32,117.97" fill="#fff" stroke="#148c1e" stroke-width="0.7"/>
</g>
<g clip-path="url(#clipL)">
<path d="M411.70,253.2 412.10,253.5 412.50,253.1 412.90,253.1 413.30,253.5 413.70,253.0 414.10,252.4 414.50,253.1 414.90,252.9 415.30,252.7 415.70,252.3 416.10,253.0 416.50,252.9 416.90,252.6 417.30,252.2 417.70,252.6 418.10,252.6 418.50,252.4 418.90,252.4 419.30,252.1 419.70,252.4 420.10,252.4 420.50,252.5 420.90,252.9 421.30,253.0 421.70,252.9 422.10,253.5 422.50,253.1 422.90,253.3 423.30,253.4 423.70,253.7 424.10,253.6 424.50,254.4 424.90,254.2 425.30,254.1 425.70,253.8 426.10,253.6 426.50,253.9 426.90,254.0 427.30,254.2 427.70,254.3 428.10,253.9 428.50,253.7 428.90,254.0 429.30,254.0 429.70,254.3 430.10,254.3 430.50,254.1 430.90,254.1 431.30,254.4 431.70,253.7 432.10,253.5 432.50,254.0 432.90,254.3 433.30,254.0 433.70,254.6 434.10,254.1 434.50,254.1 434.90,254.4 435.30,254.5 435.70,254.4 436.10,254.5 436.50,254.7 436.90,254.8 437.30,254.8 437.70,254.6 438.10,254.6 438.50,254.3 438.90,254.4 439.30,254.5 439.70,253.9 440.10,254.5 440.50,254.5 440.90,254.8 441.30,254.1 441.70,253.9 442.10,254.3 442.50,254.4 442.90,254.0 443.30,254.4 443.70,254.1 444.10,253.7 444.50,254.1 444.90,253.9 445.30,254.1 445.70,254.1 446.10,254.6 446.50,253.8 446.90,253.7 447.30,253.6 447.70,253.6 448.10,254.1 448.50,254.2 448.90,253.7 449.30,253.8 449.70,253.3 450.10,253.6 450.50,254.0 450.90,253.7 451.30,254.2 451.70,253.9 452.10,254.2 452.50,254.1 452.90,254.2 453.30,254.3 453.70,254.2 454.10,253.8 454.50,254.0 454.90,254.1 455.30,253.8 455.70,253.4 456.10,253.4 456.50,253.0 456.90,253.6 457.30,253.7 457.70,253.6 458.10,253.9 458.50,257.1 458.90,258.9 459.30,261.2 459.70,265.9 460.10,266.7 460.50,266.1 460.90,268.0 461.30,268.6 461.70,269.3 462.10,268.5 462.50,268.2 462.90,268.7 463.30,267.8 463.70,267.5 464.10,268.0 464.50,268.2 464.90,267.9 465.30,268.0 465.70,266.6 466.10,266.2 466.50,267.4 466.90,266.1 467.30,267.2 467.70,267.5 468.10,266.1 468.50,267.0 468.90,266.6 469.30,266.8 469.70,266.4 470.10,265.8 470.50,266.8 470.90,266.5 471.30,266.8 471.70,266.1 472.10,266.0 472.50,266.2 472.90,265.3 473.30,265.5 473.70,265.4 474.10,266.1 474.50,265.0 474.90,265.2 475.30,264.1 475.70,265.4 476.10,265.1 476.50,264.4 476.90,265.7 477.30,265.1 477.70,265.9 478.10,265.3 478.50,264.7 478.90,266.0 479.30,266.9 479.70,266.0 480.10,266.5 480.50,266.8 480.90,265.5 481.30,267.2 481.70,267.5 482.10,266.4 482.50,265.9 482.90,267.0 483.30,266.8 483.70,266.8 484.10,266.2 484.50,266.2 484.90,267.1 485.30,266.3 485.70,266.3 486.10,266.7 486.50,266.1 486.90,267.0 487.30,265.8 487.70,266.7 488.10,266.0 488.50,266.3 488.90,266.1 489.30,266.4 489.70,267.0 490.10,267.1 490.50,266.3 490.90,266.5 491.30,266.7 491.70,266.2 492.10,265.5 492.50,265.1 492.90,266.3 493.30,265.5 493.70,265.6 494.10,265.7 494.50,265.6 494.90,266.0 495.30,265.3 495.70,265.3 496.10,266.1 496.50,265.6 496.90,265.3 497.30,265.4 497.70,265.3 498.10,265.0 498.50,264.6 498.90,264.6 499.30,265.7 499.70,264.6 500.10,264.2 500.50,265.9 500.90,265.6 501.30,265.4 501.70,265.0 502.10,265.5 502.50,265.2 502.90,265.4 503.30,264.4 503.70,265.2 504.10,265.5 504.50,260.0 504.90,265.5 505.30,264.3 505.70,264.7 506.10,264.8 506.50,264.6 506.90,264.0 507.30,264.3 507.70,265.4 508.10,264.9 508.50,265.6 508.90,265.1 509.30,265.3 509.70,266.2 510.10,265.0 510.50,265.2 510.90,265.7 511.30,265.6 511.70,265.7 512.10,265.2 512.50,265.4 512.90,265.5 513.30,264.2 513.70,265.5 514.10,263.7 514.50,265.4 514.90,264.8 515.30,265.0 515.70,264.6 516.10,265.2 516.50,265.7 516.90,265.5 517.30,265.9 517.70,260.7 518.10,264.1 518.50,264.2 518.90,264.3 519.30,264.4 519.70,266.0 520.10,266.0 520.50,265.9 520.90,266.8 521.30,266.3 521.70,266.5 522.10,266.6 522.50,267.1 522.90,266.2 523.30,266.2 523.70,266.7 524.10,267.3 524.50,266.4 524.90,266.0 525.30,265.8 525.70,266.0 526.10,265.9 526.50,266.5 526.90,266.4 527.30,265.9 527.70,267.0 528.10,265.6 528.50,266.2 528.90,265.8 529.30,266.0 529.70,265.9 530.10,266.4 530.50,265.3 530.90,266.0 531.30,266.3 531.70,266.0 532.10,265.9 532.50,265.3 532.90,264.8 533.30,265.4 533.70,264.5 534.10,264.9 534.50,265.6 534.90,264.4 535.30,264.9 535.70,264.5 536.10,265.1 536.50,265.0 536.90,264.4 537.30,265.2 537.70,265.3 538.10,265.4 538.50,265.2 538.90,265.5 539.30,264.4 539.70,265.8 540.10,266.4 540.50,265.9 540.90,266.1 541.30,266.1 541.70,260.5 542.10,264.9 542.50,265.8 542.90,264.5 543.30,265.0 543.70,265.5 544.10,265.6 544.50,265.3 544.90,265.4 545.30,265.9 545.70,266.3 546.10,266.1 546.50,266.6 546.90,266.7 547.30,266.3 547.70,266.7 548.10,267.1 548.50,266.9 548.90,265.8 549.30,266.6 549.70,266.3 550.10,265.3 550.50,266.1 550.90,265.3 551.30,265.7 551.70,265.4 552.10,266.4 552.50,265.1 552.90,265.1 553.30,266.7 553.70,266.5 554.10,266.1 554.50,266.2 554.90,265.2 555.30,266.6 555.70,265.4 556.10,265.4 556.50,265.9 556.90,265.3 557.30,265.9 557.70,266.3 558.10,266.4 558.50,266.7 558.90,266.4 559.30,265.9 559.70,266.9 560.10,265.7 560.50,265.8 560.90,266.0 561.30,266.1 561.70,265.4 562.10,264.8 562.50,266.2 562.90,265.7 563.30,265.6 563.70,266.3 564.10,266.9 564.50,267.3 564.90,266.8 565.30,266.0 565.70,267.0 566.10,266.7 566.50,265.5 566.90,261.4 567.30,264.9 567.70,266.0 568.10,266.1 568.50,266.8 568.90,267.0 569.30,266.6 569.70,266.8 570.10,266.9 570.50,267.2 570.90,266.4 571.30,266.7 571.70,267.1 572.10,266.9 572.50,267.0 572.90,266.1 573.30,267.9 573.70,267.4 574.10,267.8 574.50,267.0 574.90,266.5 575.30,266.1 575.70,265.9 576.10,266.1 576.50,266.4 576.90,266.8 577.30,266.1 577.70,266.4 578.10,267.0 578.50,266.5 578.90,267.1 579.30,266.5 579.70,266.7 580.10,266.1 580.50,266.5 580.90,267.7 581.30,266.8 581.70,267.3 582.10,267.5 582.50,266.4 582.90,266.6 583.30,267.0 583.70,266.6 584.10,267.4 584.50,266.8 584.90,267.1 585.30,267.9 585.70,266.6 586.10,267.7 586.50,268.4 586.90,267.6 587.30,267.6 587.70,267.3 588.10,267.4 588.50,267.3 588.90,267.1 589.30,268.5 589.70,268.9 590.10,268.4 590.50,269.2 590.90,270.5 591.30,270.5 591.70,271.7 592.10,271.9 592.50,271.9 592.90,272.4 593.30,271.8 593.70,272.6 594.10,272.7 594.50,272.7 594.90,274.1 595.30,272.6 595.70,274.4 596.10,274.3 596.50,274.1 596.90,275.3 597.30,274.4 597.70,275.1 598.10,275.0 598.50,276.7 598.90,276.2 599.30,277.1 599.70,277.0 600.10,277.8 600.50,277.9 600.90,278.2 601.30,278.3 601.70,278.6 602.10,280.0 602.50,279.7 602.90,280.3 603.30,281.3 603.70,282.6 604.10,282.3 604.50,283.9 604.90,285.1 605.30,285.6 605.70,287.7 606.10,289.2 606.50,287.2 606.90,282.3 607.30,276.2 607.70,270.7 608.10,265.2 608.50,258.9 608.90,258.4 609.30,258.0 609.70,258.1 610.10,258.1 610.50,258.5 610.90,257.4 611.30,257.7 611.70,257.7 612.10,258.5 612.50,258.4 612.90,258.2 613.30,258.4 613.70,258.5 614.10,257.7 614.50,258.6 614.90,258.9 615.30,258.3 615.70,258.2 616.10,258.1 616.50,258.5 616.90,258.0 617.30,257.9 617.70,258.2 618.10,257.9 618.50,258.1 618.90,257.9 619.30,258.1 619.70,258.6 620.10,258.9 620.50,258.5 620.90,258.8 621.30,258.3 621.70,259.0 622.10,258.8 622.50,258.0 622.90,258.7 622.90,261.2 622.50,260.5 622.10,261.1 621.70,260.5 621.30,260.2 620.90,260.6 620.50,259.9 620.10,260.6 619.70,260.8 619.30,260.2 618.90,261.1 618.50,259.9 618.10,260.0 617.70,260.2 617.30,260.3 616.90,260.0 616.50,260.0 616.10,260.3 615.70,260.5 615.30,260.5 614.90,261.4 614.50,260.2 614.10,260.1 613.70,260.4 613.30,260.6 612.90,261.2 612.50,261.2 612.10,261.1 611.70,260.1 611.30,260.4 610.90,259.7 610.50,260.7 610.10,260.3 609.70,260.3 609.30,260.1 608.90,260.3 608.50,260.8 608.10,267.3 607.70,272.7 607.30,279.0 606.90,284.4 606.50,289.8 606.10,291.4 605.70,289.7 605.30,289.2 604.90,288.0 604.50,286.0 604.10,285.7 603.70,285.2 603.30,283.2 602.90,282.9 602.50,281.9 602.10,282.4 601.70,281.7 601.30,280.7 600.90,281.5 600.50,280.8 600.10,280.2 599.70,280.7 599.30,280.0 598.90,279.9 598.50,278.8 598.10,278.1 597.70,278.8 597.30,278.6 596.90,277.9 596.50,277.8 596.10,277.2 595.70,276.2 595.30,275.5 594.90,276.3 594.50,275.4 594.10,275.1 593.70,275.0 593.30,274.9 592.90,275.0 592.50,274.4 592.10,273.6 591.70,273.4 591.30,273.3 590.90,272.3 590.50,272.3 590.10,271.4 589.70,270.8 589.30,271.3 588.90,271.0 588.50,271.3 588.10,270.6 587.70,269.6 587.30,271.1 586.90,270.6 586.50,270.6 586.10,269.8 585.70,270.7 585.30,271.2 584.90,270.5 584.50,269.8 584.10,270.4 583.70,269.4 583.30,269.1 582.90,269.9 582.50,270.0 582.10,269.3 581.70,270.4 581.30,270.4 580.90,269.7 580.50,270.3 580.10,269.8 579.70,268.8 579.30,269.1 578.90,270.1 578.50,270.1 578.10,270.1 577.70,269.0 577.30,270.1 576.90,268.8 576.50,270.4 576.10,270.0 575.70,269.9 575.30,269.4 574.90,269.0 574.50,269.1 574.10,269.3 573.70,270.5 573.30,270.5 572.90,269.1 572.50,270.1 572.10,269.8 571.70,269.5 571.30,269.6 570.90,270.4 570.50,269.4 570.10,269.7 569.70,269.6 569.30,268.6 568.90,269.3 568.50,268.4 568.10,269.5 567.70,269.5 567.30,269.9 566.90,269.1 566.50,270.5 566.10,269.3 565.70,269.8 565.30,269.4 564.90,270.2 564.50,269.3 564.10,269.2 563.70,269.1 563.30,268.2 562.90,268.0 562.50,268.7 562.10,268.3 561.70,268.3 561.30,268.9 560.90,268.2 560.50,268.0 560.10,268.5 559.70,270.1 559.30,268.4 558.90,269.1 558.50,270.0 558.10,269.5 557.70,268.7 557.30,269.7 556.90,268.4 556.50,268.2 556.10,269.2 555.70,268.9 555.30,269.3 554.90,269.3 554.50,268.6 554.10,268.9 553.70,268.3 553.30,269.2 552.90,269.2 552.50,268.9 552.10,269.1 551.70,268.5 551.30,267.9 550.90,268.8 550.50,268.8 550.10,268.7 549.70,268.1 549.30,269.5 548.90,269.6 548.50,270.1 548.10,270.2 547.70,270.2 547.30,268.6 546.90,268.8 546.50,268.6 546.10,268.2 545.70,269.0 545.30,269.0 544.90,268.4 544.50,269.4 544.10,273.6 543.70,272.3 543.30,268.0 542.90,268.5 542.50,268.5 542.10,268.9 541.70,268.8 541.30,268.5 540.90,268.4 540.50,268.7 540.10,268.2 539.70,268.3 539.30,267.8 538.90,267.5 538.50,267.3 538.10,267.6 537.70,268.0 537.30,267.6 536.90,267.5 536.50,266.8 536.10,267.1 535.70,268.0 535.30,268.5 534.90,267.3 534.50,267.4 534.10,267.5 533.70,267.5 533.30,267.3 532.90,267.5 532.50,268.8 532.10,268.0 531.70,269.0 531.30,269.5 530.90,269.3 530.50,268.2 530.10,269.4 529.70,269.4 529.30,269.1 528.90,269.1 528.50,268.4 528.10,269.3 527.70,269.6 527.30,269.1 526.90,268.9 526.50,272.9 526.10,268.7 525.70,269.6 525.30,270.0 524.90,269.1 524.50,268.5 524.10,270.2 523.70,269.0 523.30,269.7 522.90,268.9 522.50,268.8 522.10,268.4 521.70,268.8 521.30,269.0 520.90,269.7 520.50,269.2 520.10,269.4 519.70,268.4 519.30,268.2 518.90,268.2 518.50,267.3 518.10,267.9 517.70,267.4 517.30,268.7 516.90,267.8 516.50,268.6 516.10,268.0 515.70,268.6 515.30,268.4 514.90,266.9 514.50,267.1 514.10,267.2 513.70,267.8 513.30,267.6 512.90,271.8 512.50,267.4 512.10,267.4 511.70,269.0 511.30,267.8 510.90,269.0 510.50,268.3 510.10,269.2 509.70,268.3 509.30,268.4 508.90,267.1 508.50,268.6 508.10,267.7 507.70,267.9 507.30,267.7 506.90,268.2 506.50,267.8 506.10,268.4 505.70,267.6 505.30,267.9 504.90,267.7 504.50,267.1 504.10,267.1 503.70,268.2 503.30,268.1 502.90,267.7 502.50,266.9 502.10,267.7 501.70,268.2 501.30,267.9 500.90,267.8 500.50,267.9 500.10,268.3 499.70,268.3 499.30,267.1 498.90,267.6 498.50,267.2 498.10,267.4 497.70,267.1 497.30,268.4 496.90,269.1 496.50,267.7 496.10,267.7 495.70,267.4 495.30,267.8 494.90,268.4 494.50,268.2 494.10,268.6 493.70,269.0 493.30,268.1 492.90,267.8 492.50,268.0 492.10,269.5 491.70,268.4 491.30,268.7 490.90,269.1 490.50,268.2 490.10,269.9 489.70,268.6 489.30,269.7 488.90,269.0 488.50,268.9 488.10,269.7 487.70,269.6 487.30,268.8 486.90,270.0 486.50,268.8 486.10,268.9 485.70,269.0 485.30,269.9 484.90,269.1 484.50,268.3 484.10,269.4 483.70,269.8 483.30,269.4 482.90,270.1 482.50,269.1 482.10,268.9 481.70,269.2 481.30,269.9 480.90,268.8 480.50,268.6 480.10,268.5 479.70,268.4 479.30,269.4 478.90,268.9 478.50,268.8 478.10,268.7 477.70,268.3 477.30,267.6 476.90,267.3 476.50,267.9 476.10,266.6 475.70,268.0 475.30,268.1 474.90,268.2 474.50,268.3 474.10,268.0 473.70,268.6 473.30,268.2 472.90,269.1 472.50,269.1 472.10,270.0 471.70,268.6 471.30,269.8 470.90,268.5 470.50,269.5 470.10,268.9 469.70,269.3 469.30,269.7 468.90,268.8 468.50,269.1 468.10,268.9 467.70,269.6 467.30,270.0 466.90,269.6 466.50,269.9 466.10,270.6 465.70,270.3 465.30,270.5 464.90,270.9 464.50,272.0 464.10,270.0 463.70,271.3 463.30,271.3 462.90,271.8 462.50,271.5 462.10,271.8 461.70,272.2 461.30,273.5 460.90,272.6 460.50,272.8 460.10,273.1 459.70,271.3 459.30,269.7 458.90,269.2 458.50,267.5 458.10,255.0 457.70,255.3 457.30,255.0 456.90,255.3 456.50,254.7 456.10,254.9 455.70,255.1 455.30,255.3 454.90,254.9 454.50,255.6 454.10,255.4 453.70,255.6 453.30,255.4 452.90,255.0 452.50,255.3 452.10,255.2 451.70,255.5 451.30,255.1 450.90,255.3 450.50,255.1 450.10,255.1 449.70,255.2 449.30,255.1 448.90,255.6 448.50,255.1 448.10,255.5 447.70,255.3 447.30,255.1 446.90,255.0 446.50,255.6 446.10,255.5 445.70,256.1 445.30,255.5 444.90,255.3 444.50,255.4 444.10,255.6 443.70,256.0 443.30,255.8 442.90,256.0 442.50,256.0 442.10,255.4 441.70,255.7 441.30,256.2 440.90,255.9 440.50,256.0 440.10,255.8 439.70,255.3 439.30,255.5 438.90,256.0 438.50,256.1 438.10,255.9 437.70,255.8 437.30,256.1 436.90,255.7 436.50,256.0 436.10,255.6 435.70,255.8 435.30,255.8 434.90,255.9 434.50,255.6 434.10,255.8 433.70,255.5 433.30,255.9 432.90,255.4 432.50,255.1 432.10,255.5 431.70,255.9 431.30,255.8 430.90,256.0 430.50,255.4 430.10,255.8 429.70,255.3 429.30,255.1 428.90,255.5 428.50,255.2 428.10,255.2 427.70,255.0 427.30,255.6 426.90,255.0 426.50,254.9 426.10,255.6 425.70,255.3 425.30,255.5 424.90,255.6 424.50,255.7 424.10,255.5 423.70,255.3 423.30,255.1 422.90,255.2 422.50,254.6 422.10,254.6 421.70,254.1 421.30,254.6 420.90,254.1 420.50,253.8 420.10,253.4 419.70,253.8 419.30,254.2 418.90,253.4 418.50,253.8 418.10,253.9 417.70,254.1 417.30,254.0 416.90,254.3 416.50,254.1 416.10,254.3 415.70,254.2 415.30,253.8 414.90,253.7 414.50,254.4 414.10,254.3 413.70,254.5 413.30,254.6 412.90,254.3 412.50,254.4 412.10,255.0 411.70,255.0Z" fill="#000000" stroke="#000000" stroke-width="0.5" stroke-linejoin="round"/>
<path d="M411.70,254.1 412.10,254.4 412.50,252.5 412.90,254.6 413.30,253.4 413.70,253.6 414.10,254.1 414.50,253.0 414.90,252.6 415.30,252.7 415.70,254.4 416.10,253.8 416.50,254.1 416.90,253.0 417.30,253.1 417.70,253.8 418.10,253.4 418.50,253.0 418.90,251.9 419.30,253.1 419.70,252.8 420.10,253.3 420.50,253.1 420.90,254.7 421.30,252.6 421.70,255.2 422.10,253.5 422.50,253.7 422.90,254.2 423.30,253.4 423.70,255.0 424.10,254.4 424.50,255.4 424.90,254.5 425.30,255.7 425.70,254.3 426.10,254.2 426.50,253.9 426.90,254.9 427.30,255.1 427.70,254.8 428.10,255.0 428.50,256.0 428.90,253.9 429.30,255.5 429.70,254.7 430.10,254.9 430.50,254.9 430.90,254.4 431.30,254.2 431.70,254.3 432.10,255.4 432.50,254.9 432.90,254.9 433.30,254.3 433.70,255.3 434.10,255.5 434.50,253.8 434.90,255.8 435.30,254.6 435.70,253.7 436.10,254.8 436.50,255.1 436.90,255.3 437.30,255.8 437.70,255.3 438.10,254.8 438.50,255.1 438.90,254.6 439.30,255.0 439.70,254.7 440.10,253.6 440.50,256.4 440.90,255.0 441.30,255.0 441.70,254.8 442.10,254.2 442.50,255.7 442.90,254.2 443.30,254.3 443.70,254.7 444.10,253.8 444.50,255.7 444.90,253.8 445.30,253.8 445.70,255.6 446.10,255.8 446.50,254.0 446.90,254.0 447.30,255.2 447.70,254.5 448.10,254.9 448.50,254.8 448.90,254.6 449.30,254.1 449.70,253.6 450.10,255.6 450.50,254.3 450.90,253.1 451.30,253.6 451.70,254.4 452.10,253.2 452.50,255.1 452.90,254.3 453.30,253.8 453.70,254.0 454.10,253.7 454.50,254.1 454.90,254.4 455.30,255.5 455.70,255.2 456.10,254.5 456.50,253.8 456.90,254.0 457.30,254.7 457.70,254.7 458.10,254.1 458.50,265.6 458.90,266.1 459.30,269.8 459.70,264.2 460.10,265.7 460.50,265.6 460.90,268.0 461.30,272.6 461.70,270.8 462.10,272.5 462.50,273.3 462.90,272.6 463.30,268.6 463.70,268.0 464.10,266.4 464.50,269.9 464.90,267.6 465.30,267.9 465.70,270.2 466.10,270.7 466.50,266.8 466.90,268.1 467.30,269.4 467.70,267.7 468.10,268.5 468.50,267.9 468.90,265.3 469.30,269.4 469.70,268.4 470.10,268.0 470.50,268.1 470.90,269.8 471.30,267.8 471.70,269.3 472.10,266.3 472.50,269.1 472.90,267.9 473.30,267.2 473.70,266.7 474.10,266.1 474.50,268.4 474.90,267.2 475.30,267.1 475.70,266.4 476.10,265.4 476.50,266.2 476.90,267.6 477.30,266.9 477.70,266.3 478.10,265.3 478.50,266.1 478.90,266.4 479.30,265.6 479.70,269.0 480.10,267.1 480.50,265.0 480.90,267.4 481.30,269.1 481.70,269.4 482.10,268.9 482.50,266.6 482.90,267.8 483.30,267.8 483.70,270.5 484.10,265.5 484.50,269.1 484.90,268.4 485.30,269.8 485.70,268.8 486.10,268.6 486.50,267.9 486.90,267.9 487.30,266.2 487.70,266.9 488.10,266.5 488.50,267.2 488.90,268.9 489.30,266.6 489.70,268.1 490.10,267.5 490.50,269.4 490.90,267.9 491.30,266.1 491.70,267.4 492.10,268.6 492.50,268.1 492.90,264.6 493.30,265.8 493.70,267.9 494.10,265.4 494.50,266.3 494.90,268.9 495.30,265.3 495.70,266.4 496.10,267.9 496.50,265.9 496.90,269.2 497.30,267.9 497.70,267.1 498.10,266.6 498.50,267.9 498.90,267.7 499.30,265.8 499.70,266.5 500.10,266.8 500.50,267.2 500.90,267.7 501.30,267.4 501.70,268.4 502.10,266.1 502.50,265.5 502.90,264.5 503.30,264.7 503.70,265.4 504.10,266.8 504.50,266.4 504.90,264.2 505.30,268.0 505.70,268.0 506.10,267.4 506.50,266.3 506.90,263.7 507.30,267.2 507.70,265.2 508.10,266.9 508.50,267.2 508.90,266.7 509.30,264.3 509.70,267.1 510.10,268.6 510.50,264.7 510.90,267.4 511.30,266.1 511.70,265.6 512.10,266.0 512.50,267.4 512.90,265.0 513.30,265.5 513.70,265.4 514.10,264.1 514.50,268.7 514.90,265.7 515.30,264.8 515.70,266.2 516.10,267.2 516.50,266.4 516.90,265.9 517.30,266.2 517.70,267.3 518.10,268.6 518.50,266.4 518.90,268.1 519.30,267.9 519.70,267.4 520.10,267.2 520.50,267.7 520.90,267.7 521.30,268.8 521.70,268.7 522.10,265.1 522.50,269.5 522.90,270.2 523.30,269.7 523.70,267.8 524.10,268.1 524.50,267.3 524.90,269.0 525.30,266.1 525.70,265.3 526.10,269.0 526.50,267.8 526.90,268.3 527.30,267.9 527.70,267.5 528.10,266.4 528.50,268.5 528.90,266.8 529.30,268.8 529.70,269.0 530.10,267.6 530.50,267.1 530.90,264.6 531.30,266.5 531.70,266.6 532.10,266.7 532.50,266.8 532.90,268.3 533.30,265.9 533.70,267.6 534.10,266.3 534.50,266.3 534.90,264.8 535.30,265.3 535.70,267.3 536.10,264.0 536.50,265.7 536.90,263.1 537.30,266.5 537.70,267.3 538.10,266.3 538.50,266.7 538.90,266.2 539.30,266.7 539.70,266.0 540.10,267.0 540.50,266.8 540.90,265.3 541.30,265.3 541.70,265.7 542.10,269.4 542.50,265.2 542.90,265.8 543.30,265.6 543.70,266.4 544.10,266.4 544.50,267.1 544.90,267.7 545.30,267.4 545.70,268.9 546.10,265.1 546.50,267.7 546.90,268.5 547.30,266.6 547.70,269.1 548.10,266.1 548.50,268.9 548.90,266.3 549.30,267.7 549.70,267.9 550.10,269.7 550.50,266.1 550.90,267.1 551.30,267.2 551.70,264.8 552.10,266.5 552.50,268.6 552.90,264.2 553.30,265.8 553.70,267.7 554.10,268.5 554.50,267.1 554.90,265.6 555.30,267.3 555.70,269.7 556.10,268.2 556.50,268.6 556.90,269.2 557.30,268.8 557.70,267.3 558.10,270.1 558.50,270.6 558.90,269.1 559.30,267.9 559.70,267.6 560.10,264.9 560.50,269.6 560.90,269.3 561.30,266.8 561.70,265.0 562.10,268.4 562.50,266.4 562.90,264.5 563.30,265.3 563.70,266.3 564.10,267.5 564.50,265.5 564.90,269.1 565.30,266.9 565.70,270.2 566.10,266.9 566.50,268.0 566.90,268.1 567.30,269.4 567.70,266.7 568.10,268.8 568.50,269.0 568.90,269.5 569.30,268.1 569.70,266.6 570.10,270.1 570.50,268.3 570.90,267.9 571.30,265.8 571.70,268.7 572.10,266.7 572.50,270.6 572.90,268.9 573.30,271.2 573.70,271.1 574.10,268.2 574.50,270.5 574.90,267.3 575.30,268.7 575.70,268.7 576.10,269.5 576.50,266.9 576.90,270.4 577.30,266.5 577.70,271.1 578.10,269.5 578.50,266.6 578.90,269.7 579.30,268.3 579.70,265.4 580.10,270.3 580.50,270.8 580.90,269.2 581.30,269.3 581.70,268.2 582.10,268.8 582.50,270.2 582.90,267.6 583.30,267.5 583.70,270.3 584.10,268.0 584.50,271.2 584.90,270.1 585.30,268.2 585.70,269.3 586.10,269.9 586.50,270.6 586.90,269.4 587.30,268.0 587.70,271.4 588.10,270.1 588.50,267.5 588.90,269.8 589.30,267.3 589.70,268.7 590.10,269.1 590.50,268.7 590.90,270.0 591.30,271.3 591.70,273.3 592.10,275.3 592.50,275.2 592.90,274.1 593.30,272.9 593.70,271.9 594.10,274.8 594.50,272.7 594.90,275.5 595.30,275.7 595.70,274.1 596.10,273.5 596.50,277.5 596.90,276.9 597.30,277.8 597.70,278.6 598.10,277.2 598.50,276.2 598.90,275.7 599.30,281.7 599.70,278.9 600.10,279.9 600.50,277.7 600.90,277.8 601.30,281.9 601.70,279.1 602.10,279.8 602.50,279.5 602.90,283.2 603.30,282.8 603.70,285.1 604.10,286.0 604.50,283.4 604.90,289.0 605.30,286.7 605.70,289.2 606.10,291.2 606.50,288.0 606.90,284.4 607.30,276.3 607.70,272.2 608.10,265.6 608.50,258.6 608.90,258.8 609.30,258.6 609.70,260.6 610.10,259.3 610.50,258.5 610.90,258.3 611.30,259.6 611.70,259.6 612.10,259.6 612.50,260.9 612.90,258.9 613.30,260.8 613.70,260.5 614.10,259.9 614.50,257.8 614.90,258.2 615.30,260.3 615.70,261.0 616.10,258.7 616.50,259.3 616.90,260.5 617.30,260.2 617.70,257.4 618.10,258.6 618.50,260.1 618.90,259.4 619.30,260.1 619.70,257.4 620.10,260.8 620.50,259.7 620.90,258.2 621.30,257.1 621.70,259.6 622.10,261.2 622.50,258.5 622.90,259.1" fill="none" stroke="#000000" stroke-width="0.45" stroke-linejoin="bevel"/>
<circle cx="417.91" cy="254.4" r="2" fill="#fff" stroke="#000000" stroke-width="0.7"/>
<circle cx="426.6" cy="254.39" r="2" fill="#fff" stroke="#000000" stroke-width="0.7"/>
<circle cx="435.29" cy="254.42" r="2" fill="#fff" stroke="#000000" stroke-width="0.7"/>
<circle cx="443.99" cy="254.6" r="2" fill="#fff" stroke="#000000" stroke-width="0.7"/>
<circle cx="452.68" cy="254.8" r="2" fill="#fff" stroke="#000000" stroke-width="0.7"/>
<circle cx="461.37" cy="270.54" r="2" fill="#fff" stroke="#000000" stroke-width="0.7"/>
<circle cx="470.06" cy="268.07" r="2" fill="#fff" stroke="#000000" stroke-width="0.7"/>
<circle cx="478.76" cy="266.93" r="2" fill="#fff" stroke="#000000" stroke-width="0.7"/>
<circle cx="487.45" cy="267.07" r="2" fill="#fff" stroke="#000000" stroke-width="0.7"/>
<circle cx="496.14" cy="266.84" r="2" fill="#fff" stroke="#000000" stroke-width="0.7"/>
<circle cx="504.83" cy="266.89" r="2" fill="#fff" stroke="#000000" stroke-width="0.7"/>
<circle cx="513.52" cy="267.44" r="2" fill="#fff" stroke="#000000" stroke-width="0.7"/>
<circle cx="522.22" cy="267.46" r="2" fill="#fff" stroke="#000000" stroke-width="0.7"/>
<circle cx="530.91" cy="267.44" r="2" fill="#fff" stroke="#000000" stroke-width="0.7"/>
<circle cx="539.6" cy="267.37" r="2" fill="#fff" stroke="#000000" stroke-width="0.7"/>
<circle cx="548.29" cy="267.34" r="2" fill="#fff" stroke="#000000" stroke-width="0.7"/>
<circle cx="556.99" cy="267.89" r="2" fill="#fff" stroke="#000000" stroke-width="0.7"/>
<circle cx="565.68" cy="267.6" r="2" fill="#fff" stroke="#000000" stroke-width="0.7"/>
<circle cx="574.37" cy="267.9" r="2" fill="#fff" stroke="#000000" stroke-width="0.7"/>
<circle cx="583.06" cy="268.33" r="2" fill="#fff" stroke="#000000" stroke-width="0.7"/>
<circle cx="591.76" cy="271.53" r="2" fill="#fff" stroke="#000000" stroke-width="0.7"/>
<circle cx="600.45" cy="278.35" r="2" fill="#fff" stroke="#000000" stroke-width="0.7"/>
<circle cx="609.14" cy="259.85" r="2" fill="#fff" stroke="#000000" stroke-width="0.7"/>
<circle cx="617.83" cy="259.44" r="2" fill="#fff" stroke="#000000" stroke-width="0.7"/>
<path d="M411.70,249.8 412.10,249.6 412.50,250.2 412.90,249.5 413.30,249.3 413.70,249.2 414.10,249.6 414.50,249.3 414.90,249.2 415.30,249.4 415.70,248.9 416.10,248.6 416.50,248.9 416.90,249.0 417.30,245.6 417.70,248.7 418.10,249.0 418.50,248.9 418.90,248.4 419.30,248.6 419.70,249.6 420.10,249.5 420.50,249.5 420.90,249.1 421.30,249.7 421.70,248.9 422.10,249.4 422.50,249.6 422.90,250.0 423.30,250.4 423.70,249.8 424.10,250.0 424.50,250.2 424.90,249.9 425.30,250.2 425.70,250.1 426.10,249.9 426.50,250.1 426.90,250.3 427.30,250.2 427.70,250.1 428.10,249.5 428.50,249.2 428.90,249.2 429.30,249.0 429.70,248.8 430.10,249.3 430.50,248.8 430.90,249.2 431.30,248.4 431.70,248.6 432.10,248.7 432.50,248.5 432.90,248.6 433.30,248.5 433.70,248.9 434.10,249.2 434.50,248.8 434.90,249.2 435.30,249.2 435.70,249.6 436.10,248.9 436.50,249.1 436.90,250.1 437.30,250.3 437.70,250.5 438.10,250.7 438.50,250.5 438.90,249.9 439.30,249.7 439.70,249.9 440.10,250.2 440.50,250.7 440.90,250.6 441.30,250.0 441.70,250.1 442.10,250.6 442.50,250.7 442.90,250.9 443.30,251.5 443.70,250.9 444.10,250.6 444.50,250.3 444.90,250.7 445.30,250.7 445.70,250.7 446.10,250.1 446.50,250.6 446.90,250.3 447.30,250.5 447.70,249.6 448.10,249.9 448.50,250.5 448.90,249.7 449.30,250.8 449.70,250.6 450.10,250.2 450.50,251.2 450.90,251.3 451.30,251.6 451.70,250.5 452.10,250.8 452.50,249.9 452.90,250.3 453.30,251.2 453.70,250.6 454.10,250.5 454.50,250.3 454.90,250.5 455.30,250.8 455.70,250.1 456.10,249.9 456.50,250.4 456.90,250.5 457.30,250.2 457.70,250.1 458.10,250.3 458.50,243.9 458.90,246.0 459.30,247.1 459.70,231.7 460.10,246.7 460.50,247.1 460.90,248.1 461.30,247.6 461.70,248.0 462.10,248.1 462.50,249.3 462.90,246.9 463.30,247.9 463.70,247.8 464.10,247.2 464.50,246.7 464.90,247.2 465.30,246.8 465.70,246.8 466.10,248.3 466.50,247.6 466.90,248.6 467.30,248.0 467.70,247.1 468.10,245.7 468.50,246.1 468.90,247.5 469.30,245.9 469.70,246.9 470.10,246.3 470.50,245.8 470.90,245.0 471.30,246.6 471.70,246.3 472.10,245.4 472.50,246.5 472.90,247.1 473.30,247.7 473.70,247.6 474.10,249.2 474.50,249.3 474.90,248.1 475.30,249.8 475.70,248.9 476.10,249.0 476.50,248.6 476.90,249.7 477.30,249.0 477.70,250.2 478.10,248.6 478.50,249.1 478.90,248.9 479.30,249.1 479.70,249.2 480.10,248.6 480.50,250.2 480.90,250.1 481.30,249.3 481.70,250.1 482.10,249.2 482.50,247.8 482.90,247.7 483.30,249.8 483.70,248.9 484.10,250.0 484.50,249.7 484.90,248.3 485.30,248.8 485.70,249.5 486.10,248.8 486.50,248.0 486.90,248.5 487.30,248.8 487.70,248.7 488.10,248.7 488.50,249.1 488.90,249.3 489.30,249.0 489.70,248.2 490.10,248.1 490.50,247.7 490.90,249.4 491.30,249.0 491.70,248.9 492.10,249.7 492.50,249.8 492.90,250.3 493.30,249.1 493.70,249.3 494.10,248.7 494.50,249.4 494.90,249.0 495.30,248.5 495.70,248.0 496.10,247.8 496.50,248.1 496.90,249.3 497.30,249.7 497.70,249.0 498.10,248.7 498.50,248.6 498.90,247.1 499.30,247.4 499.70,249.3 500.10,247.8 500.50,248.0 500.90,249.7 501.30,249.8 501.70,248.9 502.10,249.1 502.50,249.7 502.90,249.3 503.30,249.1 503.70,249.1 504.10,249.7 504.50,248.6 504.90,248.0 505.30,247.3 505.70,248.3 506.10,248.8 506.50,248.6 506.90,247.9 507.30,247.9 507.70,247.1 508.10,247.0 508.50,247.4 508.90,247.9 509.30,246.6 509.70,247.1 510.10,247.2 510.50,247.7 510.90,247.2 511.30,248.0 511.70,246.8 512.10,248.8 512.50,249.2 512.90,248.9 513.30,249.1 513.70,248.2 514.10,248.3 514.50,249.5 514.90,248.8 515.30,248.9 515.70,248.8 516.10,248.7 516.50,248.6 516.90,249.3 517.30,248.1 517.70,249.8 518.10,249.3 518.50,250.0 518.90,250.0 519.30,248.9 519.70,250.2 520.10,249.8 520.50,248.9 520.90,249.2 521.30,248.7 521.70,249.7 522.10,248.8 522.50,248.8 522.90,249.4 523.30,249.8 523.70,249.7 524.10,249.0 524.50,249.8 524.90,248.9 525.30,249.2 525.70,249.5 526.10,249.8 526.50,250.4 526.90,250.5 527.30,250.1 527.70,250.1 528.10,251.9 528.50,250.0 528.90,251.7 529.30,249.6 529.70,251.0 530.10,250.0 530.50,251.3 530.90,249.5 531.30,250.0 531.70,250.6 532.10,249.8 532.50,249.4 532.90,249.9 533.30,251.1 533.70,249.9 534.10,250.0 534.50,250.4 534.90,251.0 535.30,250.4 535.70,250.6 536.10,249.6 536.50,249.8 536.90,250.0 537.30,249.7 537.70,249.7 538.10,251.5 538.50,250.5 538.90,251.2 539.30,249.4 539.70,250.3 540.10,250.6 540.50,250.4 540.90,249.3 541.30,249.3 541.70,249.0 542.10,248.5 542.50,249.0 542.90,249.9 543.30,248.7 543.70,250.2 544.10,250.9 544.50,249.6 544.90,249.7 545.30,251.0 545.70,249.7 546.10,250.5 546.50,251.1 546.90,251.2 547.30,250.1 547.70,249.5 548.10,249.5 548.50,250.6 548.90,251.2 549.30,251.3 549.70,251.3 550.10,250.8 550.50,249.5 550.90,249.7 551.30,250.4 551.70,250.8 552.10,250.2 552.50,250.1 552.90,250.4 553.30,249.6 553.70,250.4 554.10,250.8 554.50,251.6 554.90,250.3 555.30,249.9 555.70,250.5 556.10,249.9 556.50,250.9 556.90,250.4 557.30,250.9 557.70,249.8 558.10,251.1 558.50,250.2 558.90,250.9 559.30,250.3 559.70,250.9 560.10,249.5 560.50,249.3 560.90,251.2 561.30,250.9 561.70,251.0 562.10,249.5 562.50,250.8 562.90,250.9 563.30,251.0 563.70,250.5 564.10,250.0 564.50,249.6 564.90,251.7 565.30,250.8 565.70,252.3 566.10,251.0 566.50,250.5 566.90,246.8 567.30,250.1 567.70,250.8 568.10,250.6 568.50,251.0 568.90,251.4 569.30,250.4 569.70,251.0 570.10,251.2 570.50,251.1 570.90,252.2 571.30,251.6 571.70,251.6 572.10,253.1 572.50,251.1 572.90,252.6 573.30,252.8 573.70,252.4 574.10,251.3 574.50,251.0 574.90,252.0 575.30,251.5 575.70,250.6 576.10,251.3 576.50,252.4 576.90,250.2 577.30,251.3 577.70,251.3 578.10,251.2 578.50,250.4 578.90,251.1 579.30,243.4 579.70,249.4 580.10,250.3 580.50,248.0 580.90,249.7 581.30,248.2 581.70,249.6 582.10,250.2 582.50,248.0 582.90,248.2 583.30,248.0 583.70,247.6 584.10,247.7 584.50,246.8 584.90,247.0 585.30,247.3 585.70,248.3 586.10,249.3 586.50,250.6 586.90,250.0 587.30,252.0 587.70,251.3 588.10,251.8 588.50,252.5 588.90,251.0 589.30,251.1 589.70,251.4 590.10,252.3 590.50,251.7 590.90,251.4 591.30,253.4 591.70,253.0 592.10,251.9 592.50,253.7 592.90,255.0 593.30,256.2 593.70,254.6 594.10,254.5 594.50,255.9 594.90,254.4 595.30,256.2 595.70,254.6 596.10,255.1 596.50,255.8 596.90,256.6 597.30,256.2 597.70,257.1 598.10,255.5 598.50,256.3 598.90,256.5 599.30,257.1 599.70,258.0 600.10,258.3 600.50,258.7 600.90,259.2 601.30,258.9 601.70,260.5 602.10,260.4 602.50,259.7 602.90,261.5 603.30,263.3 603.70,263.2 604.10,266.4 604.50,267.0 604.90,269.4 605.30,271.4 605.70,275.2 606.10,280.8 606.50,281.8 606.90,277.9 607.30,273.2 607.70,268.1 608.10,263.0 608.50,258.6 608.90,257.9 609.30,258.6 609.70,257.9 610.10,258.4 610.50,258.6 610.90,258.7 611.30,258.4 611.70,258.5 612.10,258.7 612.50,258.0 612.90,258.1 613.30,258.5 613.70,258.8 614.10,257.6 614.50,257.9 614.90,257.6 615.30,257.7 615.70,257.2 616.10,257.2 616.50,257.5 616.90,256.9 617.30,257.6 617.70,257.1 618.10,257.3 618.50,257.6 618.90,257.7 619.30,257.5 619.70,257.2 620.10,258.6 620.50,257.8 620.90,258.5 621.30,259.1 621.70,258.5 622.10,259.1 622.50,258.5 622.90,257.9 622.90,260.9 622.50,260.4 622.10,261.4 621.70,260.4 621.30,260.8 620.90,260.1 620.50,260.3 620.10,260.5 619.70,259.9 619.30,259.9 618.90,260.1 618.50,259.8 618.10,259.8 617.70,259.2 617.30,259.9 616.90,259.5 616.50,259.1 616.10,259.5 615.70,259.4 615.30,259.5 614.90,259.5 614.50,259.5 614.10,260.7 613.70,260.2 613.30,260.2 612.90,259.9 612.50,260.4 612.10,261.3 611.70,260.9 611.30,260.5 610.90,260.5 610.50,260.7 610.10,260.4 609.70,261.0 609.30,259.8 608.90,260.6 608.50,260.1 608.10,265.1 607.70,270.6 607.30,275.5 606.90,279.9 606.50,285.7 606.10,284.9 605.70,279.0 605.30,276.0 604.90,274.9 604.50,271.0 604.10,270.6 603.70,267.8 603.30,267.0 602.90,266.1 602.50,264.0 602.10,264.6 601.70,263.8 601.30,263.1 600.90,264.2 600.50,264.2 600.10,262.7 599.70,261.3 599.30,261.8 598.90,262.1 598.50,261.3 598.10,262.2 597.70,261.1 597.30,261.4 596.90,259.9 596.50,260.3 596.10,261.5 595.70,261.3 595.30,260.8 594.90,260.6 594.50,259.7 594.10,259.9 593.70,258.7 593.30,259.7 592.90,258.5 592.50,257.7 592.10,258.2 591.70,256.4 591.30,257.9 590.90,257.9 590.50,256.8 590.10,258.0 589.70,257.3 589.30,257.2 588.90,255.4 588.50,255.9 588.10,256.7 587.70,256.5 587.30,255.8 586.90,256.2 586.50,253.1 586.10,253.1 585.70,253.5 585.30,253.0 584.90,252.1 584.50,252.5 584.10,252.2 583.70,252.3 583.30,252.3 582.90,252.9 582.50,253.1 582.10,252.6 581.70,254.3 581.30,254.2 580.90,253.6 580.50,254.3 580.10,255.6 579.70,253.0 579.30,254.6 578.90,255.1 578.50,254.2 578.10,255.7 577.70,254.9 577.30,255.8 576.90,256.2 576.50,257.1 576.10,256.5 575.70,257.1 575.30,255.9 574.90,256.7 574.50,257.4 574.10,256.0 573.70,257.6 573.30,257.3 572.90,256.8 572.50,255.3 572.10,256.3 571.70,256.6 571.30,255.5 570.90,255.5 570.50,255.3 570.10,255.2 569.70,254.4 569.30,254.1 568.90,255.6 568.50,254.3 568.10,255.0 567.70,255.8 567.30,254.8 566.90,255.7 566.50,254.4 566.10,255.9 565.70,255.8 565.30,254.4 564.90,253.9 564.50,253.0 564.10,254.4 563.70,255.1 563.30,254.6 562.90,253.6 562.50,254.2 562.10,254.4 561.70,254.0 561.30,253.8 560.90,253.3 560.50,253.8 560.10,252.9 559.70,253.7 559.30,254.0 558.90,253.7 558.50,253.9 558.10,254.8 557.70,253.5 557.30,253.2 556.90,254.7 556.50,252.8 556.10,252.9 555.70,254.3 555.30,254.6 554.90,253.6 554.50,253.8 554.10,254.8 553.70,253.8 553.30,254.3 552.90,253.9 552.50,254.2 552.10,253.1 551.70,253.7 551.30,253.2 550.90,254.2 550.50,253.3 550.10,253.8 549.70,253.9 549.30,254.6 548.90,254.0 548.50,252.6 548.10,252.9 547.70,253.7 547.30,253.7 546.90,253.3 546.50,253.6 546.10,253.3 545.70,252.8 545.30,254.2 544.90,254.3 544.50,254.2 544.10,258.5 543.70,257.2 543.30,252.3 542.90,252.4 542.50,253.1 542.10,252.9 541.70,253.3 541.30,254.0 540.90,253.6 540.50,252.5 540.10,252.8 539.70,253.7 539.30,253.6 538.90,253.7 538.50,253.8 538.10,254.5 537.70,254.4 537.30,254.6 536.90,254.5 536.50,253.2 536.10,253.9 535.70,254.2 535.30,253.7 534.90,254.7 534.50,253.8 534.10,254.1 533.70,253.3 533.30,254.4 532.90,254.4 532.50,252.7 532.10,252.7 531.70,253.4 531.30,253.3 530.90,252.8 530.50,253.1 530.10,254.6 529.70,255.2 529.30,253.4 528.90,254.2 528.50,255.1 528.10,254.3 527.70,254.5 527.30,253.3 526.90,253.9 526.50,254.3 526.10,252.4 525.70,252.6 525.30,252.7 524.90,253.8 524.50,252.1 524.10,251.6 523.70,253.0 523.30,251.7 522.90,251.7 522.50,252.0 522.10,253.1 521.70,253.3 521.30,253.3 520.90,251.7 520.50,253.6 520.10,251.8 519.70,253.5 519.30,253.6 518.90,252.4 518.50,253.3 518.10,252.8 517.70,251.8 517.30,253.1 516.90,251.5 516.50,252.1 516.10,253.1 515.70,253.4 515.30,253.0 514.90,252.7 514.50,252.8 514.10,252.8 513.70,253.0 513.30,251.9 512.90,252.4 512.50,252.4 512.10,251.3 511.70,250.5 511.30,251.6 510.90,251.3 510.50,251.7 510.10,250.1 509.70,250.4 509.30,249.7 508.90,250.6 508.50,250.1 508.10,251.4 507.70,249.9 507.30,251.9 506.90,251.7 506.50,251.5 506.10,251.0 505.70,251.1 505.30,251.8 504.90,252.1 504.50,252.5 504.10,253.2 503.70,253.4 503.30,253.1 502.90,252.6 502.50,253.4 502.10,252.3 501.70,252.2 501.30,251.7 500.90,252.4 500.50,252.3 500.10,251.9 499.70,251.1 499.30,251.1 498.90,251.5 498.50,251.6 498.10,251.6 497.70,251.6 497.30,252.6 496.90,252.7 496.50,252.4 496.10,251.9 495.70,252.4 495.30,253.0 494.90,251.5 494.50,251.3 494.10,251.7 493.70,251.8 493.30,252.2 492.90,253.4 492.50,252.0 492.10,253.2 491.70,251.9 491.30,251.4 490.90,251.4 490.50,251.9 490.10,251.7 489.70,252.8 489.30,252.5 488.90,252.1 488.50,253.7 488.10,252.9 487.70,253.6 487.30,252.2 486.90,252.0 486.50,252.0 486.10,251.7 485.70,252.2 485.30,253.0 484.90,253.4 484.50,253.8 484.10,252.5 483.70,251.8 483.30,252.2 482.90,252.0 482.50,252.3 482.10,251.2 481.70,253.4 481.30,253.2 480.90,252.5 480.50,252.9 480.10,252.4 479.70,252.8 479.30,253.3 478.90,251.4 478.50,251.4 478.10,252.3 477.70,253.3 477.30,253.4 476.90,253.4 476.50,253.1 476.10,252.0 475.70,251.6 475.30,251.9 474.90,251.8 474.50,253.3 474.10,252.2 473.70,251.7 473.30,250.8 472.90,249.5 472.50,250.4 472.10,249.1 471.70,249.9 471.30,249.9 470.90,249.2 470.50,250.1 470.10,250.1 469.70,250.0 469.30,250.2 468.90,250.5 468.50,251.0 468.10,249.2 467.70,250.3 467.30,250.7 466.90,252.3 466.50,252.5 466.10,252.3 465.70,252.1 465.30,252.5 464.90,250.3 464.50,251.2 464.10,250.7 463.70,251.8 463.30,252.1 462.90,251.6 462.50,253.3 462.10,251.2 461.70,251.1 461.30,250.9 460.90,252.7 460.50,250.7 460.10,253.6 459.70,253.9 459.30,252.8 458.90,252.2 458.50,254.0 458.10,252.9 457.70,253.1 457.30,252.9 456.90,252.0 456.50,252.7 456.10,252.1 455.70,252.4 455.30,252.6 454.90,252.7 454.50,252.9 454.10,252.5 453.70,253.0 453.30,252.8 452.90,252.2 452.50,252.8 452.10,253.3 451.70,253.2 451.30,253.4 450.90,253.3 450.50,252.7 450.10,252.3 449.70,252.1 449.30,252.2 448.90,252.5 448.50,252.5 448.10,252.9 447.70,251.6 447.30,252.4 446.90,252.5 446.50,252.5 446.10,252.1 445.70,252.6 445.30,253.1 444.90,251.8 444.50,252.3 444.10,252.0 443.70,252.4 443.30,253.0 442.90,253.2 442.50,253.1 442.10,253.1 441.70,252.1 441.30,252.8 440.90,251.9 440.50,252.2 440.10,251.9 439.70,251.9 439.30,251.9 438.90,252.3 438.50,252.1 438.10,252.0 437.70,252.7 437.30,252.7 436.90,252.4 436.50,251.7 436.10,251.7 435.70,251.4 435.30,250.8 434.90,251.1 434.50,250.9 434.10,250.9 433.70,250.5 433.30,251.1 432.90,251.1 432.50,250.9 432.10,251.2 431.70,251.3 431.30,250.7 430.90,250.6 430.50,251.6 430.10,251.1 429.70,251.1 429.30,252.0 428.90,251.6 428.50,251.9 428.10,252.3 427.70,252.1 427.30,252.3 426.90,251.6 426.50,252.1 426.10,251.8 425.70,251.9 425.30,251.7 424.90,251.8 424.50,252.0 424.10,252.5 423.70,251.8 423.30,251.8 422.90,251.5 422.50,251.2 422.10,251.5 421.70,251.7 421.30,250.8 420.90,251.7 420.50,251.0 420.10,251.1 419.70,250.6 419.30,251.1 418.90,250.6 418.50,250.8 418.10,251.1 417.70,250.7 417.30,250.3 416.90,250.8 416.50,250.9 416.10,250.4 415.70,250.9 415.30,251.0 414.90,250.9 414.50,251.2 414.10,251.5 413.70,250.8 413.30,250.8 412.90,251.5 412.50,252.3 412.10,252.2 411.70,251.6Z" fill="#ff0000" stroke="#ff0000" stroke-width="0.5" stroke-linejoin="round"/>
<path d="M411.70,252.4 412.10,250.6 412.50,251.1 412.90,250.1 413.30,248.2 413.70,250.3 414.10,250.6 414.50,250.9 414.90,249.2 415.30,249.4 415.70,250.6 416.10,250.5 416.50,250.9 416.90,248.8 417.30,248.2 417.70,249.9 418.10,248.4 418.50,249.5 418.90,250.5 419.30,249.4 419.70,250.5 420.10,251.0 420.50,251.2 420.90,250.1 421.30,251.4 421.70,250.6 422.10,250.8 422.50,251.9 422.90,250.1 423.30,250.8 423.70,250.8 424.10,251.8 424.50,250.7 424.90,250.8 425.30,251.9 425.70,249.9 426.10,251.4 426.50,250.8 426.90,250.1 427.30,250.9 427.70,250.9 428.10,250.0 428.50,250.1 428.90,250.9 429.30,249.8 429.70,250.9 430.10,250.9 430.50,250.5 430.90,248.6 431.30,249.9 431.70,250.0 432.10,248.9 432.50,249.4 432.90,249.3 433.30,249.6 433.70,251.0 434.10,249.3 434.50,248.9 434.90,248.9 435.30,249.7 435.70,251.1 436.10,249.1 436.50,249.6 436.90,251.6 437.30,252.1 437.70,252.9 438.10,251.4 438.50,251.5 438.90,250.7 439.30,252.1 439.70,250.7 440.10,250.7 440.50,250.7 440.90,251.3 441.30,251.7 441.70,253.1 442.10,250.7 442.50,251.0 442.90,250.3 443.30,252.9 443.70,252.6 444.10,252.1 444.50,251.3 444.90,250.6 445.30,251.9 445.70,252.8 446.10,249.4 446.50,252.0 446.90,252.3 447.30,250.7 447.70,249.7 448.10,252.3 448.50,250.7 448.90,250.1 449.30,250.5 449.70,251.3 450.10,252.0 450.50,250.9 450.90,252.5 451.30,251.4 451.70,251.8 452.10,252.3 452.50,251.2 452.90,251.6 453.30,251.7 453.70,251.2 454.10,252.3 454.50,250.8 454.90,251.4 455.30,252.0 455.70,251.5 456.10,252.0 456.50,250.7 456.90,252.0 457.30,251.2 457.70,252.1 458.10,253.1 458.50,240.8 458.90,251.5 459.30,255.3 459.70,244.2 460.10,245.6 460.50,244.9 460.90,250.5 461.30,251.4 461.70,250.1 462.10,251.7 462.50,247.4 462.90,248.9 463.30,249.9 463.70,250.7 464.10,252.6 464.50,250.2 464.90,248.9 465.30,249.8 465.70,249.7 466.10,251.3 466.50,249.6 466.90,251.7 467.30,248.1 467.70,248.5 468.10,247.3 468.50,246.9 468.90,247.8 469.30,249.5 469.70,248.0 470.10,248.5 470.50,248.4 470.90,247.2 471.30,248.5 471.70,247.8 472.10,249.0 472.50,247.1 472.90,247.6 473.30,248.7 473.70,249.9 474.10,249.3 474.50,251.3 474.90,249.9 475.30,248.1 475.70,249.5 476.10,250.0 476.50,250.4 476.90,251.3 477.30,250.9 477.70,252.1 478.10,250.4 478.50,251.2 478.90,251.3 479.30,253.2 479.70,253.4 480.10,250.5 480.50,251.0 480.90,251.8 481.30,249.5 481.70,250.0 482.10,251.9 482.50,250.1 482.90,250.8 483.30,250.3 483.70,250.9 484.10,249.1 484.50,249.8 484.90,247.7 485.30,252.7 485.70,251.1 486.10,250.6 486.50,248.0 486.90,248.7 487.30,250.1 487.70,250.1 488.10,252.6 488.50,251.4 488.90,251.0 489.30,251.0 489.70,252.4 490.10,250.4 490.50,249.0 490.90,251.4 491.30,250.7 491.70,250.8 492.10,249.5 492.50,250.4 492.90,251.9 493.30,251.6 493.70,249.7 494.10,249.1 494.50,249.8 494.90,249.8 495.30,250.3 495.70,249.5 496.10,248.0 496.50,247.8 496.90,252.4 497.30,250.3 497.70,252.6 498.10,247.9 498.50,248.3 498.90,251.1 499.30,252.3 499.70,249.9 500.10,249.2 500.50,250.6 500.90,248.8 501.30,251.1 501.70,247.5 502.10,250.1 502.50,249.1 502.90,250.7 503.30,250.8 503.70,252.2 504.10,251.7 504.50,250.9 504.90,249.5 505.30,250.3 505.70,249.1 506.10,247.7 506.50,252.8 506.90,251.0 507.30,249.2 507.70,252.2 508.10,249.8 508.50,250.2 508.90,250.0 509.30,248.9 509.70,247.6 510.10,251.8 510.50,246.7 510.90,250.9 511.30,247.4 511.70,248.1 512.10,250.1 512.50,252.9 512.90,250.7 513.30,251.4 513.70,253.7 514.10,252.5 514.50,249.5 514.90,252.7 515.30,247.8 515.70,250.1 516.10,248.6 516.50,249.7 516.90,252.3 517.30,252.7 517.70,249.9 518.10,249.8 518.50,251.7 518.90,250.0 519.30,253.5 519.70,251.1 520.10,251.5 520.50,253.1 520.90,251.7 521.30,253.3 521.70,252.7 522.10,250.9 522.50,248.4 522.90,249.7 523.30,249.5 523.70,249.5 524.10,247.8 524.50,249.6 524.90,250.6 525.30,252.1 525.70,249.2 526.10,248.7 526.50,253.6 526.90,250.8 527.30,253.5 527.70,249.1 528.10,253.0 528.50,255.1 528.90,253.3 529.30,249.6 529.70,254.2 530.10,251.1 530.50,253.2 530.90,252.1 531.30,253.3 531.70,254.1 532.10,252.3 532.50,254.4 532.90,252.0 533.30,251.0 533.70,252.0 534.10,251.8 534.50,252.9 534.90,250.7 535.30,254.7 535.70,254.4 536.10,251.7 536.50,254.3 536.90,253.5 537.30,250.0 537.70,253.3 538.10,254.2 538.50,253.7 538.90,254.5 539.30,251.0 539.70,249.6 540.10,253.5 540.50,251.1 540.90,252.6 541.30,248.7 541.70,251.0 542.10,251.4 542.50,249.8 542.90,248.2 543.30,249.8 543.70,253.9 544.10,253.1 544.50,253.0 544.90,250.5 545.30,250.8 545.70,248.9 546.10,255.0 546.50,252.1 546.90,250.4 547.30,254.9 547.70,251.6 548.10,250.8 548.50,251.0 548.90,254.0 549.30,254.2 549.70,254.0 550.10,252.1 550.50,251.3 550.90,252.3 551.30,252.7 551.70,252.6 552.10,251.7 552.50,252.8 552.90,248.9 553.30,251.4 553.70,252.2 554.10,253.2 554.50,253.0 554.90,254.6 555.30,250.3 555.70,251.7 556.10,249.6 556.50,253.3 556.90,252.2 557.30,249.5 557.70,251.1 558.10,252.6 558.50,251.6 558.90,253.7 559.30,251.9 559.70,251.1 560.10,250.5 560.50,248.2 560.90,253.0 561.30,254.2 561.70,253.9 562.10,253.0 562.50,250.0 562.90,253.9 563.30,250.5 563.70,252.6 564.10,251.5 564.50,253.6 564.90,253.3 565.30,254.8 565.70,254.4 566.10,254.3 566.50,253.7 566.90,251.4 567.30,250.2 567.70,252.7 568.10,252.4 568.50,250.8 568.90,252.5 569.30,252.8 569.70,254.4 570.10,256.2 570.50,252.7 570.90,252.9 571.30,255.1 571.70,256.0 572.10,256.7 572.50,253.7 572.90,255.6 573.30,252.2 573.70,256.5 574.10,255.7 574.50,256.2 574.90,252.7 575.30,251.0 575.70,255.8 576.10,251.3 576.50,252.1 576.90,251.0 577.30,252.6 577.70,249.5 578.10,251.5 578.50,251.6 578.90,251.2 579.30,252.0 579.70,253.6 580.10,252.4 580.50,251.6 580.90,252.6 581.30,254.7 581.70,249.6 582.10,253.3 582.50,251.5 582.90,252.3 583.30,253.0 583.70,250.5 584.10,250.1 584.50,250.5 584.90,248.6 585.30,255.3 585.70,251.3 586.10,251.9 586.50,254.4 586.90,252.8 587.30,255.7 587.70,253.2 588.10,255.1 588.50,257.2 588.90,256.3 589.30,256.7 589.70,253.8 590.10,250.4 590.50,253.3 590.90,256.4 591.30,257.4 591.70,255.5 592.10,257.1 592.50,259.9 592.90,254.7 593.30,260.4 593.70,255.2 594.10,261.5 594.50,257.0 594.90,259.8 595.30,258.2 595.70,260.9 596.10,260.8 596.50,256.1 596.90,260.6 597.30,256.4 597.70,256.7 598.10,260.7 598.50,261.3 598.90,258.1 599.30,257.9 599.70,261.0 600.10,260.0 600.50,259.5 600.90,261.5 601.30,259.8 601.70,263.9 602.10,265.1 602.50,258.8 602.90,264.0 603.30,263.2 603.70,265.4 604.10,268.1 604.50,269.6 604.90,273.6 605.30,271.2 605.70,280.6 606.10,283.6 606.50,285.2 606.90,280.5 607.30,273.0 607.70,270.7 608.10,266.0 608.50,259.7 608.90,258.6 609.30,257.4 609.70,257.5 610.10,260.8 610.50,260.2 610.90,258.7 611.30,259.9 611.70,259.4 612.10,257.8 612.50,258.1 612.90,259.6 613.30,259.0 613.70,258.9 614.10,259.8 614.50,260.3 614.90,257.9 615.30,259.4 615.70,257.0 616.10,258.8 616.50,259.2 616.90,257.0 617.30,256.5 617.70,258.6 618.10,259.7 618.50,258.2 618.90,258.0 619.30,256.5 619.70,259.4 620.10,260.9 620.50,259.9 620.90,259.4 621.30,260.0 621.70,257.4 622.10,259.6 622.50,259.4 622.90,257.9" fill="none" stroke="#ff0000" stroke-width="0.45" stroke-linejoin="bevel"/>
<polygon points="422.39,250.74 418.99,248.74 418.99,252.74" fill="#fff" stroke="#ff0000" stroke-width="0.7"/>
<polygon points="431.08,251.12 427.68,249.12 427.68,253.12" fill="#fff" stroke="#ff0000" stroke-width="0.7"/>
<polygon points="439.78,251.25 436.38,249.25 436.38,253.25" fill="#fff" stroke="#ff0000" stroke-width="0.7"/>
<polygon points="448.47,251.21 445.07,249.21 445.07,253.21" fill="#fff" stroke="#ff0000" stroke-width="0.7"/>
<polygon points="457.16,251.19 453.76,249.19 453.76,253.19" fill="#fff" stroke="#ff0000" stroke-width="0.7"/>
<polygon points="465.85,249.11 462.45,247.11 462.45,251.11" fill="#fff" stroke="#ff0000" stroke-width="0.7"/>
<polygon points="474.55,249.67 471.15,247.67 471.15,251.67" fill="#fff" stroke="#ff0000" stroke-width="0.7"/>
<polygon points="483.24,249.93 479.84,247.93 479.84,251.93" fill="#fff" stroke="#ff0000" stroke-width="0.7"/>
<polygon points="491.93,250.29 488.53,248.29 488.53,252.29" fill="#fff" stroke="#ff0000" stroke-width="0.7"/>
<polygon points="500.62,250.28 497.22,248.28 497.22,252.28" fill="#fff" stroke="#ff0000" stroke-width="0.7"/>
<polygon points="509.32,250.37 505.92,248.37 505.92,252.37" fill="#fff" stroke="#ff0000" stroke-width="0.7"/>
<polygon points="518.01,250.47 514.61,248.47 514.61,252.47" fill="#fff" stroke="#ff0000" stroke-width="0.7"/>
<polygon points="526.7,250.52 523.3,248.52 523.3,252.52" fill="#fff" stroke="#ff0000" stroke-width="0.7"/>
<polygon points="535.39,251.15 531.99,249.15 531.99,253.15" fill="#fff" stroke="#ff0000" stroke-width="0.7"/>
<polygon points="544.09,251.29 540.69,249.29 540.69,253.29" fill="#fff" stroke="#ff0000" stroke-width="0.7"/>
<polygon points="552.78,251.35 549.38,249.35 549.38,253.35" fill="#fff" stroke="#ff0000" stroke-width="0.7"/>
<polygon points="561.47,251.51 558.07,249.51 558.07,253.51" fill="#fff" stroke="#ff0000" stroke-width="0.7"/>
<polygon points="570.16,252.3 566.76,250.3 566.76,254.3" fill="#fff" stroke="#ff0000" stroke-width="0.7"/>
<polygon points="578.85,252.65 575.45,250.65 575.45,254.65" fill="#fff" stroke="#ff0000" stroke-width="0.7"/>
<polygon points="587.55,253.11 584.15,251.11 584.15,255.11" fill="#fff" stroke="#ff0000" stroke-width="0.7"/>
<polygon points="596.24,256.43 592.84,254.43 592.84,258.43" fill="#fff" stroke="#ff0000" stroke-width="0.7"/>
<polygon points="604.93,262.43 601.53,260.43 601.53,264.43" fill="#fff" stroke="#ff0000" stroke-width="0.7"/>
<polygon points="613.62,260.06 610.22,258.06 610.22,262.06" fill="#fff" stroke="#ff0000" stroke-width="0.7"/>
<polygon points="622.32,259.76 618.92,257.76 618.92,261.76" fill="#fff" stroke="#ff0000" stroke-width="0.7"/>
<path d="M411.70,252.3 412.10,252.4 412.50,252.0 412.90,251.8 413.30,252.1 413.70,252.1 414.10,251.6 414.50,252.0 414.90,252.1 415.30,252.3 415.70,251.8 416.10,251.8 416.50,252.1 416.90,251.7 417.30,252.3 417.70,252.2 418.10,252.9 418.50,252.6 418.90,253.2 419.30,252.6 419.70,253.1 420.10,253.1 420.50,253.0 420.90,253.0 421.30,253.4 421.70,253.1 422.10,253.3 422.50,253.5 422.90,253.3 423.30,253.4 423.70,253.1 424.10,252.7 424.50,253.2 424.90,253.3 425.30,252.7 425.70,252.9 426.10,253.2 426.50,253.1 426.90,252.5 427.30,253.0 427.70,252.9 428.10,252.4 428.50,252.6 428.90,252.5 429.30,252.6 429.70,252.4 430.10,252.8 430.50,252.9 430.90,252.4 431.30,252.6 431.70,252.8 432.10,252.5 432.50,250.2 432.90,252.6 433.30,252.8 433.70,253.3 434.10,253.7 434.50,253.2 434.90,253.4 435.30,253.1 435.70,253.5 436.10,252.5 436.50,252.5 436.90,252.7 437.30,252.8 437.70,252.6 438.10,252.8 438.50,252.1 438.90,252.0 439.30,252.3 439.70,252.2 440.10,251.6 440.50,251.8 440.90,251.7 441.30,251.8 441.70,252.2 442.10,252.2 442.50,252.2 442.90,252.5 443.30,252.0 443.70,251.7 444.10,251.9 444.50,252.0 444.90,251.3 445.30,252.1 445.70,251.6 446.10,252.0 446.50,252.3 446.90,252.5 447.30,252.4 447.70,252.6 448.10,252.8 448.50,252.2 448.90,252.4 449.30,252.2 449.70,253.0 450.10,252.7 450.50,252.9 450.90,252.9 451.30,252.5 451.70,250.6 452.10,253.1 452.50,252.7 452.90,252.7 453.30,252.3 453.70,252.3 454.10,252.8 454.50,252.0 454.90,252.2 455.30,251.7 455.70,252.3 456.10,251.9 456.50,252.3 456.90,251.8 457.30,251.9 457.70,252.2 458.10,252.0 458.50,231.0 458.90,232.8 459.30,235.6 459.70,236.2 460.10,237.9 460.50,237.2 460.90,238.3 461.30,239.8 461.70,239.5 462.10,239.3 462.50,240.8 462.90,240.3 463.30,240.8 463.70,239.7 464.10,240.6 464.50,241.2 464.90,239.7 465.30,240.4 465.70,240.2 466.10,240.5 466.50,241.0 466.90,241.5 467.30,240.5 467.70,240.5 468.10,240.4 468.50,240.9 468.90,241.1 469.30,240.8 469.70,241.6 470.10,241.7 470.50,241.7 470.90,241.9 471.30,240.9 471.70,241.1 472.10,241.4 472.50,241.8 472.90,241.5 473.30,241.3 473.70,241.7 474.10,241.7 474.50,241.6 474.90,241.6 475.30,242.5 475.70,241.9 476.10,241.3 476.50,242.3 476.90,242.1 477.30,242.4 477.70,241.3 478.10,241.7 478.50,241.1 478.90,241.7 479.30,240.8 479.70,241.3 480.10,241.1 480.50,240.8 480.90,241.2 481.30,241.2 481.70,241.2 482.10,240.2 482.50,241.1 482.90,240.6 483.30,241.3 483.70,241.4 484.10,240.5 484.50,241.4 484.90,241.5 485.30,241.2 485.70,241.6 486.10,241.2 486.50,241.7 486.90,241.5 487.30,241.6 487.70,241.4 488.10,241.0 488.50,241.6 488.90,241.5 489.30,241.5 489.70,241.4 490.10,241.7 490.50,241.9 490.90,241.5 491.30,241.7 491.70,241.7 492.10,241.4 492.50,241.7 492.90,241.6 493.30,241.1 493.70,241.6 494.10,241.9 494.50,242.2 494.90,241.9 495.30,241.4 495.70,241.4 496.10,241.9 496.50,241.4 496.90,241.4 497.30,241.7 497.70,241.6 498.10,241.3 498.50,241.5 498.90,241.6 499.30,241.8 499.70,241.9 500.10,242.1 500.50,242.3 500.90,242.2 501.30,241.9 501.70,241.7 502.10,241.5 502.50,241.3 502.90,242.2 503.30,241.4 503.70,241.6 504.10,241.7 504.50,241.3 504.90,241.3 505.30,241.1 505.70,240.9 506.10,241.8 506.50,241.0 506.90,241.9 507.30,241.7 507.70,241.5 508.10,240.9 508.50,240.9 508.90,240.9 509.30,240.9 509.70,241.2 510.10,240.7 510.50,241.2 510.90,241.1 511.30,240.9 511.70,241.2 512.10,240.9 512.50,241.5 512.90,241.3 513.30,241.1 513.70,241.4 514.10,241.5 514.50,241.5 514.90,241.6 515.30,241.9 515.70,241.5 516.10,241.5 516.50,241.2 516.90,241.4 517.30,241.9 517.70,242.4 518.10,242.8 518.50,241.8 518.90,242.2 519.30,242.4 519.70,241.8 520.10,242.2 520.50,241.4 520.90,241.5 521.30,241.2 521.70,241.3 522.10,241.6 522.50,241.0 522.90,241.0 523.30,240.8 523.70,240.9 524.10,240.8 524.50,240.6 524.90,240.8 525.30,241.3 525.70,241.1 526.10,241.6 526.50,241.0 526.90,241.3 527.30,242.1 527.70,241.2 528.10,242.0 528.50,241.7 528.90,240.8 529.30,240.8 529.70,241.4 530.10,241.5 530.50,241.4 530.90,241.3 531.30,240.8 531.70,241.7 532.10,241.5 532.50,241.8 532.90,242.3 533.30,241.7 533.70,241.9 534.10,242.0 534.50,242.3 534.90,241.9 535.30,242.3 535.70,242.0 536.10,242.2 536.50,242.0 536.90,241.9 537.30,241.9 537.70,242.2 538.10,241.6 538.50,241.5 538.90,241.9 539.30,241.4 539.70,241.4 540.10,242.2 540.50,238.0 540.90,241.7 541.30,242.6 541.70,241.9 542.10,242.2 542.50,241.9 542.90,242.9 543.30,242.4 543.70,241.7 544.10,242.1 544.50,241.9 544.90,241.6 545.30,241.8 545.70,242.4 546.10,242.2 546.50,241.3 546.90,241.8 547.30,241.9 547.70,242.2 548.10,242.1 548.50,241.7 548.90,242.4 549.30,242.5 549.70,241.9 550.10,241.7 550.50,242.5 550.90,243.0 551.30,242.1 551.70,242.4 552.10,242.0 552.50,242.0 552.90,241.2 553.30,241.7 553.70,242.0 554.10,241.0 554.50,241.3 554.90,241.5 555.30,241.6 555.70,241.6 556.10,242.4 556.50,241.9 556.90,242.6 557.30,242.4 557.70,242.2 558.10,242.5 558.50,241.5 558.90,242.2 559.30,241.9 559.70,241.4 560.10,241.7 560.50,241.5 560.90,240.9 561.30,241.8 561.70,241.5 562.10,241.6 562.50,241.4 562.90,241.5 563.30,242.1 563.70,242.2 564.10,242.3 564.50,241.6 564.90,241.7 565.30,242.0 565.70,242.9 566.10,242.2 566.50,240.1 566.90,235.8 567.30,239.4 567.70,242.5 568.10,241.8 568.50,242.1 568.90,242.2 569.30,241.9 569.70,242.0 570.10,242.4 570.50,241.2 570.90,241.5 571.30,241.6 571.70,241.8 572.10,241.5 572.50,241.1 572.90,241.6 573.30,241.1 573.70,242.1 574.10,242.2 574.50,241.6 574.90,242.3 575.30,241.4 575.70,241.4 576.10,242.3 576.50,242.2 576.90,242.6 577.30,242.3 577.70,241.9 578.10,242.0 578.50,241.8 578.90,242.6 579.30,241.9 579.70,241.6 580.10,241.5 580.50,241.0 580.90,241.2 581.30,240.9 581.70,241.3 582.10,240.8 582.50,240.6 582.90,241.6 583.30,241.6 583.70,240.9 584.10,241.3 584.50,241.2 584.90,241.4 585.30,240.6 585.70,240.7 586.10,241.4 586.50,240.5 586.90,241.7 587.30,241.5 587.70,241.0 588.10,241.0 588.50,241.6 588.90,240.7 589.30,240.0 589.70,240.8 590.10,241.0 590.50,241.3 590.90,242.0 591.30,241.9 591.70,242.6 592.10,242.3 592.50,243.2 592.90,242.9 593.30,243.2 593.70,242.8 594.10,243.3 594.50,243.8 594.90,243.3 595.30,243.8 595.70,243.7 596.10,244.4 596.50,243.6 596.90,243.7 597.30,244.0 597.70,243.6 598.10,245.0 598.50,244.2 598.90,244.7 599.30,245.9 599.70,245.7 600.10,246.3 600.50,246.4 600.90,246.7 601.30,246.8 601.70,247.5 602.10,247.2 602.50,247.0 602.90,246.5 603.30,248.0 603.70,249.9 604.10,251.7 604.50,253.1 604.90,253.9 605.30,255.1 605.70,257.9 606.10,262.3 606.50,264.8 606.90,264.9 607.30,261.6 607.70,260.0 608.10,257.0 608.50,255.1 608.90,255.2 609.30,254.3 609.70,255.0 610.10,254.8 610.50,255.3 610.90,254.9 611.30,255.0 611.70,254.7 612.10,255.1 612.50,254.7 612.90,251.2 613.30,255.0 613.70,254.6 614.10,254.3 614.50,254.7 614.90,254.7 615.30,254.6 615.70,251.6 616.10,254.7 616.50,254.5 616.90,253.9 617.30,254.1 617.70,254.9 618.10,254.1 618.50,254.6 618.90,254.8 619.30,254.6 619.70,254.5 620.10,254.1 620.50,254.4 620.90,255.2 621.30,254.8 621.70,254.2 622.10,254.9 622.50,255.6 622.90,254.7 622.90,256.6 622.50,256.7 622.10,256.9 621.70,257.1 621.30,257.4 620.90,256.8 620.50,256.5 620.10,256.0 619.70,256.0 619.30,257.1 618.90,256.5 618.50,256.6 618.10,256.6 617.70,256.9 617.30,256.7 616.90,256.9 616.50,256.1 616.10,256.6 615.70,257.1 615.30,256.9 614.90,256.9 614.50,257.1 614.10,256.3 613.70,256.5 613.30,256.8 612.90,257.1 612.50,256.8 612.10,257.2 611.70,256.8 611.30,256.9 610.90,256.7 610.50,256.9 610.10,256.3 609.70,256.4 609.30,256.3 608.90,257.0 608.50,257.4 608.10,259.4 607.70,262.0 607.30,264.0 606.90,267.2 606.50,267.5 606.10,263.7 605.70,261.1 605.30,257.9 604.90,256.7 604.50,254.7 604.10,254.0 603.70,251.9 603.30,250.3 602.90,248.7 602.50,248.8 602.10,249.0 601.70,249.9 601.30,249.4 600.90,248.5 600.50,248.9 600.10,248.6 599.70,247.9 599.30,248.2 598.90,247.8 598.50,246.5 598.10,246.4 597.70,246.6 597.30,245.7 596.90,245.4 596.50,246.3 596.10,246.8 595.70,245.7 595.30,245.9 594.90,246.0 594.50,245.6 594.10,245.8 593.70,245.8 593.30,245.5 592.90,245.3 592.50,244.9 592.10,244.4 591.70,244.4 591.30,244.0 590.90,243.6 590.50,243.9 590.10,243.5 589.70,243.3 589.30,243.1 588.90,243.2 588.50,243.2 588.10,243.6 587.70,243.4 587.30,244.2 586.90,243.5 586.50,243.8 586.10,243.3 585.70,243.2 585.30,243.0 584.90,242.7 584.50,243.1 584.10,242.9 583.70,243.2 583.30,243.0 582.90,242.9 582.50,243.5 582.10,243.4 581.70,243.4 581.30,243.3 580.90,243.6 580.50,243.8 580.10,243.8 579.70,244.5 579.30,244.1 578.90,244.8 578.50,244.3 578.10,244.5 577.70,244.7 577.30,244.4 576.90,244.6 576.50,245.0 576.10,243.8 575.70,244.7 575.30,243.9 574.90,243.9 574.50,244.1 574.10,244.5 573.70,243.4 573.30,244.5 572.90,243.7 572.50,243.7 572.10,244.0 571.70,243.0 571.30,244.2 570.90,243.9 570.50,244.0 570.10,243.9 569.70,243.8 569.30,244.1 568.90,244.8 568.50,244.3 568.10,243.6 567.70,244.2 567.30,244.5 566.90,244.0 566.50,244.6 566.10,243.9 565.70,244.6 565.30,244.6 564.90,244.5 564.50,244.0 564.10,244.1 563.70,243.7 563.30,243.6 562.90,243.5 562.50,244.0 562.10,243.4 561.70,243.4 561.30,243.0 560.90,243.5 560.50,243.8 560.10,243.4 559.70,244.0 559.30,243.6 558.90,244.0 558.50,244.1 558.10,243.8 557.70,244.1 557.30,243.4 556.90,244.0 556.50,244.0 556.10,243.8 555.70,243.5 555.30,243.8 554.90,243.2 554.50,243.3 554.10,243.8 553.70,243.6 553.30,244.1 552.90,243.3 552.50,243.9 552.10,244.2 551.70,244.1 551.30,244.2 550.90,245.0 550.50,244.4 550.10,243.9 549.70,244.0 549.30,243.9 548.90,243.7 548.50,244.5 548.10,244.0 547.70,243.9 547.30,243.3 546.90,243.6 546.50,243.9 546.10,243.7 545.70,244.0 545.30,244.2 544.90,243.5 544.50,244.5 544.10,248.2 543.70,247.6 543.30,244.2 542.90,244.1 542.50,244.0 542.10,244.7 541.70,244.4 541.30,244.0 540.90,243.9 540.50,243.7 540.10,244.2 539.70,243.7 539.30,244.3 538.90,244.1 538.50,244.1 538.10,243.6 537.70,244.2 537.30,244.3 536.90,244.2 536.50,244.0 536.10,244.2 535.70,243.7 535.30,244.3 534.90,243.7 534.50,243.7 534.10,244.3 533.70,243.9 533.30,244.3 532.90,244.1 532.50,244.0 532.10,244.2 531.70,243.7 531.30,242.9 530.90,243.3 530.50,243.4 530.10,243.7 529.70,243.4 529.30,243.3 528.90,243.3 528.50,243.1 528.10,243.8 527.70,243.2 527.30,244.2 526.90,244.0 526.50,243.2 526.10,243.1 525.70,242.9 525.30,243.8 524.90,242.8 524.50,243.1 524.10,242.5 523.70,242.8 523.30,242.5 522.90,243.0 522.50,243.3 522.10,243.3 521.70,243.4 521.30,243.6 520.90,243.7 520.50,243.3 520.10,244.3 519.70,244.2 519.30,244.4 518.90,244.5 518.50,243.8 518.10,244.0 517.70,244.2 517.30,243.9 516.90,244.0 516.50,243.4 516.10,243.4 515.70,243.7 515.30,243.5 514.90,242.9 514.50,243.0 514.10,243.3 513.70,242.9 513.30,243.0 512.90,243.3 512.50,243.2 512.10,242.6 511.70,243.6 511.30,242.9 510.90,242.5 510.50,243.3 510.10,243.0 509.70,243.4 509.30,243.0 508.90,243.6 508.50,243.2 508.10,243.8 507.70,243.2 507.30,243.5 506.90,244.1 506.50,243.7 506.10,243.5 505.70,243.4 505.30,243.8 504.90,243.8 504.50,243.7 504.10,243.2 503.70,244.0 503.30,243.3 502.90,243.7 502.50,243.8 502.10,244.1 501.70,243.8 501.30,243.8 500.90,244.2 500.50,243.5 500.10,243.6 499.70,243.6 499.30,243.9 498.90,243.4 498.50,243.5 498.10,243.7 497.70,243.5 497.30,244.3 496.90,243.9 496.50,243.7 496.10,243.4 495.70,244.1 495.30,243.9 494.90,243.8 494.50,243.3 494.10,243.4 493.70,244.2 493.30,243.4 492.90,243.9 492.50,243.7 492.10,243.9 491.70,244.0 491.30,243.8 490.90,243.1 490.50,243.4 490.10,243.5 489.70,243.6 489.30,243.7 488.90,243.3 488.50,243.2 488.10,243.6 487.70,243.8 487.30,243.4 486.90,243.7 486.50,243.5 486.10,243.7 485.70,243.1 485.30,243.7 484.90,243.1 484.50,243.4 484.10,242.6 483.70,243.0 483.30,242.8 482.90,242.4 482.50,242.4 482.10,243.0 481.70,242.6 481.30,243.4 480.90,243.3 480.50,243.5 480.10,242.7 479.70,243.2 479.30,243.8 478.90,243.9 478.50,243.1 478.10,243.5 477.70,244.1 477.30,244.5 476.90,243.7 476.50,244.0 476.10,243.8 475.70,243.4 475.30,244.0 474.90,244.0 474.50,243.7 474.10,243.9 473.70,243.8 473.30,243.8 472.90,244.0 472.50,243.9 472.10,243.5 471.70,244.0 471.30,243.4 470.90,243.8 470.50,244.0 470.10,243.7 469.70,243.5 469.30,242.9 468.90,243.0 468.50,242.8 468.10,243.6 467.70,243.4 467.30,243.6 466.90,243.0 466.50,243.4 466.10,243.0 465.70,243.3 465.30,243.2 464.90,243.4 464.50,243.1 464.10,243.3 463.70,242.6 463.30,243.5 462.90,243.9 462.50,243.7 462.10,242.8 461.70,243.2 461.30,243.1 460.90,241.8 460.50,241.1 460.10,241.2 459.70,239.9 459.30,238.8 458.90,241.2 458.50,238.5 458.10,254.0 457.70,254.0 457.30,253.5 456.90,253.9 456.50,253.7 456.10,253.5 455.70,253.7 455.30,253.5 454.90,253.4 454.50,253.5 454.10,253.9 453.70,253.7 453.30,253.6 452.90,253.8 452.50,253.9 452.10,253.9 451.70,253.9 451.30,254.1 450.90,254.0 450.50,254.1 450.10,254.3 449.70,253.9 449.30,253.7 448.90,253.9 448.50,254.0 448.10,253.8 447.70,254.2 447.30,254.2 446.90,253.3 446.50,253.8 446.10,253.7 445.70,253.4 445.30,253.3 444.90,253.3 444.50,253.2 444.10,253.1 443.70,253.7 443.30,253.0 442.90,253.7 442.50,253.8 442.10,253.6 441.70,253.3 441.30,253.1 440.90,253.2 440.50,253.4 440.10,252.9 439.70,253.6 439.30,253.2 438.90,253.6 438.50,253.8 438.10,253.7 437.70,253.9 437.30,254.1 436.90,254.1 436.50,253.7 436.10,254.4 435.70,254.3 435.30,254.9 434.90,254.8 434.50,254.4 434.10,255.1 433.70,255.0 433.30,254.5 432.90,254.3 432.50,254.4 432.10,254.5 431.70,253.9 431.30,254.3 430.90,253.7 430.50,254.1 430.10,253.9 429.70,254.1 429.30,254.6 428.90,253.9 428.50,254.0 428.10,254.3 427.70,254.3 427.30,254.4 426.90,254.2 426.50,254.1 426.10,254.2 425.70,254.2 425.30,254.6 424.90,254.2 424.50,254.9 424.10,254.7 423.70,254.1 423.30,254.3 422.90,254.8 422.50,255.0 422.10,254.6 421.70,254.4 421.30,254.2 420.90,254.2 420.50,254.0 420.10,254.5 419.70,254.2 419.30,254.0 418.90,254.1 418.50,254.3 418.10,256.9 417.70,253.5 417.30,253.8 416.90,253.6 416.50,253.6 416.10,253.6 415.70,253.7 415.30,253.3 414.90,253.6 414.50,253.6 414.10,253.5 413.70,253.3 413.30,253.6 412.90,253.8 412.50,253.8 412.10,253.8 411.70,254.1Z" fill="#0000ff" stroke="#0000ff" stroke-width="0.5" stroke-linejoin="round"/>
<path d="M411.70,254.0 412.10,253.4 412.50,254.1 412.90,251.8 413.30,252.2 413.70,253.1 414.10,252.2 414.50,253.9 414.90,253.5 415.30,253.7 415.70,254.0 416.10,253.4 416.50,252.4 416.90,252.9 417.30,253.5 417.70,254.2 418.10,254.1 418.50,252.8 418.90,254.0 419.30,253.5 419.70,253.5 420.10,253.5 420.50,253.7 420.90,252.9 421.30,254.6 421.70,254.7 422.10,253.5 422.50,253.0 422.90,254.8 423.30,253.7 423.70,254.4 424.10,254.2 424.50,255.2 424.90,253.9 425.30,255.0 425.70,254.7 426.10,252.2 426.50,252.7 426.90,252.8 427.30,253.4 427.70,252.8 428.10,253.7 428.50,252.6 428.90,254.8 429.30,253.1 429.70,254.3 430.10,254.1 430.50,254.4 430.90,253.6 431.30,254.0 431.70,254.2 432.10,253.1 432.50,254.5 432.90,253.6 433.30,252.9 433.70,254.9 434.10,255.0 434.50,254.9 434.90,254.5 435.30,254.5 435.70,254.1 436.10,254.2 436.50,253.3 436.90,252.9 437.30,252.6 437.70,253.5 438.10,253.9 438.50,253.9 438.90,252.5 439.30,252.5 439.70,252.6 440.10,253.0 440.50,252.3 440.90,252.6 441.30,252.5 441.70,252.5 442.10,252.7 442.50,253.4 442.90,253.2 443.30,252.5 443.70,253.9 444.10,252.6 444.50,252.3 444.90,253.0 445.30,252.1 445.70,251.6 446.10,253.0 446.50,253.3 446.90,251.8 447.30,252.2 447.70,254.1 448.10,253.4 448.50,251.9 448.90,253.9 449.30,253.6 449.70,254.2 450.10,252.7 450.50,254.3 450.90,253.7 451.30,253.9 451.70,252.4 452.10,252.7 452.50,253.3 452.90,252.0 453.30,251.7 453.70,253.2 454.10,252.4 454.50,253.8 454.90,253.5 455.30,253.1 455.70,253.6 456.10,252.1 456.50,252.9 456.90,251.8 457.30,252.9 457.70,253.1 458.10,253.5 458.50,239.8 458.90,239.7 459.30,236.9 459.70,242.2 460.10,242.3 460.50,241.2 460.90,239.3 461.30,240.7 461.70,242.0 462.10,242.1 462.50,242.8 462.90,243.0 463.30,243.4 463.70,239.1 464.10,243.2 464.50,241.9 464.90,242.1 465.30,243.1 465.70,240.1 466.10,243.2 466.50,242.0 466.90,242.3 467.30,241.1 467.70,242.0 468.10,241.4 468.50,242.8 468.90,243.2 469.30,241.3 469.70,242.0 470.10,241.9 470.50,241.0 470.90,241.0 471.30,243.2 471.70,244.3 472.10,242.5 472.50,241.9 472.90,243.3 473.30,243.6 473.70,242.1 474.10,241.0 474.50,243.0 474.90,243.3 475.30,243.6 475.70,243.2 476.10,242.5 476.50,242.9 476.90,245.0 477.30,243.4 477.70,244.8 478.10,240.9 478.50,241.8 478.90,240.9 479.30,242.5 479.70,242.0 480.10,240.1 480.50,242.0 480.90,242.5 481.30,243.3 481.70,242.1 482.10,241.2 482.50,242.5 482.90,242.4 483.30,241.9 483.70,241.9 484.10,243.3 484.50,241.4 484.90,242.4 485.30,241.1 485.70,241.0 486.10,242.1 486.50,241.0 486.90,241.2 487.30,243.2 487.70,242.4 488.10,242.2 488.50,243.3 488.90,243.7 489.30,244.1 489.70,242.0 490.10,242.2 490.50,242.9 490.90,243.8 491.30,243.5 491.70,243.4 492.10,244.7 492.50,243.2 492.90,242.0 493.30,244.0 493.70,241.6 494.10,242.5 494.50,242.5 494.90,241.9 495.30,243.0 495.70,242.1 496.10,242.1 496.50,243.1 496.90,241.0 497.30,243.8 497.70,243.3 498.10,243.4 498.50,241.5 498.90,243.9 499.30,244.3 499.70,242.8 500.10,243.1 500.50,242.2 500.90,242.6 501.30,243.3 501.70,243.7 502.10,241.0 502.50,243.2 502.90,243.3 503.30,243.2 503.70,242.7 504.10,242.1 504.50,242.9 504.90,243.2 505.30,242.4 505.70,240.4 506.10,242.8 506.50,242.7 506.90,242.5 507.30,241.7 507.70,242.9 508.10,243.1 508.50,241.4 508.90,242.3 509.30,240.9 509.70,241.8 510.10,241.5 510.50,243.6 510.90,240.4 511.30,241.9 511.70,242.0 512.10,242.8 512.50,242.6 512.90,240.5 513.30,242.4 513.70,240.7 514.10,242.3 514.50,243.1 514.90,242.6 515.30,242.3 515.70,240.9 516.10,241.9 516.50,241.3 516.90,241.8 517.30,243.1 517.70,244.2 518.10,243.2 518.50,243.0 518.90,241.6 519.30,243.0 519.70,244.1 520.10,243.5 520.50,241.0 520.90,243.2 521.30,241.4 521.70,241.9 522.10,241.2 522.50,240.4 522.90,241.2 523.30,241.5 523.70,242.0 524.10,241.7 524.50,242.3 524.90,242.4 525.30,242.3 525.70,242.0 526.10,242.8 526.50,241.8 526.90,243.3 527.30,243.2 527.70,242.2 528.10,242.1 528.50,240.3 528.90,242.7 529.30,243.9 529.70,242.0 530.10,241.4 530.50,242.4 530.90,240.4 531.30,242.3 531.70,243.2 532.10,241.4 532.50,244.1 532.90,243.1 533.30,242.5 533.70,241.9 534.10,242.9 534.50,241.3 534.90,243.7 535.30,244.5 535.70,242.5 536.10,241.9 536.50,243.3 536.90,241.7 537.30,244.0 537.70,242.4 538.10,242.3 538.50,242.3 538.90,242.3 539.30,243.7 539.70,243.4 540.10,243.0 540.50,244.0 540.90,244.8 541.30,244.1 541.70,243.4 542.10,243.8 542.50,244.9 542.90,243.6 543.30,242.8 543.70,243.1 544.10,242.6 544.50,242.7 544.90,243.4 545.30,243.6 545.70,244.2 546.10,244.8 546.50,241.8 546.90,242.0 547.30,243.7 547.70,243.3 548.10,241.7 548.50,243.9 548.90,242.7 549.30,242.0 549.70,243.1 550.10,241.7 550.50,244.4 550.90,243.3 551.30,243.0 551.70,244.2 552.10,242.7 552.50,243.8 552.90,242.9 553.30,243.7 553.70,241.2 554.10,243.9 554.50,242.8 554.90,242.4 555.30,242.1 555.70,244.1 556.10,244.1 556.50,243.0 556.90,243.6 557.30,242.2 557.70,244.2 558.10,242.5 558.50,242.1 558.90,242.5 559.30,242.0 559.70,242.0 560.10,243.7 560.50,242.7 560.90,244.4 561.30,242.3 561.70,243.9 562.10,243.8 562.50,243.7 562.90,242.6 563.30,242.2 563.70,243.4 564.10,242.2 564.50,243.7 564.90,242.9 565.30,242.8 565.70,244.4 566.10,243.9 566.50,242.3 566.90,242.1 567.30,241.6 567.70,243.5 568.10,243.2 568.50,241.3 568.90,242.9 569.30,242.0 569.70,243.2 570.10,244.2 570.50,244.2 570.90,241.8 571.30,242.3 571.70,243.7 572.10,242.8 572.50,241.3 572.90,241.3 573.30,244.6 573.70,243.6 574.10,242.4 574.50,241.2 574.90,242.3 575.30,242.9 575.70,243.1 576.10,243.3 576.50,243.4 576.90,243.1 577.30,244.0 577.70,242.9 578.10,241.5 578.50,243.3 578.90,243.3 579.30,245.4 579.70,244.4 580.10,244.5 580.50,242.3 580.90,243.0 581.30,244.6 581.70,242.9 582.10,243.2 582.50,241.4 582.90,242.9 583.30,243.6 583.70,241.7 584.10,242.9 584.50,241.9 584.90,241.1 585.30,241.7 585.70,243.0 586.10,243.7 586.50,241.3 586.90,241.1 587.30,243.5 587.70,242.1 588.10,244.0 588.50,242.2 588.90,242.6 589.30,244.0 589.70,239.5 590.10,241.0 590.50,240.0 590.90,241.8 591.30,242.3 591.70,243.0 592.10,243.4 592.50,243.8 592.90,243.0 593.30,243.8 593.70,244.7 594.10,247.1 594.50,244.7 594.90,243.7 595.30,245.3 595.70,245.8 596.10,245.8 596.50,245.0 596.90,245.5 597.30,246.0 597.70,245.2 598.10,247.6 598.50,245.9 598.90,247.7 599.30,246.6 599.70,246.3 600.10,249.0 600.50,248.4 600.90,247.5 601.30,246.8 601.70,247.4 602.10,247.5 602.50,248.9 602.90,250.0 603.30,250.3 603.70,250.9 604.10,252.0 604.50,252.5 604.90,256.5 605.30,257.2 605.70,258.8 606.10,263.1 606.50,267.2 606.90,264.8 607.30,262.4 607.70,260.6 608.10,256.6 608.50,255.8 608.90,256.2 609.30,254.8 609.70,255.0 610.10,254.4 610.50,254.9 610.90,257.0 611.30,254.2 611.70,254.9 612.10,256.2 612.50,256.4 612.90,255.9 613.30,254.7 613.70,255.3 614.10,257.2 614.50,255.7 614.90,255.8 615.30,254.7 615.70,253.9 616.10,254.5 616.50,255.1 616.90,254.9 617.30,256.5 617.70,255.0 618.10,255.2 618.50,254.8 618.90,255.9 619.30,256.5 619.70,255.1 620.10,255.2 620.50,255.9 620.90,255.1 621.30,256.9 621.70,256.4 622.10,256.2 622.50,256.2 622.90,256.3" fill="none" stroke="#0000ff" stroke-width="0.45" stroke-linejoin="bevel"/>
<polygon points="422.88,251.22 424.98,253.32 422.88,255.42 420.78,253.32" fill="#fff" stroke="#0000ff" stroke-width="0.7"/>
<polygon points="431.57,250.96 433.67,253.06 431.57,255.16 429.47,253.06" fill="#fff" stroke="#0000ff" stroke-width="0.7"/>
<polygon points="440.26,250.77 442.36,252.87 440.26,254.97 438.16,252.87" fill="#fff" stroke="#0000ff" stroke-width="0.7"/>
<polygon points="448.95,250.77 451.05,252.87 448.95,254.97 446.85,252.87" fill="#fff" stroke="#0000ff" stroke-width="0.7"/>
<polygon points="457.65,251.18 459.75,253.28 457.65,255.38 455.55,253.28" fill="#fff" stroke="#0000ff" stroke-width="0.7"/>
<polygon points="466.34,240.05 468.44,242.15 466.34,244.25 464.24,242.15" fill="#fff" stroke="#0000ff" stroke-width="0.7"/>
<polygon points="475.03,240.1 477.13,242.2 475.03,244.3 472.93,242.2" fill="#fff" stroke="#0000ff" stroke-width="0.7"/>
<polygon points="483.72,240.26 485.82,242.36 483.72,244.46 481.62,242.36" fill="#fff" stroke="#0000ff" stroke-width="0.7"/>
<polygon points="492.41,240.41 494.51,242.51 492.41,244.61 490.31,242.51" fill="#fff" stroke="#0000ff" stroke-width="0.7"/>
<polygon points="501.11,240.31 503.21,242.41 501.11,244.51 499.01,242.41" fill="#fff" stroke="#0000ff" stroke-width="0.7"/>
<polygon points="509.8,240.73 511.9,242.83 509.8,244.93 507.7,242.83" fill="#fff" stroke="#0000ff" stroke-width="0.7"/>
<polygon points="518.49,240.38 520.59,242.48 518.49,244.58 516.39,242.48" fill="#fff" stroke="#0000ff" stroke-width="0.7"/>
<polygon points="527.18,240.69 529.28,242.79 527.18,244.89 525.08,242.79" fill="#fff" stroke="#0000ff" stroke-width="0.7"/>
<polygon points="535.88,240.49 537.98,242.59 535.88,244.69 533.78,242.59" fill="#fff" stroke="#0000ff" stroke-width="0.7"/>
<polygon points="544.57,240.81 546.67,242.91 544.57,245.01 542.47,242.91" fill="#fff" stroke="#0000ff" stroke-width="0.7"/>
<polygon points="553.26,241.11 555.36,243.21 553.26,245.31 551.16,243.21" fill="#fff" stroke="#0000ff" stroke-width="0.7"/>
<polygon points="561.95,241.32 564.05,243.42 561.95,245.52 559.85,243.42" fill="#fff" stroke="#0000ff" stroke-width="0.7"/>
<polygon points="570.65,241.14 572.75,243.24 570.65,245.34 568.55,243.24" fill="#fff" stroke="#0000ff" stroke-width="0.7"/>
<polygon points="579.34,240.56 581.44,242.66 579.34,244.76 577.24,242.66" fill="#fff" stroke="#0000ff" stroke-width="0.7"/>
<polygon points="588.03,240.86 590.13,242.96 588.03,245.06 585.93,242.96" fill="#fff" stroke="#0000ff" stroke-width="0.7"/>
<polygon points="596.72,243 598.82,245.1 596.72,247.2 594.62,245.1" fill="#fff" stroke="#0000ff" stroke-width="0.7"/>
<polygon points="605.42,254.89 607.52,256.99 605.42,259.09 603.32,256.99" fill="#fff" stroke="#0000ff" stroke-width="0.7"/>
<polygon points="614.11,253.44 616.21,255.54 614.11,257.64 612.01,255.54" fill="#fff" stroke="#0000ff" stroke-width="0.7"/>
<polygon points="622.8,253.82 624.9,255.92 622.8,258.02 620.7,255.92" fill="#fff" stroke="#0000ff" stroke-width="0.7"/>
<polygon points="566.92,233.82 569.02,235.92 566.92,238.02 564.82,235.92" fill="#fff" stroke="#0000ff" stroke-width="0.7"/>
<path d="M411.70,252.1 412.10,252.0 412.50,251.7 412.90,252.3 413.30,252.2 413.70,251.9 414.10,252.3 414.50,252.2 414.90,252.3 415.30,252.5 415.70,252.3 416.10,252.0 416.50,251.8 416.90,252.3 417.30,252.5 417.70,251.7 418.10,251.7 418.50,252.1 418.90,251.7 419.30,251.8 419.70,251.9 420.10,251.5 420.50,252.0 420.90,252.0 421.30,252.0 421.70,252.1 422.10,251.5 422.50,251.5 422.90,252.1 423.30,251.7 423.70,251.9 424.10,251.5 424.50,252.4 424.90,251.4 425.30,251.6 425.70,251.7 426.10,252.1 426.50,251.9 426.90,251.7 427.30,252.0 427.70,252.2 428.10,252.2 428.50,252.1 428.90,251.8 429.30,252.1 429.70,251.8 430.10,251.8 430.50,252.0 430.90,251.9 431.30,251.6 431.70,251.5 432.10,251.6 432.50,251.8 432.90,251.5 433.30,251.1 433.70,251.2 434.10,251.6 434.50,251.1 434.90,251.5 435.30,251.1 435.70,251.1 436.10,251.7 436.50,251.3 436.90,251.5 437.30,252.1 437.70,251.9 438.10,252.5 438.50,252.5 438.90,252.5 439.30,252.0 439.70,252.4 440.10,252.1 440.50,252.6 440.90,252.2 441.30,252.4 441.70,252.0 442.10,252.7 442.50,252.3 442.90,252.4 443.30,252.4 443.70,251.9 444.10,252.2 444.50,251.7 444.90,251.4 445.30,251.5 445.70,251.8 446.10,251.2 446.50,251.9 446.90,251.8 447.30,251.8 447.70,251.8 448.10,251.8 448.50,252.0 448.90,251.9 449.30,252.1 449.70,251.9 450.10,251.6 450.50,251.9 450.90,252.1 451.30,251.8 451.70,252.3 452.10,252.0 452.50,251.9 452.90,252.2 453.30,252.1 453.70,252.2 454.10,251.9 454.50,252.2 454.90,252.0 455.30,252.1 455.70,252.1 456.10,251.6 456.50,252.5 456.90,252.6 457.30,252.7 457.70,252.6 458.10,252.1 458.50,198.4 458.90,199.9 459.30,203.2 459.70,202.4 460.10,205.9 460.50,206.5 460.90,208.8 461.30,210.7 461.70,210.2 462.10,211.7 462.50,210.4 462.90,210.8 463.30,211.6 463.70,212.9 464.10,212.3 464.50,213.3 464.90,212.2 465.30,211.3 465.70,211.0 466.10,211.4 466.50,211.5 466.90,210.7 467.30,211.8 467.70,212.9 468.10,211.4 468.50,211.7 468.90,211.4 469.30,210.8 469.70,211.4 470.10,210.5 470.50,210.9 470.90,211.3 471.30,210.4 471.70,209.9 472.10,210.0 472.50,210.7 472.90,209.3 473.30,211.0 473.70,210.1 474.10,210.3 474.50,210.8 474.90,210.7 475.30,211.4 475.70,210.3 476.10,210.7 476.50,209.8 476.90,210.6 477.30,210.5 477.70,211.1 478.10,209.9 478.50,209.1 478.90,210.3 479.30,210.4 479.70,210.6 480.10,211.2 480.50,210.9 480.90,210.8 481.30,210.9 481.70,210.9 482.10,211.3 482.50,212.0 482.90,210.9 483.30,212.3 483.70,212.2 484.10,211.7 484.50,211.4 484.90,211.8 485.30,211.6 485.70,210.2 486.10,209.7 486.50,209.9 486.90,209.6 487.30,211.2 487.70,211.6 488.10,211.2 488.50,211.3 488.90,210.5 489.30,209.7 489.70,210.8 490.10,210.6 490.50,209.4 490.90,210.0 491.30,209.6 491.70,209.7 492.10,210.5 492.50,210.9 492.90,209.7 493.30,209.9 493.70,210.9 494.10,210.4 494.50,210.4 494.90,209.8 495.30,209.5 495.70,209.3 496.10,209.9 496.50,210.0 496.90,210.5 497.30,210.5 497.70,210.3 498.10,210.3 498.50,211.4 498.90,210.7 499.30,210.9 499.70,211.4 500.10,210.5 500.50,211.0 500.90,210.5 501.30,210.3 501.70,211.1 502.10,209.9 502.50,211.0 502.90,210.3 503.30,211.1 503.70,210.9 504.10,210.5 504.50,210.5 504.90,210.1 505.30,210.8 505.70,210.6 506.10,211.3 506.50,210.7 506.90,210.9 507.30,210.6 507.70,209.9 508.10,210.1 508.50,210.8 508.90,208.7 509.30,209.2 509.70,209.7 510.10,209.8 510.50,210.8 510.90,210.3 511.30,209.8 511.70,210.2 512.10,210.8 512.50,211.2 512.90,211.1 513.30,209.4 513.70,209.1 514.10,208.9 514.50,209.6 514.90,210.0 515.30,209.6 515.70,208.9 516.10,209.0 516.50,209.2 516.90,210.0 517.30,209.8 517.70,210.3 518.10,209.6 518.50,210.7 518.90,210.8 519.30,211.0 519.70,210.6 520.10,209.8 520.50,210.3 520.90,210.0 521.30,211.1 521.70,211.8 522.10,210.7 522.50,210.5 522.90,211.1 523.30,211.9 523.70,210.4 524.10,210.5 524.50,210.6 524.90,210.5 525.30,210.0 525.70,211.6 526.10,211.0 526.50,210.4 526.90,210.4 527.30,211.1 527.70,211.0 528.10,211.9 528.50,211.2 528.90,212.9 529.30,211.5 529.70,212.3 530.10,213.3 530.50,213.1 530.90,213.1 531.30,213.5 531.70,212.0 532.10,212.7 532.50,212.1 532.90,211.9 533.30,210.6 533.70,211.9 534.10,210.4 534.50,211.4 534.90,211.3 535.30,211.6 535.70,212.1 536.10,210.8 536.50,211.5 536.90,210.2 537.30,210.8 537.70,211.4 538.10,210.5 538.50,210.5 538.90,211.3 539.30,211.1 539.70,211.1 540.10,212.4 540.50,211.9 540.90,212.9 541.30,212.4 541.70,211.1 542.10,211.9 542.50,210.7 542.90,212.5 543.30,212.2 543.70,212.8 544.10,212.2 544.50,212.4 544.90,212.0 545.30,212.3 545.70,212.8 546.10,212.3 546.50,211.2 546.90,211.5 547.30,212.0 547.70,211.3 548.10,211.3 548.50,210.5 548.90,210.6 549.30,210.1 549.70,210.4 550.10,212.2 550.50,211.7 550.90,210.8 551.30,211.9 551.70,212.4 552.10,212.5 552.50,211.2 552.90,211.7 553.30,211.7 553.70,211.7 554.10,211.9 554.50,212.3 554.90,211.9 555.30,212.1 555.70,211.9 556.10,212.4 556.50,212.5 556.90,212.5 557.30,212.3 557.70,212.4 558.10,213.2 558.50,212.0 558.90,212.7 559.30,212.0 559.70,211.9 560.10,211.9 560.50,212.5 560.90,211.9 561.30,212.1 561.70,211.9 562.10,212.0 562.50,211.3 562.90,211.8 563.30,211.7 563.70,210.8 564.10,210.9 564.50,211.8 564.90,212.2 565.30,211.6 565.70,212.1 566.10,212.0 566.50,206.1 566.90,198.0 567.30,205.3 567.70,211.2 568.10,212.1 568.50,211.1 568.90,212.1 569.30,212.2 569.70,211.4 570.10,212.2 570.50,211.7 570.90,213.0 571.30,212.3 571.70,213.2 572.10,212.9 572.50,212.6 572.90,213.3 573.30,212.4 573.70,213.4 574.10,213.9 574.50,212.7 574.90,212.9 575.30,213.2 575.70,214.1 576.10,213.8 576.50,214.0 576.90,213.5 577.30,214.0 577.70,214.6 578.10,213.9 578.50,215.9 578.90,215.5 579.30,215.8 579.70,214.2 580.10,214.8 580.50,214.1 580.90,214.5 581.30,214.6 581.70,214.6 582.10,214.5 582.50,213.5 582.90,214.0 583.30,215.1 583.70,215.2 584.10,215.5 584.50,209.1 584.90,216.0 585.30,214.4 585.70,215.1 586.10,215.1 586.50,214.8 586.90,215.1 587.30,214.3 587.70,214.0 588.10,214.7 588.50,214.8 588.90,215.0 589.30,213.8 589.70,208.2 590.10,208.7 590.50,214.6 590.90,215.5 591.30,215.8 591.70,215.8 592.10,215.9 592.50,215.7 592.90,217.3 593.30,217.7 593.70,217.1 594.10,219.0 594.50,219.6 594.90,218.7 595.30,219.6 595.70,219.8 596.10,219.4 596.50,219.2 596.90,221.0 597.30,220.5 597.70,220.7 598.10,221.5 598.50,222.9 598.90,223.0 599.30,224.9 599.70,225.3 600.10,225.9 600.50,226.9 600.90,227.7 601.30,228.3 601.70,229.7 602.10,230.8 602.50,231.8 602.90,233.5 603.30,234.7 603.70,237.7 604.10,238.9 604.50,240.6 604.90,243.1 605.30,244.8 605.70,247.6 606.10,250.3 606.50,253.0 606.90,253.5 607.30,254.4 607.70,254.2 608.10,254.0 608.50,254.7 608.90,255.0 609.30,254.9 609.70,254.9 610.10,255.0 610.50,254.7 610.90,254.9 611.30,254.8 611.70,254.8 612.10,254.8 612.50,254.0 612.90,253.9 613.30,254.5 613.70,253.8 614.10,254.9 614.50,253.7 614.90,254.8 615.30,254.3 615.70,254.6 616.10,254.5 616.50,254.7 616.90,254.2 617.30,254.7 617.70,254.3 618.10,254.3 618.50,254.4 618.90,254.2 619.30,254.4 619.70,254.0 620.10,254.0 620.50,254.6 620.90,254.3 621.30,254.5 621.70,254.6 622.10,254.1 622.50,253.9 622.90,253.5 622.90,256.3 622.50,256.4 622.10,256.3 621.70,256.1 621.30,256.3 620.90,256.6 620.50,256.7 620.10,256.5 619.70,256.2 619.30,256.4 618.90,256.9 618.50,256.2 618.10,257.0 617.70,257.0 617.30,256.5 616.90,257.0 616.50,256.7 616.10,256.0 615.70,256.1 615.30,256.0 614.90,256.7 614.50,256.5 614.10,256.0 613.70,256.2 613.30,256.5 612.90,260.5 612.50,256.1 612.10,256.3 611.70,256.5 611.30,257.0 610.90,257.3 610.50,256.9 610.10,257.0 609.70,256.4 609.30,257.3 608.90,256.3 608.50,256.4 608.10,256.8 607.70,256.5 607.30,256.6 606.90,256.1 606.50,255.2 606.10,252.3 605.70,250.7 605.30,247.7 604.90,246.3 604.50,243.7 604.10,241.8 603.70,239.9 603.30,238.3 602.90,236.5 602.50,235.6 602.10,234.8 601.70,233.0 601.30,231.0 600.90,231.7 600.50,230.0 600.10,229.8 599.70,229.0 599.30,227.7 598.90,225.9 598.50,224.6 598.10,225.1 597.70,224.2 597.30,223.2 596.90,224.0 596.50,223.3 596.10,222.3 595.70,222.9 595.30,222.7 594.90,221.7 594.50,221.2 594.10,222.1 593.70,220.4 593.30,220.2 592.90,219.4 592.50,219.9 592.10,218.7 591.70,219.5 591.30,218.9 590.90,217.9 590.50,218.1 590.10,218.1 589.70,217.2 589.30,217.8 588.90,217.6 588.50,216.8 588.10,217.7 587.70,217.3 587.30,217.9 586.90,218.6 586.50,218.5 586.10,217.6 585.70,217.3 585.30,218.7 584.90,218.8 584.50,218.3 584.10,218.2 583.70,218.3 583.30,216.8 582.90,216.7 582.50,218.1 582.10,217.2 581.70,217.2 581.30,217.4 580.90,218.8 580.50,217.0 580.10,217.6 579.70,218.5 579.30,218.7 578.90,218.6 578.50,219.2 578.10,218.4 577.70,218.0 577.30,216.6 576.90,217.8 576.50,216.0 576.10,217.2 575.70,217.9 575.30,217.6 574.90,216.0 574.50,215.9 574.10,216.5 573.70,216.0 573.30,215.9 572.90,216.1 572.50,216.0 572.10,215.7 571.70,215.9 571.30,215.4 570.90,215.1 570.50,215.5 570.10,215.7 569.70,215.0 569.30,214.3 568.90,215.3 568.50,215.0 568.10,214.6 567.70,214.7 567.30,214.1 566.90,213.5 566.50,214.3 566.10,214.3 565.70,214.4 565.30,214.6 564.90,214.7 564.50,214.4 564.10,214.7 563.70,213.8 563.30,214.4 562.90,215.0 562.50,215.6 562.10,215.0 561.70,215.9 561.30,215.9 560.90,215.4 560.50,214.6 560.10,215.6 559.70,215.8 559.30,215.9 558.90,215.0 558.50,215.5 558.10,216.0 557.70,216.2 557.30,215.3 556.90,216.0 556.50,215.2 556.10,214.8 555.70,214.6 555.30,214.7 554.90,215.8 554.50,215.5 554.10,215.9 553.70,214.3 553.30,215.7 552.90,214.6 552.50,214.7 552.10,214.9 551.70,214.2 551.30,215.0 550.90,214.0 550.50,214.8 550.10,214.7 549.70,213.8 549.30,213.9 548.90,214.4 548.50,213.9 548.10,214.3 547.70,213.6 547.30,214.3 546.90,214.8 546.50,214.6 546.10,214.3 545.70,215.3 545.30,214.0 544.90,215.8 544.50,215.8 544.10,220.4 543.70,219.3 543.30,214.6 542.90,214.9 542.50,214.1 542.10,213.7 541.70,215.1 541.30,214.8 540.90,214.6 540.50,214.8 540.10,215.4 539.70,215.6 539.30,213.7 538.90,213.8 538.50,213.6 538.10,214.0 537.70,214.5 537.30,214.1 536.90,214.7 536.50,214.9 536.10,215.1 535.70,214.9 535.30,215.0 534.90,213.6 534.50,213.3 534.10,213.9 533.70,214.2 533.30,214.1 532.90,214.4 532.50,214.4 532.10,215.4 531.70,216.3 531.30,215.8 530.90,215.5 530.50,215.6 530.10,215.7 529.70,214.9 529.30,215.3 528.90,216.0 528.50,215.7 528.10,214.7 527.70,214.4 527.30,214.7 526.90,214.8 526.50,214.3 526.10,214.3 525.70,214.0 525.30,213.4 524.90,213.4 524.50,213.8 524.10,213.9 523.70,214.5 523.30,213.6 522.90,214.0 522.50,213.4 522.10,214.0 521.70,214.9 521.30,213.1 520.90,213.8 520.50,214.1 520.10,213.6 519.70,213.1 519.30,213.6 518.90,214.8 518.50,213.9 518.10,213.2 517.70,212.8 517.30,213.4 516.90,212.9 516.50,213.3 516.10,212.9 515.70,212.0 515.30,212.6 514.90,213.5 514.50,213.7 514.10,211.8 513.70,212.7 513.30,214.1 512.90,214.0 512.50,213.6 512.10,213.4 511.70,213.6 511.30,213.8 510.90,213.5 510.50,213.8 510.10,213.9 509.70,213.7 509.30,212.7 508.90,212.8 508.50,212.7 508.10,212.8 507.70,214.3 507.30,213.4 506.90,214.5 506.50,214.4 506.10,214.5 505.70,214.1 505.30,213.0 504.90,213.2 504.50,213.5 504.10,213.7 503.70,213.1 503.30,214.0 502.90,213.3 502.50,214.1 502.10,213.0 501.70,213.7 501.30,213.8 500.90,213.5 500.50,213.5 500.10,214.0 499.70,213.4 499.30,213.9 498.90,214.3 498.50,213.2 498.10,214.2 497.70,213.4 497.30,213.0 496.90,213.2 496.50,213.6 496.10,212.3 495.70,213.3 495.30,213.0 494.90,212.2 494.50,212.7 494.10,213.8 493.70,213.3 493.30,212.7 492.90,213.5 492.50,213.8 492.10,212.8 491.70,213.5 491.30,213.3 490.90,213.8 490.50,214.1 490.10,213.4 489.70,213.0 489.30,213.9 488.90,213.8 488.50,214.4 488.10,214.7 487.70,214.8 487.30,214.1 486.90,213.7 486.50,213.6 486.10,214.0 485.70,213.9 485.30,214.0 484.90,214.3 484.50,215.1 484.10,215.1 483.70,215.5 483.30,214.9 482.90,215.3 482.50,214.0 482.10,213.9 481.70,214.9 481.30,214.9 480.90,213.1 480.50,213.6 480.10,214.7 479.70,212.7 479.30,214.1 478.90,213.8 478.50,212.6 478.10,213.0 477.70,214.3 477.30,213.3 476.90,213.2 476.50,213.3 476.10,213.4 475.70,212.9 475.30,213.4 474.90,213.4 474.50,213.6 474.10,213.3 473.70,212.4 473.30,214.2 472.90,212.8 472.50,213.4 472.10,214.4 471.70,213.4 471.30,214.7 470.90,213.5 470.50,213.8 470.10,214.2 469.70,214.8 469.30,215.0 468.90,214.8 468.50,215.2 468.10,214.9 467.70,216.0 467.30,215.2 466.90,215.4 466.50,215.6 466.10,215.3 465.70,215.9 465.30,214.9 464.90,216.6 464.50,216.9 464.10,215.6 463.70,215.1 463.30,216.1 462.90,215.2 462.50,214.8 462.10,214.0 461.70,214.4 461.30,214.4 460.90,213.3 460.50,213.0 460.10,212.5 459.70,210.4 459.30,210.0 458.90,206.0 458.50,203.9 458.10,253.4 457.70,254.1 457.30,254.5 456.90,253.8 456.50,253.4 456.10,253.2 455.70,253.2 455.30,253.2 454.90,253.3 454.50,253.1 454.10,253.6 453.70,253.3 453.30,253.7 452.90,253.8 452.50,253.4 452.10,253.7 451.70,253.4 451.30,253.1 450.90,253.3 450.50,253.3 450.10,252.8 449.70,253.6 449.30,253.2 448.90,253.4 448.50,253.2 448.10,253.3 447.70,253.4 447.30,253.2 446.90,252.9 446.50,252.7 446.10,253.0 445.70,253.4 445.30,253.0 444.90,253.0 444.50,253.7 444.10,253.5 443.70,253.0 443.30,253.5 442.90,253.7 442.50,253.1 442.10,253.6 441.70,253.7 441.30,253.9 440.90,253.6 440.50,254.2 440.10,254.2 439.70,253.9 439.30,253.7 438.90,253.6 438.50,253.8 438.10,253.5 437.70,253.6 437.30,253.3 436.90,253.4 436.50,253.0 436.10,252.7 435.70,252.6 435.30,252.9 434.90,253.4 434.50,252.8 434.10,252.5 433.70,253.0 433.30,252.7 432.90,252.9 432.50,253.0 432.10,252.8 431.70,252.7 431.30,253.2 430.90,253.0 430.50,253.6 430.10,253.3 429.70,253.1 429.30,252.9 428.90,253.2 428.50,253.3 428.10,253.3 427.70,253.8 427.30,253.7 426.90,253.5 426.50,252.8 426.10,253.0 425.70,252.8 425.30,253.3 424.90,253.2 424.50,253.2 424.10,253.5 423.70,253.0 423.30,253.4 422.90,253.2 422.50,253.5 422.10,253.3 421.70,253.3 421.30,253.6 420.90,253.3 420.50,253.2 420.10,252.8 419.70,253.2 419.30,253.5 418.90,253.4 418.50,253.6 418.10,253.3 417.70,253.4 417.30,253.4 416.90,253.4 416.50,253.5 416.10,253.5 415.70,253.5 415.30,253.7 414.90,253.2 414.50,253.4 414.10,253.2 413.70,253.4 413.30,253.1 412.90,253.5 412.50,253.4 412.10,253.4 411.70,254.0Z" fill="#0a8080" stroke="#0a8080" stroke-width="0.5" stroke-linejoin="round"/>
<path d="M411.70,253.7 412.10,252.7 412.50,252.6 412.90,253.0 413.30,252.0 413.70,251.7 414.10,252.2 414.50,252.4 414.90,253.1 415.30,252.6 415.70,253.6 416.10,253.3 416.50,253.0 416.90,253.1 417.30,252.0 417.70,253.9 418.10,253.0 418.50,252.8 418.90,252.9 419.30,252.2 419.70,253.6 420.10,252.8 420.50,253.3 420.90,252.7 421.30,252.2 421.70,252.1 422.10,252.6 422.50,251.3 422.90,253.2 423.30,253.0 423.70,252.3 424.10,252.1 424.50,251.5 424.90,252.0 425.30,252.2 425.70,252.5 426.10,253.3 426.50,251.8 426.90,253.1 427.30,253.5 427.70,253.2 428.10,253.2 428.50,252.5 428.90,252.4 429.30,251.7 429.70,252.5 430.10,251.7 430.50,253.6 430.90,252.9 431.30,252.5 431.70,251.8 432.10,251.6 432.50,252.0 432.90,253.0 433.30,252.5 433.70,253.0 434.10,251.6 434.50,251.9 434.90,251.3 435.30,252.1 435.70,252.4 436.10,253.4 436.50,252.0 436.90,252.7 437.30,252.9 437.70,251.3 438.10,253.6 438.50,253.7 438.90,252.4 439.30,253.4 439.70,252.3 440.10,252.1 440.50,253.7 440.90,252.7 441.30,253.7 441.70,252.9 442.10,253.5 442.50,252.7 442.90,252.3 443.30,253.0 443.70,253.1 444.10,251.6 444.50,252.2 444.90,251.8 445.30,252.4 445.70,251.8 446.10,252.3 446.50,251.1 446.90,253.2 447.30,252.3 447.70,251.2 448.10,251.5 448.50,252.5 448.90,253.5 449.30,252.9 449.70,252.7 450.10,251.6 450.50,253.4 450.90,252.4 451.30,252.2 451.70,253.4 452.10,251.5 452.50,252.5 452.90,253.0 453.30,252.6 453.70,254.0 454.10,252.7 454.50,252.7 454.90,251.8 455.30,253.9 455.70,252.9 456.10,253.3 456.50,253.0 456.90,253.3 457.30,254.6 457.70,253.6 458.10,254.5 458.50,200.3 458.90,196.2 459.30,203.2 459.70,206.4 460.10,210.0 460.50,215.3 460.90,209.0 461.30,215.1 461.70,215.8 462.10,213.8 462.50,212.1 462.90,214.3 463.30,216.5 463.70,216.9 464.10,216.0 464.50,211.8 464.90,214.0 465.30,213.7 465.70,216.3 466.10,213.6 466.50,211.1 466.90,214.6 467.30,213.1 467.70,214.0 468.10,214.7 468.50,211.0 468.90,215.2 469.30,213.8 469.70,215.0 470.10,211.1 470.50,212.4 470.90,209.7 471.30,212.8 471.70,212.8 472.10,210.9 472.50,209.1 472.90,210.5 473.30,209.1 473.70,212.4 474.10,214.8 474.50,212.3 474.90,210.0 475.30,211.5 475.70,211.6 476.10,214.5 476.50,213.5 476.90,212.6 477.30,212.6 477.70,210.1 478.10,213.2 478.50,210.7 478.90,209.0 479.30,209.6 479.70,210.9 480.10,213.1 480.50,212.6 480.90,210.6 481.30,211.1 481.70,213.4 482.10,211.0 482.50,211.7 482.90,213.6 483.30,212.7 483.70,212.7 484.10,216.0 484.50,213.0 484.90,215.4 485.30,215.6 485.70,211.0 486.10,213.0 486.50,214.1 486.90,214.1 487.30,211.2 487.70,210.6 488.10,212.8 488.50,210.3 488.90,210.6 489.30,214.2 489.70,212.5 490.10,213.6 490.50,212.0 490.90,212.1 491.30,213.1 491.70,211.0 492.10,212.5 492.50,209.0 492.90,212.7 493.30,212.3 493.70,213.6 494.10,214.1 494.50,211.7 494.90,211.1 495.30,209.5 495.70,211.9 496.10,213.1 496.50,213.0 496.90,212.0 497.30,211.5 497.70,210.3 498.10,209.6 498.50,211.1 498.90,213.6 499.30,213.5 499.70,212.9 500.10,211.9 500.50,212.3 500.90,208.9 501.30,209.1 501.70,212.2 502.10,213.6 502.50,213.0 502.90,212.3 503.30,214.8 503.70,212.2 504.10,209.9 504.50,214.2 504.90,214.0 505.30,211.8 505.70,210.0 506.10,213.4 506.50,214.7 506.90,212.9 507.30,211.7 507.70,209.6 508.10,211.2 508.50,208.8 508.90,211.3 509.30,212.9 509.70,211.7 510.10,211.3 510.50,214.2 510.90,212.4 511.30,213.1 511.70,210.9 512.10,213.7 512.50,211.4 512.90,212.4 513.30,213.8 513.70,209.4 514.10,208.9 514.50,212.1 514.90,213.3 515.30,214.1 515.70,208.2 516.10,211.2 516.50,208.8 516.90,209.7 517.30,212.0 517.70,211.0 518.10,213.3 518.50,212.5 518.90,213.2 519.30,212.4 519.70,211.8 520.10,213.0 520.50,212.0 520.90,212.1 521.30,209.5 521.70,212.5 522.10,209.3 522.50,209.4 522.90,214.7 523.30,213.9 523.70,210.4 524.10,215.0 524.50,212.9 524.90,213.3 525.30,212.5 525.70,213.7 526.10,212.0 526.50,212.7 526.90,213.5 527.30,210.4 527.70,212.1 528.10,214.2 528.50,214.0 528.90,213.8 529.30,216.3 529.70,212.6 530.10,214.9 530.50,215.7 530.90,214.6 531.30,213.4 531.70,216.2 532.10,212.0 532.50,214.1 532.90,215.4 533.30,214.6 533.70,214.3 534.10,209.5 534.50,214.3 534.90,210.9 535.30,209.8 535.70,213.6 536.10,213.4 536.50,214.6 536.90,214.5 537.30,210.1 537.70,209.7 538.10,214.7 538.50,212.9 538.90,215.1 539.30,213.3 539.70,211.8 540.10,213.2 540.50,214.4 540.90,214.2 541.30,213.4 541.70,214.4 542.10,212.5 542.50,214.0 542.90,212.3 543.30,212.5 543.70,213.2 544.10,214.7 544.50,211.6 544.90,214.8 545.30,212.2 545.70,213.3 546.10,215.8 546.50,213.9 546.90,212.4 547.30,210.6 547.70,211.3 548.10,214.3 548.50,214.0 548.90,214.8 549.30,211.1 549.70,212.8 550.10,214.7 550.50,212.6 550.90,212.5 551.30,210.0 551.70,213.5 552.10,212.9 552.50,214.9 552.90,213.4 553.30,211.9 553.70,214.9 554.10,212.9 554.50,213.0 554.90,212.1 555.30,211.4 555.70,214.9 556.10,213.6 556.50,212.5 556.90,215.8 557.30,216.2 557.70,215.5 558.10,215.4 558.50,215.7 558.90,215.9 559.30,213.6 559.70,214.0 560.10,214.6 560.50,213.1 560.90,211.2 561.30,214.3 561.70,213.6 562.10,211.6 562.50,211.7 562.90,213.0 563.30,210.3 563.70,212.4 564.10,212.5 564.50,213.6 564.90,213.8 565.30,214.5 565.70,213.0 566.10,211.8 566.50,212.9 566.90,211.5 567.30,212.3 567.70,215.4 568.10,214.6 568.50,214.4 568.90,212.5 569.30,212.1 569.70,212.3 570.10,211.9 570.50,215.6 570.90,211.5 571.30,214.3 571.70,211.3 572.10,211.3 572.50,214.8 572.90,212.9 573.30,214.6 573.70,211.8 574.10,214.9 574.50,214.5 574.90,213.2 575.30,214.5 575.70,216.3 576.10,214.9 576.50,217.9 576.90,216.4 577.30,214.5 577.70,212.5 578.10,216.3 578.50,217.9 578.90,218.2 579.30,215.3 579.70,216.1 580.10,216.7 580.50,216.6 580.90,216.6 581.30,214.6 581.70,215.9 582.10,216.5 582.50,218.3 582.90,213.8 583.30,216.1 583.70,215.3 584.10,217.9 584.50,215.4 584.90,213.5 585.30,214.4 585.70,215.6 586.10,215.7 586.50,216.2 586.90,214.9 587.30,216.7 587.70,216.1 588.10,215.6 588.50,215.1 588.90,216.5 589.30,218.2 589.70,215.4 590.10,216.5 590.50,215.9 590.90,217.0 591.30,219.7 591.70,215.5 592.10,218.0 592.50,216.3 592.90,220.3 593.30,220.2 593.70,220.0 594.10,219.2 594.50,218.5 594.90,219.3 595.30,222.3 595.70,218.9 596.10,220.6 596.50,221.6 596.90,220.4 597.30,219.7 597.70,223.3 598.10,223.3 598.50,221.5 598.90,225.9 599.30,227.8 599.70,226.9 600.10,226.1 600.50,225.4 600.90,229.1 601.30,232.8 601.70,230.6 602.10,230.0 602.50,233.8 602.90,236.3 603.30,234.9 603.70,237.0 604.10,242.9 604.50,241.8 604.90,243.2 605.30,248.1 605.70,246.7 606.10,253.1 606.50,253.6 606.90,254.2 607.30,254.4 607.70,254.5 608.10,256.6 608.50,255.8 608.90,255.5 609.30,256.6 609.70,254.7 610.10,254.7 610.50,255.8 610.90,257.2 611.30,256.8 611.70,255.5 612.10,256.4 612.50,256.5 612.90,256.5 613.30,255.0 613.70,255.2 614.10,253.3 614.50,253.9 614.90,255.4 615.30,255.2 615.70,255.0 616.10,256.8 616.50,256.5 616.90,255.9 617.30,255.9 617.70,254.8 618.10,255.9 618.50,255.2 618.90,254.1 619.30,255.0 619.70,257.3 620.10,257.0 620.50,254.4 620.90,254.4 621.30,255.9 621.70,255.5 622.10,254.0 622.50,256.8 622.90,253.3" fill="none" stroke="#0a8080" stroke-width="0.45" stroke-linejoin="bevel"/>
<polygon points="425.36,250.74 425.96,252.44 427.66,252.44 426.26,253.54 426.76,255.24 425.36,254.24 423.96,255.24 424.46,253.54 423.06,252.44 424.76,252.44" fill="#fff" stroke="#0a8080" stroke-width="0.7"/>
<polygon points="434.05,250.66 434.65,252.36 436.35,252.36 434.95,253.46 435.45,255.16 434.05,254.16 432.65,255.16 433.15,253.46 431.75,252.36 433.45,252.36" fill="#fff" stroke="#0a8080" stroke-width="0.7"/>
<polygon points="442.74,250.56 443.34,252.26 445.04,252.26 443.64,253.36 444.14,255.06 442.74,254.06 441.34,255.06 441.84,253.36 440.44,252.26 442.14,252.26" fill="#fff" stroke="#0a8080" stroke-width="0.7"/>
<polygon points="451.44,250.51 452.04,252.21 453.74,252.21 452.34,253.31 452.84,255.01 451.44,254.01 450.04,255.01 450.54,253.31 449.14,252.21 450.84,252.21" fill="#fff" stroke="#0a8080" stroke-width="0.7"/>
<polygon points="460.13,205.97 460.73,207.67 462.43,207.67 461.03,208.77 461.53,210.47 460.13,209.47 458.73,210.47 459.23,208.77 457.83,207.67 459.53,207.67" fill="#fff" stroke="#0a8080" stroke-width="0.7"/>
<polygon points="468.82,210.84 469.42,212.54 471.12,212.54 469.72,213.64 470.22,215.34 468.82,214.34 467.42,215.34 467.92,213.64 466.52,212.54 468.22,212.54" fill="#fff" stroke="#0a8080" stroke-width="0.7"/>
<polygon points="477.51,209.81 478.11,211.51 479.81,211.51 478.41,212.61 478.91,214.31 477.51,213.31 476.11,214.31 476.61,212.61 475.21,211.51 476.91,211.51" fill="#fff" stroke="#0a8080" stroke-width="0.7"/>
<polygon points="486.21,209.79 486.81,211.49 488.51,211.49 487.11,212.59 487.61,214.29 486.21,213.29 484.81,214.29 485.31,212.59 483.91,211.49 485.61,211.49" fill="#fff" stroke="#0a8080" stroke-width="0.7"/>
<polygon points="494.9,209.43 495.5,211.13 497.2,211.13 495.8,212.23 496.3,213.93 494.9,212.93 493.5,213.93 494,212.23 492.6,211.13 494.3,211.13" fill="#fff" stroke="#0a8080" stroke-width="0.7"/>
<polygon points="503.59,209.46 504.19,211.16 505.89,211.16 504.49,212.26 504.99,213.96 503.59,212.96 502.19,213.96 502.69,212.26 501.29,211.16 502.99,211.16" fill="#fff" stroke="#0a8080" stroke-width="0.7"/>
<polygon points="512.28,209.65 512.88,211.35 514.58,211.35 513.18,212.45 513.68,214.15 512.28,213.15 510.88,214.15 511.38,212.45 509.98,211.35 511.68,211.35" fill="#fff" stroke="#0a8080" stroke-width="0.7"/>
<polygon points="520.98,210.17 521.58,211.87 523.28,211.87 521.88,212.97 522.38,214.67 520.98,213.67 519.58,214.67 520.08,212.97 518.68,211.87 520.38,211.87" fill="#fff" stroke="#0a8080" stroke-width="0.7"/>
<polygon points="529.67,210.09 530.27,211.79 531.97,211.79 530.57,212.89 531.07,214.59 529.67,213.59 528.27,214.59 528.77,212.89 527.37,211.79 529.07,211.79" fill="#fff" stroke="#0a8080" stroke-width="0.7"/>
<polygon points="538.36,209.96 538.96,211.66 540.66,211.66 539.26,212.76 539.76,214.46 538.36,213.46 536.96,214.46 537.46,212.76 536.06,211.66 537.76,211.66" fill="#fff" stroke="#0a8080" stroke-width="0.7"/>
<polygon points="547.05,210.65 547.65,212.35 549.35,212.35 547.95,213.45 548.45,215.15 547.05,214.15 545.65,215.15 546.15,213.45 544.75,212.35 546.45,212.35" fill="#fff" stroke="#0a8080" stroke-width="0.7"/>
<polygon points="555.74,210.75 556.34,212.45 558.04,212.45 556.64,213.55 557.14,215.25 555.74,214.25 554.34,215.25 554.84,213.55 553.44,212.45 555.14,212.45" fill="#fff" stroke="#0a8080" stroke-width="0.7"/>
<polygon points="564.44,211.18 565.04,212.88 566.74,212.88 565.34,213.98 565.84,215.68 564.44,214.68 563.04,215.68 563.54,213.98 562.14,212.88 563.84,212.88" fill="#fff" stroke="#0a8080" stroke-width="0.7"/>
<polygon points="573.13,212.54 573.73,214.24 575.43,214.24 574.03,215.34 574.53,217.04 573.13,216.04 571.73,217.04 572.23,215.34 570.83,214.24 572.53,214.24" fill="#fff" stroke="#0a8080" stroke-width="0.7"/>
<polygon points="581.82,213.31 582.42,215.01 584.12,215.01 582.72,216.11 583.22,217.81 581.82,216.81 580.42,217.81 580.92,216.11 579.52,215.01 581.22,215.01" fill="#fff" stroke="#0a8080" stroke-width="0.7"/>
<polygon points="590.51,214.01 591.11,215.71 592.81,215.71 591.41,216.81 591.91,218.51 590.51,217.51 589.11,218.51 589.61,216.81 588.21,215.71 589.91,215.71" fill="#fff" stroke="#0a8080" stroke-width="0.7"/>
<polygon points="599.21,222.38 599.81,224.08 601.51,224.08 600.11,225.18 600.61,226.88 599.21,225.88 597.81,226.88 598.31,225.18 596.91,224.08 598.61,224.08" fill="#fff" stroke="#0a8080" stroke-width="0.7"/>
<polygon points="607.9,252.88 608.5,254.58 610.2,254.58 608.8,255.68 609.3,257.38 607.9,256.38 606.5,257.38 607,255.68 605.6,254.58 607.3,254.58" fill="#fff" stroke="#0a8080" stroke-width="0.7"/>
<polygon points="616.59,252.56 617.19,254.26 618.89,254.26 617.49,255.36 617.99,257.06 616.59,256.06 615.19,257.06 615.69,255.36 614.29,254.26 615.99,254.26" fill="#fff" stroke="#0a8080" stroke-width="0.7"/>
<polygon points="566.92,195.12 567.52,196.82 569.22,196.82 567.82,197.92 568.32,199.62 566.92,198.62 565.52,199.62 566.02,197.92 564.62,196.82 566.32,196.82" fill="#fff" stroke="#0a8080" stroke-width="0.7"/>
<path d="M411.70,253.9 412.10,253.9 412.50,254.3 412.90,254.4 413.30,254.2 413.70,254.2 414.10,254.3 414.50,254.1 414.90,254.3 415.30,254.4 415.70,254.2 416.10,254.5 416.50,254.5 416.90,254.3 417.30,254.2 417.70,254.8 418.10,254.5 418.50,254.4 418.90,254.9 419.30,254.8 419.70,254.3 420.10,254.6 420.50,254.4 420.90,254.4 421.30,254.7 421.70,254.5 422.10,254.7 422.50,254.8 422.90,254.8 423.30,254.8 423.70,254.4 424.10,254.1 424.50,254.2 424.90,254.1 425.30,254.0 425.70,254.1 426.10,254.0 426.50,254.1 426.90,254.1 427.30,254.0 427.70,253.9 428.10,254.4 428.50,254.1 428.90,254.2 429.30,254.0 429.70,254.4 430.10,254.0 430.50,254.7 430.90,254.6 431.30,254.0 431.70,254.3 432.10,254.0 432.50,254.4 432.90,254.1 433.30,254.0 433.70,254.3 434.10,253.8 434.50,253.5 434.90,253.9 435.30,253.8 435.70,254.2 436.10,253.5 436.50,254.2 436.90,253.6 437.30,253.4 437.70,253.7 438.10,253.6 438.50,253.5 438.90,253.6 439.30,253.7 439.70,253.6 440.10,253.8 440.50,253.2 440.90,253.7 441.30,253.5 441.70,253.4 442.10,253.5 442.50,253.6 442.90,253.7 443.30,253.4 443.70,253.1 444.10,253.4 444.50,253.0 444.90,253.6 445.30,253.2 445.70,253.3 446.10,253.4 446.50,253.0 446.90,253.6 447.30,252.9 447.70,253.4 448.10,253.1 448.50,253.2 448.90,253.3 449.30,253.5 449.70,253.7 450.10,253.2 450.50,253.4 450.90,253.8 451.30,253.7 451.70,254.3 452.10,253.9 452.50,253.7 452.90,253.8 453.30,254.1 453.70,253.2 454.10,253.5 454.50,253.8 454.90,254.0 455.30,254.3 455.70,253.4 456.10,253.9 456.50,253.9 456.90,254.5 457.30,254.3 457.70,254.0 458.10,253.9 458.50,212.6 458.90,212.3 459.30,213.7 459.70,217.6 460.10,216.4 460.50,219.4 460.90,218.3 461.30,219.9 461.70,219.4 462.10,220.2 462.50,220.4 462.90,219.6 463.30,220.9 463.70,220.5 464.10,221.7 464.50,221.5 464.90,220.6 465.30,220.7 465.70,221.9 466.10,221.0 466.50,221.7 466.90,221.9 467.30,221.8 467.70,222.3 468.10,222.1 468.50,221.4 468.90,222.2 469.30,221.0 469.70,220.6 470.10,221.8 470.50,221.6 470.90,221.3 471.30,220.8 471.70,220.3 472.10,221.5 472.50,220.5 472.90,221.6 473.30,220.2 473.70,220.8 474.10,221.8 474.50,221.6 474.90,221.3 475.30,221.4 475.70,220.9 476.10,220.5 476.50,220.2 476.90,221.5 477.30,221.6 477.70,220.9 478.10,220.8 478.50,220.4 478.90,220.6 479.30,220.5 479.70,220.4 480.10,221.3 480.50,220.7 480.90,220.3 481.30,221.9 481.70,220.8 482.10,221.6 482.50,221.3 482.90,221.9 483.30,221.5 483.70,221.4 484.10,220.9 484.50,222.1 484.90,221.3 485.30,222.1 485.70,222.4 486.10,223.2 486.50,221.9 486.90,222.4 487.30,222.5 487.70,222.1 488.10,222.4 488.50,223.3 488.90,223.2 489.30,222.7 489.70,223.7 490.10,223.3 490.50,223.6 490.90,224.2 491.30,223.8 491.70,223.8 492.10,223.6 492.50,223.4 492.90,218.7 493.30,222.3 493.70,222.9 494.10,222.4 494.50,222.6 494.90,223.2 495.30,223.5 495.70,222.7 496.10,222.0 496.50,222.4 496.90,222.2 497.30,222.2 497.70,222.3 498.10,223.0 498.50,222.7 498.90,222.4 499.30,222.9 499.70,222.2 500.10,223.4 500.50,223.0 500.90,223.4 501.30,223.4 501.70,223.4 502.10,222.1 502.50,222.3 502.90,222.7 503.30,223.2 503.70,222.3 504.10,223.4 504.50,223.2 504.90,222.5 505.30,223.6 505.70,222.3 506.10,222.2 506.50,223.5 506.90,222.4 507.30,222.6 507.70,222.6 508.10,222.2 508.50,220.9 508.90,221.2 509.30,221.5 509.70,221.2 510.10,221.5 510.50,222.3 510.90,220.8 511.30,220.6 511.70,220.9 512.10,220.6 512.50,221.7 512.90,220.8 513.30,221.0 513.70,220.5 514.10,220.8 514.50,221.0 514.90,220.6 515.30,221.8 515.70,220.5 516.10,221.4 516.50,222.0 516.90,221.9 517.30,221.1 517.70,220.1 518.10,220.1 518.50,221.3 518.90,221.6 519.30,221.8 519.70,220.7 520.10,220.9 520.50,220.1 520.90,221.3 521.30,220.3 521.70,221.2 522.10,220.4 522.50,222.0 522.90,221.4 523.30,222.6 523.70,222.2 524.10,221.9 524.50,223.1 524.90,221.4 525.30,222.5 525.70,222.7 526.10,221.8 526.50,221.6 526.90,222.2 527.30,222.7 527.70,222.4 528.10,221.4 528.50,222.9 528.90,221.5 529.30,222.3 529.70,222.9 530.10,222.0 530.50,223.2 530.90,222.6 531.30,222.4 531.70,222.6 532.10,221.8 532.50,222.9 532.90,222.7 533.30,222.1 533.70,223.0 534.10,222.9 534.50,222.2 534.90,222.5 535.30,222.2 535.70,222.3 536.10,221.2 536.50,221.2 536.90,222.2 537.30,221.8 537.70,221.0 538.10,221.9 538.50,222.1 538.90,222.0 539.30,221.0 539.70,221.1 540.10,222.3 540.50,221.7 540.90,220.8 541.30,221.0 541.70,216.6 542.10,221.3 542.50,222.2 542.90,222.9 543.30,222.6 543.70,221.8 544.10,222.7 544.50,222.6 544.90,222.6 545.30,222.7 545.70,222.6 546.10,222.2 546.50,223.0 546.90,223.4 547.30,223.1 547.70,223.5 548.10,222.5 548.50,222.2 548.90,222.4 549.30,222.7 549.70,222.8 550.10,223.0 550.50,222.7 550.90,223.0 551.30,221.8 551.70,222.7 552.10,222.8 552.50,222.7 552.90,223.3 553.30,224.1 553.70,223.9 554.10,222.3 554.50,223.5 554.90,222.9 555.30,224.3 555.70,224.3 556.10,224.4 556.50,223.3 556.90,223.9 557.30,222.4 557.70,223.3 558.10,222.3 558.50,223.0 558.90,222.5 559.30,224.0 559.70,223.4 560.10,223.5 560.50,222.5 560.90,223.3 561.30,223.4 561.70,223.3 562.10,224.4 562.50,223.6 562.90,224.3 563.30,224.1 563.70,224.1 564.10,224.7 564.50,224.2 564.90,223.0 565.30,223.9 565.70,223.9 566.10,222.7 566.50,220.1 566.90,214.7 567.30,219.5 567.70,223.7 568.10,222.8 568.50,222.9 568.90,223.6 569.30,223.0 569.70,224.4 570.10,223.2 570.50,224.1 570.90,224.1 571.30,223.8 571.70,223.6 572.10,224.1 572.50,224.6 572.90,223.5 573.30,223.1 573.70,224.6 574.10,224.7 574.50,223.4 574.90,224.4 575.30,223.7 575.70,225.2 576.10,224.3 576.50,225.3 576.90,224.7 577.30,224.4 577.70,224.4 578.10,225.6 578.50,225.8 578.90,225.6 579.30,225.2 579.70,225.3 580.10,225.3 580.50,225.9 580.90,226.0 581.30,226.0 581.70,225.7 582.10,225.4 582.50,225.8 582.90,226.2 583.30,225.9 583.70,226.5 584.10,225.0 584.50,225.1 584.90,225.2 585.30,226.0 585.70,226.1 586.10,225.8 586.50,226.1 586.90,225.1 587.30,226.2 587.70,226.1 588.10,227.6 588.50,226.6 588.90,227.8 589.30,227.5 589.70,227.6 590.10,226.4 590.50,227.5 590.90,227.2 591.30,227.6 591.70,227.0 592.10,227.1 592.50,228.0 592.90,228.0 593.30,227.8 593.70,227.7 594.10,228.7 594.50,228.5 594.90,228.4 595.30,229.8 595.70,229.4 596.10,229.1 596.50,230.2 596.90,229.5 597.30,229.9 597.70,229.5 598.10,231.0 598.50,230.3 598.90,231.3 599.30,232.0 599.70,233.2 600.10,233.6 600.50,235.0 600.90,235.3 601.30,235.7 601.70,236.7 602.10,237.3 602.50,239.3 602.90,238.8 603.30,240.6 603.70,243.3 604.10,244.6 604.50,246.7 604.90,248.6 605.30,251.2 605.70,254.3 606.10,257.3 606.50,261.2 606.90,261.9 607.30,262.5 607.70,262.5 608.10,261.8 608.50,262.3 608.90,262.1 609.30,261.8 609.70,261.7 610.10,261.7 610.50,261.9 610.90,263.0 611.30,262.7 611.70,262.6 612.10,262.6 612.50,262.6 612.90,263.0 613.30,263.2 613.70,263.5 614.10,263.1 614.50,263.7 614.90,259.1 615.30,262.7 615.70,262.8 616.10,262.7 616.50,263.1 616.90,262.9 617.30,261.9 617.70,262.6 618.10,263.4 618.50,263.7 618.90,263.1 619.30,263.1 619.70,262.9 620.10,263.2 620.50,263.0 620.90,262.6 621.30,263.3 621.70,263.5 622.10,263.5 622.50,263.2 622.90,263.4 622.90,264.6 622.50,265.7 622.10,264.8 621.70,265.8 621.30,269.2 620.90,265.0 620.50,265.4 620.10,265.3 619.70,265.2 619.30,265.1 618.90,265.2 618.50,265.3 618.10,265.3 617.70,265.3 617.30,264.4 616.90,264.9 616.50,264.3 616.10,265.5 615.70,265.6 615.30,265.0 614.90,265.4 614.50,265.3 614.10,265.4 613.70,265.3 613.30,264.5 612.90,264.5 612.50,265.5 612.10,265.1 611.70,265.2 611.30,264.8 610.90,264.2 610.50,264.2 610.10,264.0 609.70,263.6 609.30,263.7 608.90,264.0 608.50,264.0 608.10,263.9 607.70,264.6 607.30,264.5 606.90,264.1 606.50,263.4 606.10,260.7 605.70,256.0 605.30,253.2 604.90,252.1 604.50,249.5 604.10,248.7 603.70,245.5 603.30,243.2 602.90,242.1 602.50,242.2 602.10,239.7 601.70,239.1 601.30,238.4 600.90,237.4 600.50,236.6 600.10,237.1 599.70,235.7 599.30,234.9 598.90,235.2 598.50,234.5 598.10,232.6 597.70,233.8 597.30,232.6 596.90,232.4 596.50,232.0 596.10,232.0 595.70,232.6 595.30,232.8 594.90,231.9 594.50,231.6 594.10,232.3 593.70,231.4 593.30,230.3 592.90,229.8 592.50,229.6 592.10,230.0 591.70,230.0 591.30,229.9 590.90,229.7 590.50,230.3 590.10,229.3 589.70,230.3 589.30,229.5 588.90,230.2 588.50,229.4 588.10,229.3 587.70,229.6 587.30,229.3 586.90,228.7 586.50,227.9 586.10,228.9 585.70,228.0 585.30,229.2 584.90,228.3 584.50,227.5 584.10,227.7 583.70,228.7 583.30,229.1 582.90,228.7 582.50,228.7 582.10,228.3 581.70,228.6 581.30,227.9 580.90,228.2 580.50,228.8 580.10,228.2 579.70,228.4 579.30,228.5 578.90,228.9 578.50,228.8 578.10,227.9 577.70,227.4 577.30,227.2 576.90,228.4 576.50,228.5 576.10,228.2 575.70,227.1 575.30,227.7 574.90,226.3 574.50,226.3 574.10,227.5 573.70,227.6 573.30,226.8 572.90,227.2 572.50,227.3 572.10,226.8 571.70,225.8 571.30,226.6 570.90,226.2 570.50,226.8 570.10,226.1 569.70,226.2 569.30,225.9 568.90,226.4 568.50,226.2 568.10,226.7 567.70,226.5 567.30,226.5 566.90,226.1 566.50,225.7 566.10,226.8 565.70,226.4 565.30,227.2 564.90,226.7 564.50,226.5 564.10,227.4 563.70,226.6 563.30,227.0 562.90,227.3 562.50,226.8 562.10,226.9 561.70,226.1 561.30,227.0 560.90,225.8 560.50,225.8 560.10,225.7 559.70,225.4 559.30,225.9 558.90,226.2 558.50,226.1 558.10,226.3 557.70,226.1 557.30,225.6 556.90,226.0 556.50,226.2 556.10,227.1 555.70,225.8 555.30,226.6 554.90,226.3 554.50,225.8 554.10,226.6 553.70,225.6 553.30,226.2 552.90,226.5 552.50,226.2 552.10,225.8 551.70,225.2 551.30,225.4 550.90,224.6 550.50,225.4 550.10,225.7 549.70,225.6 549.30,224.3 548.90,225.0 548.50,226.0 548.10,225.4 547.70,224.9 547.30,225.6 546.90,225.7 546.50,225.3 546.10,225.2 545.70,225.2 545.30,225.3 544.90,225.2 544.50,225.8 544.10,230.1 543.70,229.5 543.30,225.1 542.90,224.9 542.50,224.2 542.10,223.9 541.70,223.7 541.30,224.5 540.90,224.3 540.50,223.7 540.10,224.1 539.70,224.4 539.30,224.9 538.90,224.7 538.50,223.9 538.10,224.6 537.70,224.4 537.30,224.6 536.90,224.9 536.50,225.0 536.10,225.4 535.70,225.2 535.30,224.8 534.90,225.2 534.50,225.2 534.10,225.3 533.70,226.4 533.30,225.2 532.90,225.8 532.50,226.0 532.10,225.8 531.70,225.0 531.30,225.9 530.90,225.6 530.50,225.3 530.10,226.1 529.70,225.7 529.30,225.3 528.90,224.4 528.50,225.6 528.10,225.2 527.70,225.1 527.30,225.0 526.90,224.6 526.50,224.5 526.10,225.8 525.70,225.7 525.30,224.8 524.90,224.2 524.50,224.7 524.10,224.8 523.70,225.5 523.30,224.9 522.90,224.2 522.50,224.1 522.10,224.2 521.70,223.9 521.30,224.4 520.90,223.3 520.50,223.7 520.10,222.9 519.70,223.6 519.30,223.9 518.90,224.4 518.50,224.5 518.10,223.1 517.70,224.3 517.30,224.6 516.90,224.6 516.50,225.0 516.10,224.3 515.70,223.6 515.30,223.5 514.90,224.3 514.50,222.9 514.10,223.6 513.70,223.8 513.30,224.6 512.90,224.1 512.50,223.4 512.10,224.6 511.70,224.6 511.30,224.3 510.90,224.7 510.50,224.7 510.10,224.6 509.70,224.4 509.30,224.2 508.90,224.8 508.50,224.6 508.10,224.3 507.70,224.9 507.30,225.7 506.90,224.7 506.50,225.7 506.10,226.0 505.70,226.1 505.30,225.6 504.90,226.0 504.50,225.4 504.10,226.5 503.70,225.7 503.30,225.6 502.90,225.0 502.50,226.0 502.10,225.5 501.70,226.8 501.30,226.7 500.90,225.4 500.50,225.6 500.10,226.7 499.70,226.5 499.30,225.8 498.90,225.7 498.50,225.1 498.10,225.1 497.70,224.9 497.30,225.7 496.90,225.3 496.50,225.2 496.10,224.8 495.70,225.7 495.30,225.4 494.90,226.1 494.50,225.6 494.10,225.2 493.70,225.4 493.30,226.2 492.90,225.5 492.50,226.0 492.10,225.5 491.70,226.3 491.30,226.1 490.90,226.7 490.50,225.6 490.10,225.6 489.70,225.8 489.30,225.0 488.90,225.1 488.50,224.8 488.10,225.8 487.70,224.7 487.30,224.7 486.90,225.0 486.50,225.3 486.10,224.8 485.70,225.9 485.30,225.7 484.90,225.1 484.50,225.1 484.10,224.6 483.70,224.2 483.30,223.7 482.90,224.1 482.50,223.8 482.10,223.4 481.70,223.7 481.30,224.6 480.90,223.4 480.50,223.6 480.10,223.7 479.70,223.9 479.30,223.9 478.90,223.9 478.50,223.9 478.10,224.5 477.70,224.3 477.30,224.0 476.90,224.1 476.50,224.1 476.10,224.7 475.70,224.4 475.30,223.5 474.90,224.0 474.50,223.8 474.10,224.6 473.70,223.4 473.30,223.3 472.90,224.6 472.50,224.1 472.10,223.4 471.70,224.1 471.30,224.8 470.90,223.6 470.50,225.3 470.10,224.3 469.70,224.9 469.30,224.2 468.90,225.1 468.50,224.5 468.10,225.3 467.70,224.4 467.30,225.6 466.90,224.6 466.50,224.9 466.10,224.8 465.70,224.1 465.30,224.7 464.90,224.3 464.50,224.6 464.10,224.2 463.70,224.3 463.30,224.2 462.90,223.9 462.50,223.6 462.10,223.6 461.70,223.4 461.30,223.6 460.90,222.9 460.50,222.2 460.10,222.4 459.70,223.2 459.30,220.7 458.90,220.3 458.50,223.7 458.10,255.4 457.70,255.7 457.30,255.2 456.90,255.4 456.50,255.2 456.10,255.1 455.70,255.1 455.30,255.3 454.90,255.4 454.50,255.4 454.10,255.1 453.70,255.2 453.30,255.0 452.90,255.6 452.50,255.7 452.10,255.8 451.70,255.8 451.30,255.6 450.90,255.0 450.50,255.4 450.10,254.6 449.70,254.8 449.30,254.6 448.90,254.6 448.50,254.9 448.10,254.6 447.70,255.0 447.30,254.3 446.90,254.9 446.50,254.4 446.10,254.5 445.70,254.7 445.30,255.2 444.90,255.2 444.50,254.9 444.10,254.8 443.70,254.9 443.30,254.3 442.90,254.6 442.50,255.0 442.10,256.9 441.70,255.2 441.30,254.8 440.90,254.5 440.50,254.7 440.10,255.5 439.70,255.2 439.30,254.9 438.90,255.3 438.50,255.1 438.10,254.8 437.70,255.1 437.30,255.3 436.90,255.1 436.50,255.1 436.10,255.1 435.70,255.7 435.30,255.5 434.90,255.6 434.50,255.2 434.10,255.7 433.70,255.0 433.30,255.2 432.90,255.2 432.50,255.2 432.10,255.6 431.70,255.9 431.30,255.6 430.90,255.8 430.50,256.2 430.10,255.7 429.70,255.8 429.30,256.0 428.90,255.7 428.50,255.9 428.10,256.0 427.70,255.7 427.30,255.3 426.90,255.7 426.50,255.5 426.10,255.5 425.70,255.7 425.30,255.8 424.90,255.3 424.50,256.0 424.10,256.2 423.70,255.7 423.30,256.2 422.90,256.2 422.50,255.9 422.10,256.6 421.70,256.2 421.30,256.4 420.90,256.0 420.50,259.0 420.10,256.2 419.70,256.1 419.30,255.9 418.90,256.5 418.50,255.7 418.10,255.9 417.70,255.7 417.30,255.9 416.90,256.1 416.50,255.9 416.10,255.6 415.70,255.2 415.30,255.5 414.90,255.7 414.50,255.8 414.10,255.9 413.70,255.9 413.30,255.5 412.90,255.9 412.50,255.3 412.10,255.8 411.70,255.2Z" fill="#ff00ff" stroke="#ff00ff" stroke-width="0.5" stroke-linejoin="round"/>
<path d="M411.70,254.8 412.10,254.4 412.50,253.6 412.90,255.3 413.30,254.1 413.70,254.1 414.10,254.1 414.50,256.0 414.90,255.6 415.30,254.8 415.70,253.7 416.10,254.6 416.50,254.7 416.90,256.4 417.30,255.2 417.70,255.1 418.10,254.3 418.50,255.4 418.90,255.0 419.30,254.9 419.70,255.3 420.10,256.4 420.50,254.9 420.90,256.3 421.30,254.9 421.70,254.5 422.10,256.5 422.50,254.7 422.90,255.4 423.30,255.3 423.70,255.4 424.10,255.7 424.50,254.4 424.90,255.6 425.30,255.5 425.70,255.3 426.10,255.0 426.50,255.7 426.90,255.2 427.30,255.7 427.70,255.5 428.10,255.7 428.50,254.3 428.90,255.6 429.30,254.4 429.70,255.6 430.10,254.6 430.50,254.4 430.90,256.1 431.30,255.1 431.70,254.0 432.10,255.0 432.50,254.2 432.90,254.0 433.30,254.6 433.70,254.1 434.10,254.6 434.50,254.3 434.90,253.7 435.30,253.4 435.70,255.6 436.10,254.8 436.50,254.7 436.90,253.7 437.30,254.7 437.70,254.0 438.10,254.7 438.50,253.9 438.90,254.9 439.30,255.1 439.70,255.0 440.10,256.1 440.50,253.9 440.90,255.3 441.30,254.4 441.70,254.0 442.10,254.5 442.50,255.4 442.90,253.4 443.30,253.2 443.70,252.9 444.10,253.0 444.50,254.2 444.90,253.9 445.30,253.0 445.70,255.4 446.10,254.2 446.50,253.3 446.90,253.7 447.30,253.5 447.70,254.8 448.10,255.0 448.50,253.7 448.90,253.7 449.30,254.5 449.70,254.0 450.10,253.9 450.50,254.9 450.90,254.2 451.30,253.9 451.70,254.9 452.10,255.1 452.50,254.7 452.90,255.8 453.30,254.6 453.70,254.4 454.10,254.1 454.50,255.8 454.90,253.1 455.30,255.5 455.70,254.6 456.10,254.8 456.50,254.9 456.90,254.8 457.30,255.3 457.70,254.3 458.10,255.1 458.50,215.2 458.90,216.1 459.30,215.0 459.70,222.4 460.10,221.5 460.50,215.8 460.90,221.0 461.30,222.2 461.70,222.9 462.10,218.6 462.50,222.2 462.90,222.9 463.30,224.4 463.70,223.2 464.10,222.4 464.50,219.6 464.90,220.9 465.30,225.1 465.70,220.5 466.10,223.6 466.50,219.8 466.90,224.9 467.30,223.7 467.70,223.6 468.10,225.6 468.50,223.9 468.90,224.5 469.30,221.8 469.70,224.9 470.10,223.2 470.50,222.5 470.90,221.3 471.30,221.7 471.70,222.1 472.10,220.7 472.50,221.8 472.90,223.0 473.30,225.1 473.70,221.6 474.10,225.0 474.50,222.3 474.90,220.1 475.30,221.4 475.70,221.3 476.10,222.2 476.50,219.8 476.90,221.1 477.30,220.9 477.70,224.3 478.10,223.3 478.50,222.5 478.90,223.1 479.30,223.0 479.70,221.4 480.10,223.8 480.50,223.2 480.90,220.3 481.30,222.9 481.70,224.3 482.10,220.9 482.50,222.8 482.90,222.5 483.30,222.6 483.70,223.2 484.10,222.0 484.50,225.1 484.90,220.7 485.30,225.7 485.70,223.7 486.10,222.1 486.50,225.4 486.90,225.7 487.30,225.3 487.70,225.0 488.10,223.9 488.50,225.4 488.90,226.0 489.30,224.6 489.70,225.6 490.10,221.4 490.50,223.7 490.90,227.0 491.30,226.4 491.70,223.9 492.10,226.3 492.50,227.2 492.90,223.7 493.30,222.4 493.70,224.3 494.10,225.2 494.50,223.7 494.90,224.9 495.30,223.0 495.70,222.0 496.10,223.3 496.50,224.5 496.90,222.8 497.30,223.9 497.70,225.6 498.10,224.2 498.50,224.8 498.90,221.4 499.30,224.9 499.70,223.7 500.10,224.8 500.50,223.4 500.90,223.3 501.30,223.6 501.70,225.8 502.10,227.1 502.50,222.7 502.90,223.8 503.30,221.1 503.70,224.1 504.10,222.5 504.50,227.0 504.90,223.4 505.30,226.0 505.70,224.1 506.10,223.1 506.50,223.2 506.90,224.1 507.30,225.1 507.70,223.3 508.10,223.6 508.50,223.3 508.90,222.9 509.30,225.5 509.70,222.7 510.10,224.5 510.50,222.5 510.90,224.7 511.30,222.0 511.70,221.5 512.10,224.4 512.50,220.7 512.90,221.2 513.30,222.2 513.70,221.6 514.10,219.3 514.50,221.7 514.90,221.5 515.30,219.9 515.70,221.6 516.10,222.7 516.50,223.6 516.90,221.3 517.30,220.7 517.70,224.3 518.10,221.4 518.50,223.4 518.90,220.0 519.30,221.6 519.70,221.4 520.10,222.4 520.50,222.2 520.90,222.9 521.30,221.2 521.70,222.1 522.10,225.4 522.50,221.5 522.90,221.2 523.30,222.9 523.70,223.2 524.10,222.9 524.50,225.1 524.90,223.0 525.30,223.5 525.70,223.0 526.10,223.8 526.50,223.7 526.90,222.7 527.30,223.2 527.70,223.5 528.10,223.5 528.50,221.0 528.90,223.3 529.30,224.3 529.70,226.0 530.10,224.0 530.50,222.7 530.90,224.3 531.30,226.0 531.70,223.1 532.10,224.2 532.50,226.4 532.90,225.7 533.30,222.6 533.70,223.9 534.10,225.3 534.50,225.0 534.90,224.3 535.30,224.6 535.70,225.7 536.10,224.7 536.50,223.5 536.90,224.8 537.30,222.1 537.70,223.4 538.10,224.4 538.50,225.4 538.90,222.7 539.30,222.1 539.70,221.9 540.10,222.8 540.50,223.7 540.90,221.6 541.30,222.1 541.70,221.4 542.10,221.1 542.50,222.4 542.90,223.0 543.30,225.7 543.70,223.0 544.10,224.3 544.50,223.5 544.90,223.9 545.30,225.1 545.70,223.0 546.10,223.3 546.50,223.6 546.90,224.9 547.30,226.8 547.70,222.4 548.10,226.2 548.50,225.8 548.90,224.5 549.30,225.1 549.70,223.3 550.10,223.5 550.50,221.8 550.90,222.2 551.30,224.9 551.70,224.0 552.10,223.9 552.50,226.1 552.90,225.4 553.30,223.8 553.70,223.2 554.10,225.3 554.50,223.0 554.90,223.9 555.30,223.0 555.70,226.3 556.10,225.3 556.50,224.6 556.90,223.4 557.30,224.2 557.70,223.6 558.10,224.9 558.50,225.6 558.90,223.1 559.30,226.1 559.70,225.7 560.10,224.9 560.50,227.6 560.90,222.2 561.30,225.0 561.70,225.4 562.10,224.2 562.50,225.8 562.90,225.8 563.30,227.1 563.70,224.6 564.10,225.9 564.50,224.4 564.90,225.9 565.30,224.9 565.70,227.3 566.10,225.1 566.50,222.8 566.90,223.9 567.30,227.1 567.70,225.7 568.10,224.7 568.50,223.7 568.90,226.1 569.30,222.7 569.70,225.8 570.10,225.4 570.50,224.9 570.90,225.1 571.30,223.2 571.70,227.0 572.10,223.4 572.50,226.0 572.90,227.1 573.30,224.8 573.70,228.1 574.10,226.4 574.50,223.7 574.90,224.3 575.30,225.9 575.70,227.3 576.10,226.3 576.50,228.2 576.90,227.5 577.30,228.0 577.70,225.0 578.10,226.6 578.50,228.8 578.90,224.1 579.30,230.1 579.70,229.1 580.10,225.9 580.50,224.5 580.90,227.5 581.30,227.9 581.70,225.0 582.10,228.0 582.50,227.5 582.90,227.3 583.30,228.2 583.70,228.9 584.10,226.9 584.50,225.4 584.90,227.6 585.30,227.4 585.70,226.8 586.10,226.2 586.50,227.5 586.90,227.4 587.30,228.6 587.70,228.3 588.10,228.6 588.50,229.1 588.90,228.6 589.30,230.4 589.70,228.4 590.10,226.3 590.50,228.9 590.90,226.7 591.30,229.1 591.70,230.4 592.10,228.9 592.50,228.6 592.90,226.7 593.30,228.3 593.70,229.5 594.10,230.0 594.50,231.6 594.90,229.9 595.30,231.3 595.70,232.1 596.10,229.8 596.50,231.7 596.90,230.3 597.30,232.0 597.70,229.6 598.10,229.8 598.50,232.1 598.90,233.9 599.30,233.1 599.70,232.7 600.10,234.3 600.50,236.6 600.90,237.3 601.30,234.7 601.70,238.1 602.10,239.0 602.50,240.6 602.90,240.2 603.30,243.1 603.70,246.4 604.10,245.2 604.50,248.2 604.90,250.3 605.30,253.0 605.70,256.3 606.10,260.7 606.50,264.0 606.90,263.4 607.30,262.2 607.70,262.2 608.10,264.1 608.50,264.9 608.90,261.9 609.30,264.2 609.70,264.5 610.10,263.8 610.50,263.1 610.90,263.1 611.30,265.3 611.70,265.4 612.10,265.9 612.50,265.8 612.90,265.4 613.30,263.9 613.70,263.9 614.10,265.3 614.50,263.7 614.90,264.7 615.30,264.6 615.70,264.3 616.10,263.8 616.50,263.1 616.90,263.7 617.30,262.9 617.70,263.9 618.10,264.4 618.50,264.2 618.90,262.7 619.30,264.0 619.70,263.2 620.10,263.6 620.50,263.9 620.90,265.5 621.30,264.7 621.70,263.8 622.10,266.4 622.50,263.9 622.90,263.6" fill="none" stroke="#ff00ff" stroke-width="0.45" stroke-linejoin="bevel"/>
<circle cx="419.15" cy="254.78" r="2" fill="#fff" stroke="#ff00ff" stroke-width="0.7"/>
<circle cx="427.84" cy="254.34" r="2" fill="#fff" stroke="#ff00ff" stroke-width="0.7"/>
<circle cx="436.54" cy="254.82" r="2" fill="#fff" stroke="#ff00ff" stroke-width="0.7"/>
<circle cx="445.23" cy="254.73" r="2" fill="#fff" stroke="#ff00ff" stroke-width="0.7"/>
<circle cx="453.92" cy="254.62" r="2" fill="#fff" stroke="#ff00ff" stroke-width="0.7"/>
<circle cx="462.61" cy="222.53" r="2" fill="#fff" stroke="#ff00ff" stroke-width="0.7"/>
<circle cx="471.3" cy="222.42" r="2" fill="#fff" stroke="#ff00ff" stroke-width="0.7"/>
<circle cx="480" cy="222.81" r="2" fill="#fff" stroke="#ff00ff" stroke-width="0.7"/>
<circle cx="488.69" cy="223.13" r="2" fill="#fff" stroke="#ff00ff" stroke-width="0.7"/>
<circle cx="497.38" cy="223.16" r="2" fill="#fff" stroke="#ff00ff" stroke-width="0.7"/>
<circle cx="506.07" cy="222.91" r="2" fill="#fff" stroke="#ff00ff" stroke-width="0.7"/>
<circle cx="514.77" cy="222.96" r="2" fill="#fff" stroke="#ff00ff" stroke-width="0.7"/>
<circle cx="523.46" cy="223.53" r="2" fill="#fff" stroke="#ff00ff" stroke-width="0.7"/>
<circle cx="532.15" cy="223.65" r="2" fill="#fff" stroke="#ff00ff" stroke-width="0.7"/>
<circle cx="540.84" cy="223.64" r="2" fill="#fff" stroke="#ff00ff" stroke-width="0.7"/>
<circle cx="549.54" cy="224.28" r="2" fill="#fff" stroke="#ff00ff" stroke-width="0.7"/>
<circle cx="558.23" cy="224.7" r="2" fill="#fff" stroke="#ff00ff" stroke-width="0.7"/>
<circle cx="566.92" cy="224.56" r="2" fill="#fff" stroke="#ff00ff" stroke-width="0.7"/>
<circle cx="575.61" cy="225.89" r="2" fill="#fff" stroke="#ff00ff" stroke-width="0.7"/>
<circle cx="584.31" cy="227.03" r="2" fill="#fff" stroke="#ff00ff" stroke-width="0.7"/>
<circle cx="593" cy="228.74" r="2" fill="#fff" stroke="#ff00ff" stroke-width="0.7"/>
<circle cx="601.69" cy="238.51" r="2" fill="#fff" stroke="#ff00ff" stroke-width="0.7"/>
<circle cx="610.38" cy="263.99" r="2" fill="#fff" stroke="#ff00ff" stroke-width="0.7"/>
<circle cx="619.07" cy="263.85" r="2" fill="#fff" stroke="#ff00ff" stroke-width="0.7"/>
<circle cx="566.92" cy="213.69" r="2" fill="#fff" stroke="#ff00ff" stroke-width="0.7"/>
</g>
<rect x="411.7" y="24.4" width="211.1" height="117.4" fill="none" stroke="#555" stroke-width="1"/>
<line x1="411.7" y1="141.8" x2="413.9" y2="141.8" stroke="#555" stroke-width="0.8" />
<line x1="622.8" y1="141.8" x2="620.6" y2="141.8" stroke="#555" stroke-width="0.8" />
<text x="409.2" y="144.2" font-size="6.8" text-anchor="end" font-weight="normal" font-style="normal" fill="#222" >-300</text>
<line x1="411.7" y1="125.03" x2="413.9" y2="125.03" stroke="#555" stroke-width="0.8" />
<line x1="622.8" y1="125.03" x2="620.6" y2="125.03" stroke="#555" stroke-width="0.8" />
<text x="409.2" y="127.43" font-size="6.8" text-anchor="end" font-weight="normal" font-style="normal" fill="#222" >-250</text>
<line x1="411.7" y1="108.26" x2="413.9" y2="108.26" stroke="#555" stroke-width="0.8" />
<line x1="622.8" y1="108.26" x2="620.6" y2="108.26" stroke="#555" stroke-width="0.8" />
<text x="409.2" y="110.66" font-size="6.8" text-anchor="end" font-weight="normal" font-style="normal" fill="#222" >-200</text>
<line x1="411.7" y1="91.49" x2="413.9" y2="91.49" stroke="#555" stroke-width="0.8" />
<line x1="622.8" y1="91.49" x2="620.6" y2="91.49" stroke="#555" stroke-width="0.8" />
<text x="409.2" y="93.89" font-size="6.8" text-anchor="end" font-weight="normal" font-style="normal" fill="#222" >-150</text>
<line x1="411.7" y1="74.71" x2="413.9" y2="74.71" stroke="#555" stroke-width="0.8" />
<line x1="622.8" y1="74.71" x2="620.6" y2="74.71" stroke="#555" stroke-width="0.8" />
<text x="409.2" y="77.11" font-size="6.8" text-anchor="end" font-weight="normal" font-style="normal" fill="#222" >-100</text>
<line x1="411.7" y1="57.94" x2="413.9" y2="57.94" stroke="#555" stroke-width="0.8" />
<line x1="622.8" y1="57.94" x2="620.6" y2="57.94" stroke="#555" stroke-width="0.8" />
<text x="409.2" y="60.34" font-size="6.8" text-anchor="end" font-weight="normal" font-style="normal" fill="#222" >-50</text>
<line x1="411.7" y1="41.17" x2="413.9" y2="41.17" stroke="#555" stroke-width="0.8" />
<line x1="622.8" y1="41.17" x2="620.6" y2="41.17" stroke="#555" stroke-width="0.8" />
<text x="409.2" y="43.57" font-size="6.8" text-anchor="end" font-weight="normal" font-style="normal" fill="#222" >0</text>
<line x1="411.7" y1="24.4" x2="413.9" y2="24.4" stroke="#555" stroke-width="0.8" />
<line x1="622.8" y1="24.4" x2="620.6" y2="24.4" stroke="#555" stroke-width="0.8" />
<text x="409.2" y="26.8" font-size="6.8" text-anchor="end" font-weight="normal" font-style="normal" fill="#222" >50</text>
<line x1="411.7" y1="133.41" x2="413" y2="133.41" stroke="#777" stroke-width="0.6" />
<line x1="622.8" y1="133.41" x2="621.5" y2="133.41" stroke="#777" stroke-width="0.6" />
<line x1="411.7" y1="116.64" x2="413" y2="116.64" stroke="#777" stroke-width="0.6" />
<line x1="622.8" y1="116.64" x2="621.5" y2="116.64" stroke="#777" stroke-width="0.6" />
<line x1="411.7" y1="99.87" x2="413" y2="99.87" stroke="#777" stroke-width="0.6" />
<line x1="622.8" y1="99.87" x2="621.5" y2="99.87" stroke="#777" stroke-width="0.6" />
<line x1="411.7" y1="83.1" x2="413" y2="83.1" stroke="#777" stroke-width="0.6" />
<line x1="622.8" y1="83.1" x2="621.5" y2="83.1" stroke="#777" stroke-width="0.6" />
<line x1="411.7" y1="66.33" x2="413" y2="66.33" stroke="#777" stroke-width="0.6" />
<line x1="622.8" y1="66.33" x2="621.5" y2="66.33" stroke="#777" stroke-width="0.6" />
<line x1="411.7" y1="49.56" x2="413" y2="49.56" stroke="#777" stroke-width="0.6" />
<line x1="622.8" y1="49.56" x2="621.5" y2="49.56" stroke="#777" stroke-width="0.6" />
<line x1="411.7" y1="32.79" x2="413" y2="32.79" stroke="#777" stroke-width="0.6" />
<line x1="622.8" y1="32.79" x2="621.5" y2="32.79" stroke="#777" stroke-width="0.6" />
<line x1="411.7" y1="141.8" x2="411.7" y2="139.6" stroke="#555" stroke-width="0.7" />
<text x="411.7" y="150.1" font-size="6.8" text-anchor="middle" font-weight="normal" font-style="normal" fill="#222" >0</text>
<line x1="427.22" y1="141.8" x2="427.22" y2="140.5" stroke="#555" stroke-width="0.7" />
<line x1="442.74" y1="141.8" x2="442.74" y2="139.6" stroke="#555" stroke-width="0.7" />
<text x="442.74" y="150.1" font-size="6.8" text-anchor="middle" font-weight="normal" font-style="normal" fill="#222" >500</text>
<line x1="458.27" y1="141.8" x2="458.27" y2="140.5" stroke="#555" stroke-width="0.7" />
<line x1="473.79" y1="141.8" x2="473.79" y2="139.6" stroke="#555" stroke-width="0.7" />
<text x="473.79" y="150.1" font-size="6.8" text-anchor="middle" font-weight="normal" font-style="normal" fill="#222" >1000</text>
<line x1="489.31" y1="141.8" x2="489.31" y2="140.5" stroke="#555" stroke-width="0.7" />
<line x1="504.83" y1="141.8" x2="504.83" y2="139.6" stroke="#555" stroke-width="0.7" />
<text x="504.83" y="150.1" font-size="6.8" text-anchor="middle" font-weight="normal" font-style="normal" fill="#222" >1500</text>
<line x1="520.35" y1="141.8" x2="520.35" y2="140.5" stroke="#555" stroke-width="0.7" />
<line x1="535.88" y1="141.8" x2="535.88" y2="139.6" stroke="#555" stroke-width="0.7" />
<text x="535.88" y="150.1" font-size="6.8" text-anchor="middle" font-weight="normal" font-style="normal" fill="#222" >2000</text>
<line x1="551.4" y1="141.8" x2="551.4" y2="140.5" stroke="#555" stroke-width="0.7" />
<line x1="566.92" y1="141.8" x2="566.92" y2="139.6" stroke="#555" stroke-width="0.7" />
<text x="566.92" y="150.1" font-size="6.8" text-anchor="middle" font-weight="normal" font-style="normal" fill="#222" >2500</text>
<line x1="582.44" y1="141.8" x2="582.44" y2="140.5" stroke="#555" stroke-width="0.7" />
<line x1="597.96" y1="141.8" x2="597.96" y2="139.6" stroke="#555" stroke-width="0.7" />
<text x="597.96" y="150.1" font-size="6.8" text-anchor="middle" font-weight="normal" font-style="normal" fill="#222" >3000</text>
<line x1="613.49" y1="141.8" x2="613.49" y2="140.5" stroke="#555" stroke-width="0.7" />
<rect x="411.7" y="186.4" width="211.1" height="117.9" fill="none" stroke="#555" stroke-width="1"/>
<line x1="411.7" y1="304.3" x2="413.9" y2="304.3" stroke="#555" stroke-width="0.8" />
<line x1="622.8" y1="304.3" x2="620.6" y2="304.3" stroke="#555" stroke-width="0.8" />
<text x="409.2" y="306.7" font-size="6.8" text-anchor="end" font-weight="normal" font-style="normal" fill="#222" >-150</text>
<line x1="411.7" y1="287.46" x2="413.9" y2="287.46" stroke="#555" stroke-width="0.8" />
<line x1="622.8" y1="287.46" x2="620.6" y2="287.46" stroke="#555" stroke-width="0.8" />
<text x="409.2" y="289.86" font-size="6.8" text-anchor="end" font-weight="normal" font-style="normal" fill="#222" >-100</text>
<line x1="411.7" y1="270.61" x2="413.9" y2="270.61" stroke="#555" stroke-width="0.8" />
<line x1="622.8" y1="270.61" x2="620.6" y2="270.61" stroke="#555" stroke-width="0.8" />
<text x="409.2" y="273.01" font-size="6.8" text-anchor="end" font-weight="normal" font-style="normal" fill="#222" >-50</text>
<line x1="411.7" y1="253.77" x2="413.9" y2="253.77" stroke="#555" stroke-width="0.8" />
<line x1="622.8" y1="253.77" x2="620.6" y2="253.77" stroke="#555" stroke-width="0.8" />
<text x="409.2" y="256.17" font-size="6.8" text-anchor="end" font-weight="normal" font-style="normal" fill="#222" >0</text>
<line x1="411.7" y1="236.93" x2="413.9" y2="236.93" stroke="#555" stroke-width="0.8" />
<line x1="622.8" y1="236.93" x2="620.6" y2="236.93" stroke="#555" stroke-width="0.8" />
<text x="409.2" y="239.33" font-size="6.8" text-anchor="end" font-weight="normal" font-style="normal" fill="#222" >50</text>
<line x1="411.7" y1="220.09" x2="413.9" y2="220.09" stroke="#555" stroke-width="0.8" />
<line x1="622.8" y1="220.09" x2="620.6" y2="220.09" stroke="#555" stroke-width="0.8" />
<text x="409.2" y="222.49" font-size="6.8" text-anchor="end" font-weight="normal" font-style="normal" fill="#222" >100</text>
<line x1="411.7" y1="203.24" x2="413.9" y2="203.24" stroke="#555" stroke-width="0.8" />
<line x1="622.8" y1="203.24" x2="620.6" y2="203.24" stroke="#555" stroke-width="0.8" />
<text x="409.2" y="205.64" font-size="6.8" text-anchor="end" font-weight="normal" font-style="normal" fill="#222" >150</text>
<line x1="411.7" y1="186.4" x2="413.9" y2="186.4" stroke="#555" stroke-width="0.8" />
<line x1="622.8" y1="186.4" x2="620.6" y2="186.4" stroke="#555" stroke-width="0.8" />
<text x="409.2" y="188.8" font-size="6.8" text-anchor="end" font-weight="normal" font-style="normal" fill="#222" >200</text>
<line x1="411.7" y1="295.88" x2="413" y2="295.88" stroke="#777" stroke-width="0.6" />
<line x1="622.8" y1="295.88" x2="621.5" y2="295.88" stroke="#777" stroke-width="0.6" />
<line x1="411.7" y1="279.04" x2="413" y2="279.04" stroke="#777" stroke-width="0.6" />
<line x1="622.8" y1="279.04" x2="621.5" y2="279.04" stroke="#777" stroke-width="0.6" />
<line x1="411.7" y1="262.19" x2="413" y2="262.19" stroke="#777" stroke-width="0.6" />
<line x1="622.8" y1="262.19" x2="621.5" y2="262.19" stroke="#777" stroke-width="0.6" />
<line x1="411.7" y1="245.35" x2="413" y2="245.35" stroke="#777" stroke-width="0.6" />
<line x1="622.8" y1="245.35" x2="621.5" y2="245.35" stroke="#777" stroke-width="0.6" />
<line x1="411.7" y1="228.51" x2="413" y2="228.51" stroke="#777" stroke-width="0.6" />
<line x1="622.8" y1="228.51" x2="621.5" y2="228.51" stroke="#777" stroke-width="0.6" />
<line x1="411.7" y1="211.66" x2="413" y2="211.66" stroke="#777" stroke-width="0.6" />
<line x1="622.8" y1="211.66" x2="621.5" y2="211.66" stroke="#777" stroke-width="0.6" />
<line x1="411.7" y1="194.82" x2="413" y2="194.82" stroke="#777" stroke-width="0.6" />
<line x1="622.8" y1="194.82" x2="621.5" y2="194.82" stroke="#777" stroke-width="0.6" />
<line x1="411.7" y1="304.3" x2="411.7" y2="302.1" stroke="#555" stroke-width="0.7" />
<text x="411.7" y="312.6" font-size="6.8" text-anchor="middle" font-weight="normal" font-style="normal" fill="#222" >0</text>
<line x1="427.22" y1="304.3" x2="427.22" y2="303" stroke="#555" stroke-width="0.7" />
<line x1="442.74" y1="304.3" x2="442.74" y2="302.1" stroke="#555" stroke-width="0.7" />
<text x="442.74" y="312.6" font-size="6.8" text-anchor="middle" font-weight="normal" font-style="normal" fill="#222" >500</text>
<line x1="458.27" y1="304.3" x2="458.27" y2="303" stroke="#555" stroke-width="0.7" />
<line x1="473.79" y1="304.3" x2="473.79" y2="302.1" stroke="#555" stroke-width="0.7" />
<text x="473.79" y="312.6" font-size="6.8" text-anchor="middle" font-weight="normal" font-style="normal" fill="#222" >1000</text>
<line x1="489.31" y1="304.3" x2="489.31" y2="303" stroke="#555" stroke-width="0.7" />
<line x1="504.83" y1="304.3" x2="504.83" y2="302.1" stroke="#555" stroke-width="0.7" />
<text x="504.83" y="312.6" font-size="6.8" text-anchor="middle" font-weight="normal" font-style="normal" fill="#222" >1500</text>
<line x1="520.35" y1="304.3" x2="520.35" y2="303" stroke="#555" stroke-width="0.7" />
<line x1="535.88" y1="304.3" x2="535.88" y2="302.1" stroke="#555" stroke-width="0.7" />
<text x="535.88" y="312.6" font-size="6.8" text-anchor="middle" font-weight="normal" font-style="normal" fill="#222" >2000</text>
<line x1="551.4" y1="304.3" x2="551.4" y2="303" stroke="#555" stroke-width="0.7" />
<line x1="566.92" y1="304.3" x2="566.92" y2="302.1" stroke="#555" stroke-width="0.7" />
<text x="566.92" y="312.6" font-size="6.8" text-anchor="middle" font-weight="normal" font-style="normal" fill="#222" >2500</text>
<line x1="582.44" y1="304.3" x2="582.44" y2="303" stroke="#555" stroke-width="0.7" />
<line x1="597.96" y1="304.3" x2="597.96" y2="302.1" stroke="#555" stroke-width="0.7" />
<text x="597.96" y="312.6" font-size="6.8" text-anchor="middle" font-weight="normal" font-style="normal" fill="#222" >3000</text>
<line x1="613.49" y1="304.3" x2="613.49" y2="303" stroke="#555" stroke-width="0.7" />
<text x="517.8" y="165.1" font-size="10" text-anchor="middle" font-weight="normal" font-style="normal" fill="#000" >Time (s)</text>
<text x="517.8" y="325.6" font-size="10" text-anchor="middle" font-weight="normal" font-style="normal" fill="#000" >Time (s)</text>
<text transform="translate(387.3,88) rotate(-90)" font-size="10" text-anchor="middle">Strain (&#956;&#949;)</text>
<text transform="translate(390.3,250) rotate(-90)" font-size="10" text-anchor="middle">Strain (&#956;&#949;)</text>
<line x1="416" y1="66" x2="454" y2="66" stroke="#111" stroke-width="0.9" />
<polygon points="412,66 416.5,64.1 416.5,67.9" fill="#000"/>
<polygon points="458,66 453.5,64.1 453.5,67.9" fill="#000"/>
<line x1="463.7" y1="66" x2="604.4" y2="66" stroke="#111" stroke-width="0.9" />
<polygon points="459.7,66 464.2,64.1 464.2,67.9" fill="#000"/>
<polygon points="608.4,66 603.9,64.1 603.9,67.9" fill="#000"/>
<rect x="415.1" y="70" width="40.9" height="11.4" fill="#fff" stroke="#333" stroke-width="0.9"/>
<text x="435.55" y="78.9" font-size="8.9" text-anchor="middle" font-weight="normal" font-style="normal" fill="#000" >Taxiing</text>
<rect x="514.2" y="70" width="39.9" height="11.6" fill="#fff" stroke="#333" stroke-width="0.9"/>
<text x="534.15" y="79" font-size="8.9" text-anchor="middle" font-weight="normal" font-style="normal" fill="#000" >In-flight</text>
<rect x="465.6" y="32.7" width="40" height="10.8" fill="#fff" stroke="#333" stroke-width="0.9"/>
<text x="485.6" y="41.3" font-size="8.9" text-anchor="middle" font-weight="normal" font-style="normal" fill="#000" >Take-off</text>
<rect x="563.5" y="32.7" width="39.8" height="10.3" fill="#fff" stroke="#333" stroke-width="0.9"/>
<text x="583.4" y="41.05" font-size="8.9" text-anchor="middle" font-weight="normal" font-style="normal" fill="#000" >Landing</text>
<line x1="470.4" y1="44.2" x2="461.5" y2="55.5" stroke="#111" stroke-width="0.8" />
<polygon points="459.3,57.6 460.2,53.2 463.3,55.7" fill="#000"/>
<line x1="596.4" y1="43.2" x2="606.4" y2="55.8" stroke="#111" stroke-width="0.8" />
<polygon points="608.4,58.1 604.5,56.4 607.5,53.9" fill="#000"/>
<rect x="413.6" y="96" width="42" height="41.9" fill="#fff" stroke="#bbb" stroke-width="0.7"/>
<line x1="414.8" y1="101" x2="430.1" y2="101" stroke="#9a9a30" stroke-width="0.9" opacity="0.75"/>
<rect x="420.4" y="99.2" width="3.6" height="3.6" fill="#fff" stroke="#9a9a30" stroke-width="0.8"/>
<text x="432.8" y="103.4" font-size="6.8" text-anchor="start" font-weight="normal" font-style="normal" fill="#333" >FBG6</text>
<line x1="414.8" y1="109.6" x2="430.1" y2="109.6" stroke="#2020a0" stroke-width="0.9" opacity="0.75"/>
<circle cx="422.2" cy="109.6" r="2" fill="#fff" stroke="#2020a0" stroke-width="0.8"/>
<text x="432.8" y="112" font-size="6.8" text-anchor="start" font-weight="normal" font-style="normal" fill="#333" >FBG7</text>
<line x1="414.8" y1="118.1" x2="430.1" y2="118.1" stroke="#901010" stroke-width="0.9" opacity="0.75"/>
<polygon points="422.2,115.9 424.4,119.7 420,119.7" fill="#fff" stroke="#901010" stroke-width="0.8"/>
<text x="432.8" y="120.5" font-size="6.8" text-anchor="start" font-weight="normal" font-style="normal" fill="#333" >FBG8</text>
<line x1="414.8" y1="126.4" x2="430.1" y2="126.4" stroke="#ff1493" stroke-width="0.9" opacity="0.75"/>
<polygon points="422.2,128.6 424.4,124.8 420,124.8" fill="#fff" stroke="#ff1493" stroke-width="0.8"/>
<text x="432.8" y="128.8" font-size="6.8" text-anchor="start" font-weight="normal" font-style="normal" fill="#333" >FBG9</text>
<line x1="414.8" y1="134.8" x2="430.1" y2="134.8" stroke="#1a961a" stroke-width="0.9" opacity="0.75"/>
<polygon points="420,134.8 423.8,132.6 423.8,137" fill="#fff" stroke="#1a961a" stroke-width="0.8"/>
<text x="432.8" y="137.2" font-size="6.8" text-anchor="start" font-weight="normal" font-style="normal" fill="#333" >FBG10</text>
<rect x="414.3" y="258.8" width="37.5" height="42.1" fill="#fff" stroke="#bbb" stroke-width="0.7"/>
<line x1="415.5" y1="263.4" x2="430.8" y2="263.4" stroke="#000" stroke-width="0.9" opacity="0.75"/>
<circle cx="422.9" cy="263.4" r="2" fill="#fff" stroke="#000" stroke-width="0.8"/>
<text x="433.5" y="265.8" font-size="6.8" text-anchor="start" font-weight="normal" font-style="normal" fill="#333" >FBG1</text>
<line x1="415.5" y1="271.8" x2="430.8" y2="271.8" stroke="#ff0000" stroke-width="0.9" opacity="0.75"/>
<polygon points="425.1,271.8 421.3,269.6 421.3,274" fill="#fff" stroke="#ff0000" stroke-width="0.8"/>
<text x="433.5" y="274.2" font-size="6.8" text-anchor="start" font-weight="normal" font-style="normal" fill="#333" >FBG2</text>
<line x1="415.5" y1="280.2" x2="430.8" y2="280.2" stroke="#0000ff" stroke-width="0.9" opacity="0.75"/>
<polygon points="422.9,277.9 425.2,280.2 422.9,282.5 420.6,280.2" fill="#fff" stroke="#0000ff" stroke-width="0.8"/>
<text x="433.5" y="282.6" font-size="6.8" text-anchor="start" font-weight="normal" font-style="normal" fill="#333" >FBG3</text>
<line x1="415.5" y1="288.7" x2="430.8" y2="288.7" stroke="#0a8a8a" stroke-width="0.9" opacity="0.75"/>
<polygon points="422.9,286.3 423.5,288 425.2,288 423.8,289.1 424.3,290.8 422.9,289.8 421.5,290.8 422,289.1 420.6,288 422.3,288" fill="#fff" stroke="#0a8a8a" stroke-width="0.7"/>
<text x="433.5" y="291.1" font-size="6.8" text-anchor="start" font-weight="normal" font-style="normal" fill="#333" >FBG4</text>
<line x1="415.5" y1="297.2" x2="430.8" y2="297.2" stroke="#ff00ff" stroke-width="0.9" opacity="0.75"/>
<circle cx="422.9" cy="297.2" r="2" fill="#fff" stroke="#ff00ff" stroke-width="0.8"/>
<text x="433.5" y="299.6" font-size="6.8" text-anchor="start" font-weight="normal" font-style="normal" fill="#333" >FBG5</text>
</svg>
</body></html>
